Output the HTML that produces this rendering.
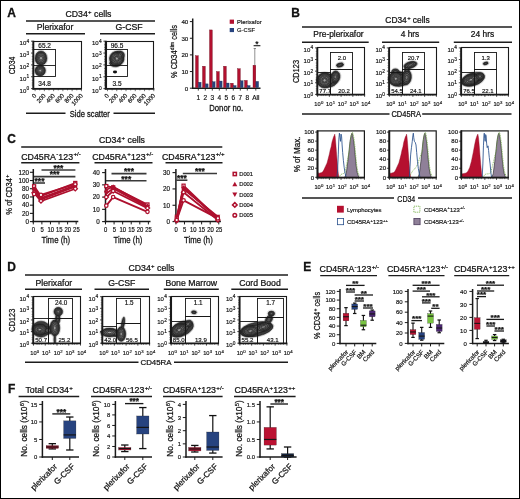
<!DOCTYPE html>
<html><head><meta charset="utf-8"><title>Figure</title>
<style>
html,body{margin:0;padding:0;background:#fff;}
body{width:520px;height:499px;overflow:hidden;font-family:"Liberation Sans",sans-serif;}
svg{display:block;will-change:transform;}
text{font-family:"Liberation Sans",sans-serif;}
</style></head><body>
<svg width="520" height="499" viewBox="0 0 520 499" font-family="Liberation Sans, sans-serif">
<rect x="0.00" y="0.00" width="520.00" height="499.00" fill="#ffffff" />
<text transform="translate(7.30,17.30)" font-size="12.0" text-anchor="start" font-weight="bold" fill="#111" stroke="#111" stroke-width="0.300" >A</text>
<text transform="translate(88.50,17.30)" font-size="8.7" text-anchor="middle" font-weight="normal" fill="#111" stroke="#111" stroke-width="0.244" >CD34<tspan font-size="6.09" dx="0.35" dy="-3.13">+</tspan><tspan dy="3.13"> cells</tspan></text>
<line x1="26.00" y1="20.90" x2="155.00" y2="20.90" stroke="#1c1c1c" stroke-width="1.45" />
<text transform="translate(55.00,30.30)" font-size="8.7" text-anchor="middle" font-weight="normal" fill="#111" stroke="#111" stroke-width="0.244" >Plerixafor</text>
<line x1="26.00" y1="33.80" x2="85.00" y2="33.80" stroke="#1c1c1c" stroke-width="1.45" />
<text transform="translate(129.00,30.30)" font-size="8.7" text-anchor="middle" font-weight="normal" fill="#111" stroke="#111" stroke-width="0.244" >G-CSF</text>
<line x1="100.00" y1="33.80" x2="155.00" y2="33.80" stroke="#1c1c1c" stroke-width="1.45" />
<ellipse cx="41.00" cy="58.20" rx="6.90" ry="8.10" fill="none" stroke="#999" stroke-width="0.35" transform="rotate(0 41.00 58.20)"/>
<ellipse cx="40.20" cy="70.60" rx="6.20" ry="6.30" fill="none" stroke="#999" stroke-width="0.35" transform="rotate(0 40.20 70.60)"/>
<ellipse cx="41.00" cy="58.20" rx="6.00" ry="7.20" fill="#3a3a3a" stroke="#151515" stroke-width="0.55" transform="rotate(0 41.00 58.20)"/>
<ellipse cx="40.20" cy="70.60" rx="5.30" ry="5.40" fill="#3a3a3a" stroke="#151515" stroke-width="0.55" transform="rotate(0 40.20 70.60)"/>
<ellipse cx="41.00" cy="58.20" rx="4.88" ry="5.85" fill="#525252" stroke="#151515" stroke-width="0.55" transform="rotate(0 41.00 58.20)"/>
<ellipse cx="40.20" cy="70.60" rx="4.31" ry="4.39" fill="#525252" stroke="#151515" stroke-width="0.55" transform="rotate(0 40.20 70.60)"/>
<ellipse cx="41.00" cy="58.20" rx="3.76" ry="4.51" fill="#666666" stroke="#151515" stroke-width="0.55" transform="rotate(0 41.00 58.20)"/>
<ellipse cx="40.20" cy="70.60" rx="3.32" ry="3.38" fill="#666666" stroke="#151515" stroke-width="0.55" transform="rotate(0 40.20 70.60)"/>
<ellipse cx="41.00" cy="58.20" rx="2.64" ry="3.16" fill="#747474" stroke="#151515" stroke-width="0.55" transform="rotate(0 41.00 58.20)"/>
<ellipse cx="40.20" cy="70.60" rx="2.33" ry="2.37" fill="#747474" stroke="#151515" stroke-width="0.55" transform="rotate(0 40.20 70.60)"/>
<ellipse cx="41.00" cy="58.20" rx="1.51" ry="1.82" fill="#a0a0a0" stroke="#151515" stroke-width="0.55" transform="rotate(0 41.00 58.20)"/>
<ellipse cx="40.20" cy="70.60" rx="1.34" ry="1.36" fill="#a0a0a0" stroke="#151515" stroke-width="0.55" transform="rotate(0 40.20 70.60)"/>
<rect x="33.50" y="49.50" width="22.00" height="27.00" fill="none" stroke="#151515" stroke-width="0.9" />
<line x1="33.60" y1="65.50" x2="55.50" y2="65.50" stroke="#151515" stroke-width="0.9" />
<rect x="33.50" y="41.50" width="48.00" height="47.00" fill="none" stroke="#1a1a1a" stroke-width="1.1" />
<line x1="33.30" y1="40.70" x2="33.30" y2="89.50" stroke="#1a1a1a" stroke-width="1.9" />
<line x1="32.40" y1="88.80" x2="81.90" y2="88.80" stroke="#1a1a1a" stroke-width="1.7" />
<line x1="31.00" y1="88.60" x2="32.80" y2="88.60" stroke="#1a1a1a" stroke-width="0.8" />
<line x1="31.72" y1="85.03" x2="32.80" y2="85.03" stroke="#1a1a1a" stroke-width="0.5" />
<line x1="31.72" y1="82.95" x2="32.80" y2="82.95" stroke="#1a1a1a" stroke-width="0.5" />
<line x1="31.72" y1="80.32" x2="32.80" y2="80.32" stroke="#1a1a1a" stroke-width="0.5" />
<line x1="31.00" y1="76.75" x2="32.80" y2="76.75" stroke="#1a1a1a" stroke-width="0.8" />
<line x1="31.72" y1="73.18" x2="32.80" y2="73.18" stroke="#1a1a1a" stroke-width="0.5" />
<line x1="31.72" y1="71.10" x2="32.80" y2="71.10" stroke="#1a1a1a" stroke-width="0.5" />
<line x1="31.72" y1="68.47" x2="32.80" y2="68.47" stroke="#1a1a1a" stroke-width="0.5" />
<line x1="31.00" y1="64.90" x2="32.80" y2="64.90" stroke="#1a1a1a" stroke-width="0.8" />
<line x1="31.72" y1="61.33" x2="32.80" y2="61.33" stroke="#1a1a1a" stroke-width="0.5" />
<line x1="31.72" y1="59.25" x2="32.80" y2="59.25" stroke="#1a1a1a" stroke-width="0.5" />
<line x1="31.72" y1="56.62" x2="32.80" y2="56.62" stroke="#1a1a1a" stroke-width="0.5" />
<line x1="31.00" y1="53.05" x2="32.80" y2="53.05" stroke="#1a1a1a" stroke-width="0.8" />
<line x1="31.72" y1="49.48" x2="32.80" y2="49.48" stroke="#1a1a1a" stroke-width="0.5" />
<line x1="31.72" y1="47.40" x2="32.80" y2="47.40" stroke="#1a1a1a" stroke-width="0.5" />
<line x1="31.72" y1="44.77" x2="32.80" y2="44.77" stroke="#1a1a1a" stroke-width="0.5" />
<line x1="31.00" y1="41.20" x2="32.80" y2="41.20" stroke="#1a1a1a" stroke-width="0.8" />
<text transform="translate(29.20,92.50)" font-size="6.0" text-anchor="end" font-weight="normal" fill="#111" stroke="#111" stroke-width="0.168" >10<tspan font-size="4.80" dx="0.24" dy="-2.16">0</tspan></text>
<text transform="translate(29.20,80.65)" font-size="6.0" text-anchor="end" font-weight="normal" fill="#111" stroke="#111" stroke-width="0.168" >10<tspan font-size="4.80" dx="0.24" dy="-2.16">1</tspan></text>
<text transform="translate(29.20,68.80)" font-size="6.0" text-anchor="end" font-weight="normal" fill="#111" stroke="#111" stroke-width="0.168" >10<tspan font-size="4.80" dx="0.24" dy="-2.16">2</tspan></text>
<text transform="translate(29.20,56.95)" font-size="6.0" text-anchor="end" font-weight="normal" fill="#111" stroke="#111" stroke-width="0.168" >10<tspan font-size="4.80" dx="0.24" dy="-2.16">3</tspan></text>
<text transform="translate(29.20,45.10)" font-size="6.0" text-anchor="end" font-weight="normal" fill="#111" stroke="#111" stroke-width="0.168" >10<tspan font-size="4.80" dx="0.24" dy="-2.16">4</tspan></text>
<line x1="35.10" y1="89.20" x2="35.10" y2="91.20" stroke="#1a1a1a" stroke-width="0.6" />
<line x1="39.73" y1="89.20" x2="39.73" y2="90.40" stroke="#1a1a1a" stroke-width="0.6" />
<line x1="44.36" y1="89.20" x2="44.36" y2="91.20" stroke="#1a1a1a" stroke-width="0.6" />
<line x1="48.99" y1="89.20" x2="48.99" y2="90.40" stroke="#1a1a1a" stroke-width="0.6" />
<line x1="53.62" y1="89.20" x2="53.62" y2="91.20" stroke="#1a1a1a" stroke-width="0.6" />
<line x1="58.25" y1="89.20" x2="58.25" y2="90.40" stroke="#1a1a1a" stroke-width="0.6" />
<line x1="62.88" y1="89.20" x2="62.88" y2="91.20" stroke="#1a1a1a" stroke-width="0.6" />
<line x1="67.51" y1="89.20" x2="67.51" y2="90.40" stroke="#1a1a1a" stroke-width="0.6" />
<line x1="72.14" y1="89.20" x2="72.14" y2="91.20" stroke="#1a1a1a" stroke-width="0.6" />
<line x1="76.77" y1="89.20" x2="76.77" y2="90.40" stroke="#1a1a1a" stroke-width="0.6" />
<line x1="81.40" y1="89.20" x2="81.40" y2="91.20" stroke="#1a1a1a" stroke-width="0.6" />
<text transform="translate(36.90,96.00) rotate(-47)" font-size="6.1" text-anchor="end" font-weight="normal" fill="#111" stroke="#111" stroke-width="0.171" >0</text>
<text transform="translate(46.16,96.00) rotate(-47)" font-size="6.1" text-anchor="end" font-weight="normal" fill="#111" stroke="#111" stroke-width="0.171" >200</text>
<text transform="translate(55.42,96.00) rotate(-47)" font-size="6.1" text-anchor="end" font-weight="normal" fill="#111" stroke="#111" stroke-width="0.171" >400</text>
<text transform="translate(64.68,96.00) rotate(-47)" font-size="6.1" text-anchor="end" font-weight="normal" fill="#111" stroke="#111" stroke-width="0.171" >600</text>
<text transform="translate(73.94,96.00) rotate(-47)" font-size="6.1" text-anchor="end" font-weight="normal" fill="#111" stroke="#111" stroke-width="0.171" >800</text>
<text transform="translate(83.20,96.00) rotate(-47)" font-size="6.1" text-anchor="end" font-weight="normal" fill="#111" stroke="#111" stroke-width="0.171" >1000</text>
<text transform="translate(44.60,48.40)" font-size="6.5" text-anchor="middle" font-weight="normal" fill="#111" stroke="#111" stroke-width="0.182" >65.2</text>
<text transform="translate(44.60,86.10)" font-size="6.5" text-anchor="middle" font-weight="normal" fill="#111" stroke="#111" stroke-width="0.182" >34.8</text>
<ellipse cx="115.00" cy="72" rx="2.1" ry="1.4" fill="#111"/>
<ellipse cx="115.20" cy="63.20" rx="6.50" ry="4.50" fill="none" stroke="#999" stroke-width="0.35" transform="rotate(0 115.20 63.20)"/>
<ellipse cx="116.80" cy="58.60" rx="8.20" ry="8.20" fill="none" stroke="#999" stroke-width="0.35" transform="rotate(30 116.80 58.60)"/>
<ellipse cx="119.20" cy="55.80" rx="6.30" ry="5.50" fill="none" stroke="#999" stroke-width="0.35" transform="rotate(-30 119.20 55.80)"/>
<ellipse cx="115.20" cy="63.20" rx="5.60" ry="3.60" fill="#3a3a3a" stroke="#151515" stroke-width="0.55" transform="rotate(0 115.20 63.20)"/>
<ellipse cx="116.80" cy="58.60" rx="7.30" ry="7.30" fill="#3a3a3a" stroke="#151515" stroke-width="0.55" transform="rotate(30 116.80 58.60)"/>
<ellipse cx="119.20" cy="55.80" rx="5.40" ry="4.60" fill="#3a3a3a" stroke="#151515" stroke-width="0.55" transform="rotate(-30 119.20 55.80)"/>
<ellipse cx="115.20" cy="63.20" rx="3.22" ry="2.07" fill="#525252" stroke="#151515" stroke-width="0.55" transform="rotate(0 115.20 63.20)"/>
<ellipse cx="116.80" cy="58.60" rx="6.15" ry="6.15" fill="#525252" stroke="#151515" stroke-width="0.55" transform="rotate(30 116.80 58.60)"/>
<ellipse cx="119.20" cy="55.80" rx="3.79" ry="3.23" fill="#525252" stroke="#151515" stroke-width="0.55" transform="rotate(-30 119.20 55.80)"/>
<ellipse cx="116.80" cy="58.60" rx="5.00" ry="5.00" fill="#666666" stroke="#151515" stroke-width="0.55" transform="rotate(30 116.80 58.60)"/>
<ellipse cx="119.20" cy="55.80" rx="2.18" ry="1.85" fill="#666666" stroke="#151515" stroke-width="0.55" transform="rotate(-30 119.20 55.80)"/>
<ellipse cx="116.80" cy="58.60" rx="3.85" ry="3.85" fill="#747474" stroke="#151515" stroke-width="0.55" transform="rotate(30 116.80 58.60)"/>
<ellipse cx="116.80" cy="58.60" rx="2.70" ry="2.70" fill="#606060" stroke="#151515" stroke-width="0.55" transform="rotate(30 116.80 58.60)"/>
<ellipse cx="116.80" cy="58.60" rx="1.55" ry="1.55" fill="#a0a0a0" stroke="#151515" stroke-width="0.55" transform="rotate(30 116.80 58.60)"/>
<rect x="106.50" y="49.50" width="21.00" height="27.00" fill="none" stroke="#151515" stroke-width="0.9" />
<line x1="106.00" y1="65.50" x2="127.50" y2="65.50" stroke="#151515" stroke-width="0.9" />
<rect x="106.50" y="41.50" width="47.00" height="47.00" fill="none" stroke="#1a1a1a" stroke-width="1.1" />
<line x1="105.70" y1="40.70" x2="105.70" y2="89.50" stroke="#1a1a1a" stroke-width="1.9" />
<line x1="104.80" y1="88.80" x2="154.30" y2="88.80" stroke="#1a1a1a" stroke-width="1.7" />
<line x1="103.40" y1="88.60" x2="105.20" y2="88.60" stroke="#1a1a1a" stroke-width="0.8" />
<line x1="104.12" y1="85.03" x2="105.20" y2="85.03" stroke="#1a1a1a" stroke-width="0.5" />
<line x1="104.12" y1="82.95" x2="105.20" y2="82.95" stroke="#1a1a1a" stroke-width="0.5" />
<line x1="104.12" y1="80.32" x2="105.20" y2="80.32" stroke="#1a1a1a" stroke-width="0.5" />
<line x1="103.40" y1="76.75" x2="105.20" y2="76.75" stroke="#1a1a1a" stroke-width="0.8" />
<line x1="104.12" y1="73.18" x2="105.20" y2="73.18" stroke="#1a1a1a" stroke-width="0.5" />
<line x1="104.12" y1="71.10" x2="105.20" y2="71.10" stroke="#1a1a1a" stroke-width="0.5" />
<line x1="104.12" y1="68.47" x2="105.20" y2="68.47" stroke="#1a1a1a" stroke-width="0.5" />
<line x1="103.40" y1="64.90" x2="105.20" y2="64.90" stroke="#1a1a1a" stroke-width="0.8" />
<line x1="104.12" y1="61.33" x2="105.20" y2="61.33" stroke="#1a1a1a" stroke-width="0.5" />
<line x1="104.12" y1="59.25" x2="105.20" y2="59.25" stroke="#1a1a1a" stroke-width="0.5" />
<line x1="104.12" y1="56.62" x2="105.20" y2="56.62" stroke="#1a1a1a" stroke-width="0.5" />
<line x1="103.40" y1="53.05" x2="105.20" y2="53.05" stroke="#1a1a1a" stroke-width="0.8" />
<line x1="104.12" y1="49.48" x2="105.20" y2="49.48" stroke="#1a1a1a" stroke-width="0.5" />
<line x1="104.12" y1="47.40" x2="105.20" y2="47.40" stroke="#1a1a1a" stroke-width="0.5" />
<line x1="104.12" y1="44.77" x2="105.20" y2="44.77" stroke="#1a1a1a" stroke-width="0.5" />
<line x1="103.40" y1="41.20" x2="105.20" y2="41.20" stroke="#1a1a1a" stroke-width="0.8" />
<text transform="translate(101.60,92.50)" font-size="6.0" text-anchor="end" font-weight="normal" fill="#111" stroke="#111" stroke-width="0.168" >10<tspan font-size="4.80" dx="0.24" dy="-2.16">0</tspan></text>
<text transform="translate(101.60,80.65)" font-size="6.0" text-anchor="end" font-weight="normal" fill="#111" stroke="#111" stroke-width="0.168" >10<tspan font-size="4.80" dx="0.24" dy="-2.16">1</tspan></text>
<text transform="translate(101.60,68.80)" font-size="6.0" text-anchor="end" font-weight="normal" fill="#111" stroke="#111" stroke-width="0.168" >10<tspan font-size="4.80" dx="0.24" dy="-2.16">2</tspan></text>
<text transform="translate(101.60,56.95)" font-size="6.0" text-anchor="end" font-weight="normal" fill="#111" stroke="#111" stroke-width="0.168" >10<tspan font-size="4.80" dx="0.24" dy="-2.16">3</tspan></text>
<text transform="translate(101.60,45.10)" font-size="6.0" text-anchor="end" font-weight="normal" fill="#111" stroke="#111" stroke-width="0.168" >10<tspan font-size="4.80" dx="0.24" dy="-2.16">4</tspan></text>
<line x1="107.50" y1="89.20" x2="107.50" y2="91.20" stroke="#1a1a1a" stroke-width="0.6" />
<line x1="112.13" y1="89.20" x2="112.13" y2="90.40" stroke="#1a1a1a" stroke-width="0.6" />
<line x1="116.76" y1="89.20" x2="116.76" y2="91.20" stroke="#1a1a1a" stroke-width="0.6" />
<line x1="121.39" y1="89.20" x2="121.39" y2="90.40" stroke="#1a1a1a" stroke-width="0.6" />
<line x1="126.02" y1="89.20" x2="126.02" y2="91.20" stroke="#1a1a1a" stroke-width="0.6" />
<line x1="130.65" y1="89.20" x2="130.65" y2="90.40" stroke="#1a1a1a" stroke-width="0.6" />
<line x1="135.28" y1="89.20" x2="135.28" y2="91.20" stroke="#1a1a1a" stroke-width="0.6" />
<line x1="139.91" y1="89.20" x2="139.91" y2="90.40" stroke="#1a1a1a" stroke-width="0.6" />
<line x1="144.54" y1="89.20" x2="144.54" y2="91.20" stroke="#1a1a1a" stroke-width="0.6" />
<line x1="149.17" y1="89.20" x2="149.17" y2="90.40" stroke="#1a1a1a" stroke-width="0.6" />
<line x1="153.80" y1="89.20" x2="153.80" y2="91.20" stroke="#1a1a1a" stroke-width="0.6" />
<text transform="translate(109.30,96.00) rotate(-47)" font-size="6.1" text-anchor="end" font-weight="normal" fill="#111" stroke="#111" stroke-width="0.171" >0</text>
<text transform="translate(118.56,96.00) rotate(-47)" font-size="6.1" text-anchor="end" font-weight="normal" fill="#111" stroke="#111" stroke-width="0.171" >200</text>
<text transform="translate(127.82,96.00) rotate(-47)" font-size="6.1" text-anchor="end" font-weight="normal" fill="#111" stroke="#111" stroke-width="0.171" >400</text>
<text transform="translate(137.08,96.00) rotate(-47)" font-size="6.1" text-anchor="end" font-weight="normal" fill="#111" stroke="#111" stroke-width="0.171" >600</text>
<text transform="translate(146.34,96.00) rotate(-47)" font-size="6.1" text-anchor="end" font-weight="normal" fill="#111" stroke="#111" stroke-width="0.171" >800</text>
<text transform="translate(155.60,96.00) rotate(-47)" font-size="6.1" text-anchor="end" font-weight="normal" fill="#111" stroke="#111" stroke-width="0.171" >1000</text>
<text transform="translate(117.00,48.40)" font-size="6.5" text-anchor="middle" font-weight="normal" fill="#111" stroke="#111" stroke-width="0.182" >96.5</text>
<text transform="translate(117.00,86.10)" font-size="6.5" text-anchor="middle" font-weight="normal" fill="#111" stroke="#111" stroke-width="0.182" >3.5</text>
<text transform="translate(14.80,65.50) rotate(-90) scale(0.8,1)" font-size="8.6" text-anchor="middle" font-weight="normal" fill="#111" stroke="#111" stroke-width="0.241" >CD34</text>
<text transform="translate(89.80,116.60) scale(0.79,1)" font-size="9.6" text-anchor="middle" font-weight="normal" fill="#111" stroke="#111" stroke-width="0.269" >Side scatter</text>
<line x1="26.00" y1="113.30" x2="65.50" y2="113.30" stroke="#1c1c1c" stroke-width="1.45" />
<line x1="113.50" y1="113.30" x2="155.00" y2="113.30" stroke="#1c1c1c" stroke-width="1.45" />
<line x1="192.70" y1="18.50" x2="192.70" y2="88.90" stroke="#1a1a1a" stroke-width="1.5" />
<line x1="192.00" y1="88.20" x2="260.50" y2="88.20" stroke="#1a1a1a" stroke-width="1.5" />
<line x1="189.90" y1="88.20" x2="192.70" y2="88.20" stroke="#1a1a1a" stroke-width="1.0" />
<text transform="translate(188.30,90.50)" font-size="6.2" text-anchor="end" font-weight="normal" fill="#111" stroke="#111" stroke-width="0.174" >0</text>
<line x1="189.90" y1="71.55" x2="192.70" y2="71.55" stroke="#1a1a1a" stroke-width="1.0" />
<text transform="translate(188.30,73.85)" font-size="6.2" text-anchor="end" font-weight="normal" fill="#111" stroke="#111" stroke-width="0.174" >10</text>
<line x1="189.90" y1="54.90" x2="192.70" y2="54.90" stroke="#1a1a1a" stroke-width="1.0" />
<text transform="translate(188.30,57.20)" font-size="6.2" text-anchor="end" font-weight="normal" fill="#111" stroke="#111" stroke-width="0.174" >20</text>
<line x1="189.90" y1="38.25" x2="192.70" y2="38.25" stroke="#1a1a1a" stroke-width="1.0" />
<text transform="translate(188.30,40.55)" font-size="6.2" text-anchor="end" font-weight="normal" fill="#111" stroke="#111" stroke-width="0.174" >30</text>
<line x1="189.90" y1="21.60" x2="192.70" y2="21.60" stroke="#1a1a1a" stroke-width="1.0" />
<text transform="translate(188.30,23.90)" font-size="6.2" text-anchor="end" font-weight="normal" fill="#111" stroke="#111" stroke-width="0.174" >40</text>
<rect x="195.50" y="55.73" width="2.80" height="31.87" fill="#b2102f" stroke="#6a0a1c" stroke-width="0.35" />
<rect x="198.40" y="82.21" width="2.70" height="5.39" fill="#27437f" stroke="#16233f" stroke-width="0.3" />
<rect x="202.50" y="66.22" width="2.80" height="21.38" fill="#b2102f" stroke="#6a0a1c" stroke-width="0.35" />
<rect x="205.40" y="83.87" width="2.70" height="3.73" fill="#27437f" stroke="#16233f" stroke-width="0.3" />
<rect x="209.50" y="29.93" width="2.80" height="57.67" fill="#b2102f" stroke="#6a0a1c" stroke-width="0.35" />
<rect x="212.40" y="81.71" width="2.70" height="5.89" fill="#27437f" stroke="#16233f" stroke-width="0.3" />
<rect x="216.50" y="71.55" width="2.80" height="16.05" fill="#b2102f" stroke="#6a0a1c" stroke-width="0.35" />
<rect x="219.40" y="81.04" width="2.70" height="6.56" fill="#27437f" stroke="#16233f" stroke-width="0.3" />
<rect x="223.50" y="66.22" width="2.80" height="21.38" fill="#b2102f" stroke="#6a0a1c" stroke-width="0.35" />
<rect x="226.40" y="83.04" width="2.70" height="4.56" fill="#27437f" stroke="#16233f" stroke-width="0.3" />
<rect x="230.50" y="83.20" width="2.80" height="4.40" fill="#b2102f" stroke="#6a0a1c" stroke-width="0.35" />
<rect x="233.40" y="85.54" width="2.70" height="2.06" fill="#27437f" stroke="#16233f" stroke-width="0.3" />
<rect x="237.50" y="68.72" width="2.80" height="18.88" fill="#b2102f" stroke="#6a0a1c" stroke-width="0.35" />
<rect x="240.40" y="80.71" width="2.70" height="6.89" fill="#27437f" stroke="#16233f" stroke-width="0.3" />
<rect x="244.50" y="80.37" width="2.80" height="7.23" fill="#b2102f" stroke="#6a0a1c" stroke-width="0.35" />
<rect x="247.40" y="85.54" width="2.70" height="2.06" fill="#27437f" stroke="#16233f" stroke-width="0.3" />
<rect x="253.00" y="65.22" width="2.80" height="22.38" fill="#b2102f" stroke="#6a0a1c" stroke-width="0.35" />
<rect x="255.90" y="81.37" width="2.70" height="6.23" fill="#27437f" stroke="#16233f" stroke-width="0.3" />
<text transform="translate(198.30,99.50)" font-size="6.5" text-anchor="middle" font-weight="normal" fill="#111" stroke="#111" stroke-width="0.182" >1</text>
<line x1="198.30" y1="88.20" x2="198.30" y2="90.60" stroke="#1a1a1a" stroke-width="0.8" />
<text transform="translate(205.30,99.50)" font-size="6.5" text-anchor="middle" font-weight="normal" fill="#111" stroke="#111" stroke-width="0.182" >2</text>
<line x1="205.30" y1="88.20" x2="205.30" y2="90.60" stroke="#1a1a1a" stroke-width="0.8" />
<text transform="translate(212.30,99.50)" font-size="6.5" text-anchor="middle" font-weight="normal" fill="#111" stroke="#111" stroke-width="0.182" >3</text>
<line x1="212.30" y1="88.20" x2="212.30" y2="90.60" stroke="#1a1a1a" stroke-width="0.8" />
<text transform="translate(219.30,99.50)" font-size="6.5" text-anchor="middle" font-weight="normal" fill="#111" stroke="#111" stroke-width="0.182" >4</text>
<line x1="219.30" y1="88.20" x2="219.30" y2="90.60" stroke="#1a1a1a" stroke-width="0.8" />
<text transform="translate(226.30,99.50)" font-size="6.5" text-anchor="middle" font-weight="normal" fill="#111" stroke="#111" stroke-width="0.182" >5</text>
<line x1="226.30" y1="88.20" x2="226.30" y2="90.60" stroke="#1a1a1a" stroke-width="0.8" />
<text transform="translate(233.30,99.50)" font-size="6.5" text-anchor="middle" font-weight="normal" fill="#111" stroke="#111" stroke-width="0.182" >6</text>
<line x1="233.30" y1="88.20" x2="233.30" y2="90.60" stroke="#1a1a1a" stroke-width="0.8" />
<text transform="translate(240.30,99.50)" font-size="6.5" text-anchor="middle" font-weight="normal" fill="#111" stroke="#111" stroke-width="0.182" >7</text>
<line x1="240.30" y1="88.20" x2="240.30" y2="90.60" stroke="#1a1a1a" stroke-width="0.8" />
<text transform="translate(247.30,99.50)" font-size="6.5" text-anchor="middle" font-weight="normal" fill="#111" stroke="#111" stroke-width="0.182" >8</text>
<line x1="247.30" y1="88.20" x2="247.30" y2="90.60" stroke="#1a1a1a" stroke-width="0.8" />
<text transform="translate(255.80,99.50)" font-size="6.5" text-anchor="middle" font-weight="normal" fill="#111" stroke="#111" stroke-width="0.182" >All</text>
<line x1="255.80" y1="88.20" x2="255.80" y2="90.60" stroke="#1a1a1a" stroke-width="0.8" />
<line x1="254.80" y1="48.50" x2="254.80" y2="65.50" stroke="#444" stroke-width="0.6" />
<line x1="253.60" y1="48.50" x2="256.00" y2="48.50" stroke="#444" stroke-width="0.6" />
<text transform="translate(257.00,47.30)" font-size="8.5" text-anchor="middle" font-weight="bold" fill="#111" stroke="#111" stroke-width="0.000" >*</text>
<line x1="253.60" y1="45.70" x2="260.40" y2="45.70" stroke="#1a1a1a" stroke-width="1.1" />
<text transform="translate(226.20,110.80) scale(0.84,1)" font-size="9.2" text-anchor="middle" font-weight="normal" fill="#111" stroke="#111" stroke-width="0.258" >Donor no.</text>
<text transform="translate(176.70,51.50) rotate(-90) scale(0.9,1)" font-size="8.2" text-anchor="middle" font-weight="normal" fill="#111" stroke="#111" stroke-width="0.230" >% CD34<tspan font-size="5.74" dx="0.33" dy="-2.95">dim</tspan><tspan dy="2.95"> cells</tspan></text>
<rect x="229.70" y="19.60" width="4.30" height="4.20" fill="#b2102f" />
<rect x="229.70" y="28.00" width="4.30" height="4.10" fill="#27437f" />
<text transform="translate(237.10,23.60)" font-size="5.8" text-anchor="start" font-weight="normal" fill="#111" stroke="#111" stroke-width="0.162" >Plerixafor</text>
<text transform="translate(237.10,32.10)" font-size="5.8" text-anchor="start" font-weight="normal" fill="#111" stroke="#111" stroke-width="0.162" >G-CSF</text>
<text transform="translate(291.30,17.30)" font-size="12.0" text-anchor="start" font-weight="bold" fill="#111" stroke="#111" stroke-width="0.300" >B</text>
<text transform="translate(407.50,22.60)" font-size="8.4" text-anchor="middle" font-weight="normal" fill="#111" stroke="#111" stroke-width="0.235" >CD34<tspan font-size="5.88" dx="0.34" dy="-3.02">+</tspan><tspan dy="3.02"> cells</tspan></text>
<line x1="302.00" y1="27.00" x2="512.00" y2="27.00" stroke="#1c1c1c" stroke-width="1.45" />
<text transform="translate(338.50,37.20)" font-size="8.4" text-anchor="middle" font-weight="normal" fill="#111" stroke="#111" stroke-width="0.235" >Pre-plerixafor</text>
<line x1="302.00" y1="42.20" x2="368.70" y2="42.20" stroke="#1c1c1c" stroke-width="1.45" />
<text transform="translate(410.00,37.20)" font-size="8.4" text-anchor="middle" font-weight="normal" fill="#111" stroke="#111" stroke-width="0.235" >4 hrs</text>
<line x1="382.00" y1="42.20" x2="439.20" y2="42.20" stroke="#1c1c1c" stroke-width="1.45" />
<text transform="translate(482.50,37.20)" font-size="8.4" text-anchor="middle" font-weight="normal" fill="#111" stroke="#111" stroke-width="0.235" >24 hrs</text>
<line x1="453.80" y1="42.20" x2="512.00" y2="42.20" stroke="#1c1c1c" stroke-width="1.45" />
<ellipse cx="327.10" cy="80.50" rx="11.40" ry="7.90" fill="none" stroke="#999" stroke-width="0.35" transform="rotate(0 327.10 80.50)"/>
<ellipse cx="324.60" cy="80.30" rx="8.50" ry="8.70" fill="none" stroke="#999" stroke-width="0.35" transform="rotate(0 324.60 80.30)"/>
<ellipse cx="335.40" cy="77.00" rx="5.50" ry="7.10" fill="none" stroke="#999" stroke-width="0.35" transform="rotate(10 335.40 77.00)"/>
<ellipse cx="340.00" cy="65.00" rx="4.60" ry="3.00" fill="none" stroke="#999" stroke-width="0.35" transform="rotate(-15 340.00 65.00)"/>
<ellipse cx="327.10" cy="80.50" rx="10.50" ry="7.00" fill="#3a3a3a" stroke="#151515" stroke-width="0.55" transform="rotate(0 327.10 80.50)"/>
<ellipse cx="324.60" cy="80.30" rx="7.60" ry="7.80" fill="#3a3a3a" stroke="#151515" stroke-width="0.55" transform="rotate(0 324.60 80.30)"/>
<ellipse cx="335.40" cy="77.00" rx="4.60" ry="6.20" fill="#3a3a3a" stroke="#151515" stroke-width="0.55" transform="rotate(10 335.40 77.00)"/>
<ellipse cx="340.00" cy="65.00" rx="3.70" ry="2.10" fill="#3a3a3a" stroke="#151515" stroke-width="0.55" transform="rotate(-15 340.00 65.00)"/>
<ellipse cx="327.10" cy="80.50" rx="6.03" ry="4.02" fill="#525252" stroke="#151515" stroke-width="0.55" transform="rotate(0 327.10 80.50)"/>
<ellipse cx="324.60" cy="80.30" rx="6.40" ry="6.57" fill="#525252" stroke="#151515" stroke-width="0.55" transform="rotate(0 324.60 80.30)"/>
<ellipse cx="335.40" cy="77.00" rx="3.54" ry="4.77" fill="#525252" stroke="#151515" stroke-width="0.55" transform="rotate(10 335.40 77.00)"/>
<ellipse cx="340.00" cy="65.00" rx="2.60" ry="1.47" fill="#525252" stroke="#151515" stroke-width="0.55" transform="rotate(-15 340.00 65.00)"/>
<ellipse cx="324.60" cy="80.30" rx="5.21" ry="5.34" fill="#666666" stroke="#151515" stroke-width="0.55" transform="rotate(0 324.60 80.30)"/>
<ellipse cx="335.40" cy="77.00" rx="2.49" ry="3.35" fill="#666666" stroke="#151515" stroke-width="0.55" transform="rotate(10 335.40 77.00)"/>
<ellipse cx="340.00" cy="65.00" rx="1.49" ry="0.85" fill="#666666" stroke="#151515" stroke-width="0.55" transform="rotate(-15 340.00 65.00)"/>
<ellipse cx="324.60" cy="80.30" rx="4.01" ry="4.11" fill="#747474" stroke="#151515" stroke-width="0.55" transform="rotate(0 324.60 80.30)"/>
<ellipse cx="335.40" cy="77.00" rx="1.43" ry="1.92" fill="#747474" stroke="#151515" stroke-width="0.55" transform="rotate(10 335.40 77.00)"/>
<ellipse cx="324.60" cy="80.30" rx="2.81" ry="2.89" fill="#606060" stroke="#151515" stroke-width="0.55" transform="rotate(0 324.60 80.30)"/>
<ellipse cx="324.60" cy="80.30" rx="1.62" ry="1.66" fill="#a0a0a0" stroke="#151515" stroke-width="0.55" transform="rotate(0 324.60 80.30)"/>
<rect x="330.50" y="52.50" width="22.00" height="17.00" fill="none" stroke="#151515" stroke-width="0.9" />
<rect x="330.50" y="69.50" width="22.00" height="25.00" fill="none" stroke="#151515" stroke-width="0.9" />
<rect x="317.50" y="72.50" width="13.00" height="22.00" fill="none" stroke="#151515" stroke-width="0.9" />
<rect x="317.50" y="47.50" width="47.00" height="47.00" fill="none" stroke="#1a1a1a" stroke-width="1.1" />
<line x1="317.30" y1="47.40" x2="317.30" y2="95.30" stroke="#1a1a1a" stroke-width="1.9" />
<line x1="316.40" y1="94.60" x2="365.10" y2="94.60" stroke="#1a1a1a" stroke-width="1.7" />
<line x1="315.00" y1="94.40" x2="316.80" y2="94.40" stroke="#1a1a1a" stroke-width="0.8" />
<line x1="315.72" y1="90.90" x2="316.80" y2="90.90" stroke="#1a1a1a" stroke-width="0.5" />
<line x1="315.72" y1="88.85" x2="316.80" y2="88.85" stroke="#1a1a1a" stroke-width="0.5" />
<line x1="315.72" y1="86.27" x2="316.80" y2="86.27" stroke="#1a1a1a" stroke-width="0.5" />
<line x1="315.00" y1="82.78" x2="316.80" y2="82.78" stroke="#1a1a1a" stroke-width="0.8" />
<line x1="315.72" y1="79.28" x2="316.80" y2="79.28" stroke="#1a1a1a" stroke-width="0.5" />
<line x1="315.72" y1="77.23" x2="316.80" y2="77.23" stroke="#1a1a1a" stroke-width="0.5" />
<line x1="315.72" y1="74.65" x2="316.80" y2="74.65" stroke="#1a1a1a" stroke-width="0.5" />
<line x1="315.00" y1="71.15" x2="316.80" y2="71.15" stroke="#1a1a1a" stroke-width="0.8" />
<line x1="315.72" y1="67.65" x2="316.80" y2="67.65" stroke="#1a1a1a" stroke-width="0.5" />
<line x1="315.72" y1="65.60" x2="316.80" y2="65.60" stroke="#1a1a1a" stroke-width="0.5" />
<line x1="315.72" y1="63.02" x2="316.80" y2="63.02" stroke="#1a1a1a" stroke-width="0.5" />
<line x1="315.00" y1="59.52" x2="316.80" y2="59.52" stroke="#1a1a1a" stroke-width="0.8" />
<line x1="315.72" y1="56.03" x2="316.80" y2="56.03" stroke="#1a1a1a" stroke-width="0.5" />
<line x1="315.72" y1="53.98" x2="316.80" y2="53.98" stroke="#1a1a1a" stroke-width="0.5" />
<line x1="315.72" y1="51.40" x2="316.80" y2="51.40" stroke="#1a1a1a" stroke-width="0.5" />
<line x1="315.00" y1="47.90" x2="316.80" y2="47.90" stroke="#1a1a1a" stroke-width="0.8" />
<text transform="translate(313.20,98.00)" font-size="6.0" text-anchor="end" font-weight="normal" fill="#111" stroke="#111" stroke-width="0.168" >10<tspan font-size="4.80" dx="0.24" dy="-2.16">0</tspan></text>
<text transform="translate(313.20,86.38)" font-size="6.0" text-anchor="end" font-weight="normal" fill="#111" stroke="#111" stroke-width="0.168" >10<tspan font-size="4.80" dx="0.24" dy="-2.16">1</tspan></text>
<text transform="translate(313.20,74.75)" font-size="6.0" text-anchor="end" font-weight="normal" fill="#111" stroke="#111" stroke-width="0.168" >10<tspan font-size="4.80" dx="0.24" dy="-2.16">2</tspan></text>
<text transform="translate(313.20,63.12)" font-size="6.0" text-anchor="end" font-weight="normal" fill="#111" stroke="#111" stroke-width="0.168" >10<tspan font-size="4.80" dx="0.24" dy="-2.16">3</tspan></text>
<text transform="translate(313.20,51.50)" font-size="6.0" text-anchor="end" font-weight="normal" fill="#111" stroke="#111" stroke-width="0.168" >10<tspan font-size="4.80" dx="0.24" dy="-2.16">4</tspan></text>
<line x1="317.60" y1="95.00" x2="317.60" y2="96.80" stroke="#1a1a1a" stroke-width="0.8" />
<line x1="321.14" y1="95.00" x2="321.14" y2="96.08" stroke="#1a1a1a" stroke-width="0.5" />
<line x1="323.21" y1="95.00" x2="323.21" y2="96.08" stroke="#1a1a1a" stroke-width="0.5" />
<line x1="325.81" y1="95.00" x2="325.81" y2="96.08" stroke="#1a1a1a" stroke-width="0.5" />
<line x1="329.35" y1="95.00" x2="329.35" y2="96.80" stroke="#1a1a1a" stroke-width="0.8" />
<line x1="332.89" y1="95.00" x2="332.89" y2="96.08" stroke="#1a1a1a" stroke-width="0.5" />
<line x1="334.96" y1="95.00" x2="334.96" y2="96.08" stroke="#1a1a1a" stroke-width="0.5" />
<line x1="337.56" y1="95.00" x2="337.56" y2="96.08" stroke="#1a1a1a" stroke-width="0.5" />
<line x1="341.10" y1="95.00" x2="341.10" y2="96.80" stroke="#1a1a1a" stroke-width="0.8" />
<line x1="344.64" y1="95.00" x2="344.64" y2="96.08" stroke="#1a1a1a" stroke-width="0.5" />
<line x1="346.71" y1="95.00" x2="346.71" y2="96.08" stroke="#1a1a1a" stroke-width="0.5" />
<line x1="349.31" y1="95.00" x2="349.31" y2="96.08" stroke="#1a1a1a" stroke-width="0.5" />
<line x1="352.85" y1="95.00" x2="352.85" y2="96.80" stroke="#1a1a1a" stroke-width="0.8" />
<line x1="356.39" y1="95.00" x2="356.39" y2="96.08" stroke="#1a1a1a" stroke-width="0.5" />
<line x1="358.46" y1="95.00" x2="358.46" y2="96.08" stroke="#1a1a1a" stroke-width="0.5" />
<line x1="361.06" y1="95.00" x2="361.06" y2="96.08" stroke="#1a1a1a" stroke-width="0.5" />
<line x1="364.60" y1="95.00" x2="364.60" y2="96.80" stroke="#1a1a1a" stroke-width="0.8" />
<text transform="translate(318.80,106.10)" font-size="5.7" text-anchor="middle" font-weight="normal" fill="#111" stroke="#111" stroke-width="0.160" >10<tspan font-size="4.28" dx="0.23" dy="-2.05">0</tspan></text>
<text transform="translate(330.55,106.10)" font-size="5.7" text-anchor="middle" font-weight="normal" fill="#111" stroke="#111" stroke-width="0.160" >10<tspan font-size="4.28" dx="0.23" dy="-2.05">1</tspan></text>
<text transform="translate(342.30,106.10)" font-size="5.7" text-anchor="middle" font-weight="normal" fill="#111" stroke="#111" stroke-width="0.160" >10<tspan font-size="4.28" dx="0.23" dy="-2.05">2</tspan></text>
<text transform="translate(354.05,106.10)" font-size="5.7" text-anchor="middle" font-weight="normal" fill="#111" stroke="#111" stroke-width="0.160" >10<tspan font-size="4.28" dx="0.23" dy="-2.05">3</tspan></text>
<text transform="translate(365.80,106.10)" font-size="5.7" text-anchor="middle" font-weight="normal" fill="#111" stroke="#111" stroke-width="0.160" >10<tspan font-size="4.28" dx="0.23" dy="-2.05">4</tspan></text>
<text transform="translate(341.80,59.90)" font-size="6.0" text-anchor="middle" font-weight="normal" fill="#111" stroke="#111" stroke-width="0.168" >2.0</text>
<text transform="translate(325.20,92.60)" font-size="6.0" text-anchor="middle" font-weight="normal" fill="#111" stroke="#111" stroke-width="0.168" >77.7</text>
<text transform="translate(344.00,92.60)" font-size="6.0" text-anchor="middle" font-weight="normal" fill="#111" stroke="#111" stroke-width="0.168" >20.2</text>
<ellipse cx="398.90" cy="79.00" rx="11.40" ry="8.40" fill="none" stroke="#999" stroke-width="0.35" transform="rotate(0 398.90 79.00)"/>
<ellipse cx="395.40" cy="73.00" rx="4.90" ry="5.10" fill="none" stroke="#999" stroke-width="0.35" transform="rotate(0 395.40 73.00)"/>
<ellipse cx="395.80" cy="78.80" rx="7.90" ry="7.90" fill="none" stroke="#999" stroke-width="0.35" transform="rotate(0 395.80 78.80)"/>
<ellipse cx="406.60" cy="77.50" rx="5.70" ry="8.40" fill="none" stroke="#999" stroke-width="0.35" transform="rotate(8 406.60 77.50)"/>
<ellipse cx="410.40" cy="65.00" rx="7.70" ry="4.20" fill="none" stroke="#999" stroke-width="0.35" transform="rotate(-15 410.40 65.00)"/>
<ellipse cx="406.90" cy="69.50" rx="3.40" ry="4.40" fill="none" stroke="#999" stroke-width="0.35" transform="rotate(0 406.90 69.50)"/>
<ellipse cx="398.90" cy="79.00" rx="10.50" ry="7.50" fill="#3a3a3a" stroke="#151515" stroke-width="0.55" transform="rotate(0 398.90 79.00)"/>
<ellipse cx="395.40" cy="73.00" rx="4.00" ry="4.20" fill="#3a3a3a" stroke="#151515" stroke-width="0.55" transform="rotate(0 395.40 73.00)"/>
<ellipse cx="395.80" cy="78.80" rx="7.00" ry="7.00" fill="#3a3a3a" stroke="#151515" stroke-width="0.55" transform="rotate(0 395.80 78.80)"/>
<ellipse cx="406.60" cy="77.50" rx="4.80" ry="7.50" fill="#3a3a3a" stroke="#151515" stroke-width="0.55" transform="rotate(8 406.60 77.50)"/>
<ellipse cx="410.40" cy="65.00" rx="6.80" ry="3.30" fill="#3a3a3a" stroke="#151515" stroke-width="0.55" transform="rotate(-15 410.40 65.00)"/>
<ellipse cx="406.90" cy="69.50" rx="2.50" ry="3.50" fill="#3a3a3a" stroke="#151515" stroke-width="0.55" transform="rotate(0 406.90 69.50)"/>
<ellipse cx="398.90" cy="79.00" rx="6.03" ry="4.31" fill="#525252" stroke="#151515" stroke-width="0.55" transform="rotate(0 398.90 79.00)"/>
<ellipse cx="395.40" cy="73.00" rx="2.30" ry="2.41" fill="#525252" stroke="#151515" stroke-width="0.55" transform="rotate(0 395.40 73.00)"/>
<ellipse cx="395.80" cy="78.80" rx="5.90" ry="5.90" fill="#525252" stroke="#151515" stroke-width="0.55" transform="rotate(0 395.80 78.80)"/>
<ellipse cx="406.60" cy="77.50" rx="3.70" ry="5.78" fill="#525252" stroke="#151515" stroke-width="0.55" transform="rotate(8 406.60 77.50)"/>
<ellipse cx="410.40" cy="65.00" rx="5.24" ry="2.54" fill="#525252" stroke="#151515" stroke-width="0.55" transform="rotate(-15 410.40 65.00)"/>
<ellipse cx="406.90" cy="69.50" rx="1.44" ry="2.01" fill="#525252" stroke="#151515" stroke-width="0.55" transform="rotate(0 406.90 69.50)"/>
<ellipse cx="395.80" cy="78.80" rx="4.80" ry="4.80" fill="#666666" stroke="#151515" stroke-width="0.55" transform="rotate(0 395.80 78.80)"/>
<ellipse cx="406.60" cy="77.50" rx="2.59" ry="4.05" fill="#666666" stroke="#151515" stroke-width="0.55" transform="rotate(8 406.60 77.50)"/>
<ellipse cx="410.40" cy="65.00" rx="3.67" ry="1.78" fill="#666666" stroke="#151515" stroke-width="0.55" transform="rotate(-15 410.40 65.00)"/>
<ellipse cx="395.80" cy="78.80" rx="3.69" ry="3.69" fill="#747474" stroke="#151515" stroke-width="0.55" transform="rotate(0 395.80 78.80)"/>
<ellipse cx="406.60" cy="77.50" rx="1.49" ry="2.33" fill="#747474" stroke="#151515" stroke-width="0.55" transform="rotate(8 406.60 77.50)"/>
<ellipse cx="410.40" cy="65.00" rx="2.11" ry="1.02" fill="#747474" stroke="#151515" stroke-width="0.55" transform="rotate(-15 410.40 65.00)"/>
<ellipse cx="395.80" cy="78.80" rx="2.59" ry="2.59" fill="#606060" stroke="#151515" stroke-width="0.55" transform="rotate(0 395.80 78.80)"/>
<ellipse cx="395.80" cy="78.80" rx="1.49" ry="1.49" fill="#a0a0a0" stroke="#151515" stroke-width="0.55" transform="rotate(0 395.80 78.80)"/>
<rect x="402.50" y="52.50" width="22.00" height="17.00" fill="none" stroke="#151515" stroke-width="0.9" />
<rect x="402.50" y="69.50" width="22.00" height="25.00" fill="none" stroke="#151515" stroke-width="0.9" />
<rect x="389.50" y="72.50" width="13.00" height="22.00" fill="none" stroke="#151515" stroke-width="0.9" />
<rect x="389.50" y="47.50" width="47.00" height="47.00" fill="none" stroke="#1a1a1a" stroke-width="1.1" />
<line x1="389.10" y1="47.40" x2="389.10" y2="95.30" stroke="#1a1a1a" stroke-width="1.9" />
<line x1="388.20" y1="94.60" x2="436.90" y2="94.60" stroke="#1a1a1a" stroke-width="1.7" />
<line x1="386.80" y1="94.40" x2="388.60" y2="94.40" stroke="#1a1a1a" stroke-width="0.8" />
<line x1="387.52" y1="90.90" x2="388.60" y2="90.90" stroke="#1a1a1a" stroke-width="0.5" />
<line x1="387.52" y1="88.85" x2="388.60" y2="88.85" stroke="#1a1a1a" stroke-width="0.5" />
<line x1="387.52" y1="86.27" x2="388.60" y2="86.27" stroke="#1a1a1a" stroke-width="0.5" />
<line x1="386.80" y1="82.78" x2="388.60" y2="82.78" stroke="#1a1a1a" stroke-width="0.8" />
<line x1="387.52" y1="79.28" x2="388.60" y2="79.28" stroke="#1a1a1a" stroke-width="0.5" />
<line x1="387.52" y1="77.23" x2="388.60" y2="77.23" stroke="#1a1a1a" stroke-width="0.5" />
<line x1="387.52" y1="74.65" x2="388.60" y2="74.65" stroke="#1a1a1a" stroke-width="0.5" />
<line x1="386.80" y1="71.15" x2="388.60" y2="71.15" stroke="#1a1a1a" stroke-width="0.8" />
<line x1="387.52" y1="67.65" x2="388.60" y2="67.65" stroke="#1a1a1a" stroke-width="0.5" />
<line x1="387.52" y1="65.60" x2="388.60" y2="65.60" stroke="#1a1a1a" stroke-width="0.5" />
<line x1="387.52" y1="63.02" x2="388.60" y2="63.02" stroke="#1a1a1a" stroke-width="0.5" />
<line x1="386.80" y1="59.52" x2="388.60" y2="59.52" stroke="#1a1a1a" stroke-width="0.8" />
<line x1="387.52" y1="56.03" x2="388.60" y2="56.03" stroke="#1a1a1a" stroke-width="0.5" />
<line x1="387.52" y1="53.98" x2="388.60" y2="53.98" stroke="#1a1a1a" stroke-width="0.5" />
<line x1="387.52" y1="51.40" x2="388.60" y2="51.40" stroke="#1a1a1a" stroke-width="0.5" />
<line x1="386.80" y1="47.90" x2="388.60" y2="47.90" stroke="#1a1a1a" stroke-width="0.8" />
<text transform="translate(385.00,98.00)" font-size="6.0" text-anchor="end" font-weight="normal" fill="#111" stroke="#111" stroke-width="0.168" >10<tspan font-size="4.80" dx="0.24" dy="-2.16">0</tspan></text>
<text transform="translate(385.00,86.38)" font-size="6.0" text-anchor="end" font-weight="normal" fill="#111" stroke="#111" stroke-width="0.168" >10<tspan font-size="4.80" dx="0.24" dy="-2.16">1</tspan></text>
<text transform="translate(385.00,74.75)" font-size="6.0" text-anchor="end" font-weight="normal" fill="#111" stroke="#111" stroke-width="0.168" >10<tspan font-size="4.80" dx="0.24" dy="-2.16">2</tspan></text>
<text transform="translate(385.00,63.12)" font-size="6.0" text-anchor="end" font-weight="normal" fill="#111" stroke="#111" stroke-width="0.168" >10<tspan font-size="4.80" dx="0.24" dy="-2.16">3</tspan></text>
<text transform="translate(385.00,51.50)" font-size="6.0" text-anchor="end" font-weight="normal" fill="#111" stroke="#111" stroke-width="0.168" >10<tspan font-size="4.80" dx="0.24" dy="-2.16">4</tspan></text>
<line x1="389.40" y1="95.00" x2="389.40" y2="96.80" stroke="#1a1a1a" stroke-width="0.8" />
<line x1="392.94" y1="95.00" x2="392.94" y2="96.08" stroke="#1a1a1a" stroke-width="0.5" />
<line x1="395.01" y1="95.00" x2="395.01" y2="96.08" stroke="#1a1a1a" stroke-width="0.5" />
<line x1="397.61" y1="95.00" x2="397.61" y2="96.08" stroke="#1a1a1a" stroke-width="0.5" />
<line x1="401.15" y1="95.00" x2="401.15" y2="96.80" stroke="#1a1a1a" stroke-width="0.8" />
<line x1="404.69" y1="95.00" x2="404.69" y2="96.08" stroke="#1a1a1a" stroke-width="0.5" />
<line x1="406.76" y1="95.00" x2="406.76" y2="96.08" stroke="#1a1a1a" stroke-width="0.5" />
<line x1="409.36" y1="95.00" x2="409.36" y2="96.08" stroke="#1a1a1a" stroke-width="0.5" />
<line x1="412.90" y1="95.00" x2="412.90" y2="96.80" stroke="#1a1a1a" stroke-width="0.8" />
<line x1="416.44" y1="95.00" x2="416.44" y2="96.08" stroke="#1a1a1a" stroke-width="0.5" />
<line x1="418.51" y1="95.00" x2="418.51" y2="96.08" stroke="#1a1a1a" stroke-width="0.5" />
<line x1="421.11" y1="95.00" x2="421.11" y2="96.08" stroke="#1a1a1a" stroke-width="0.5" />
<line x1="424.65" y1="95.00" x2="424.65" y2="96.80" stroke="#1a1a1a" stroke-width="0.8" />
<line x1="428.19" y1="95.00" x2="428.19" y2="96.08" stroke="#1a1a1a" stroke-width="0.5" />
<line x1="430.26" y1="95.00" x2="430.26" y2="96.08" stroke="#1a1a1a" stroke-width="0.5" />
<line x1="432.86" y1="95.00" x2="432.86" y2="96.08" stroke="#1a1a1a" stroke-width="0.5" />
<line x1="436.40" y1="95.00" x2="436.40" y2="96.80" stroke="#1a1a1a" stroke-width="0.8" />
<text transform="translate(390.60,106.10)" font-size="5.7" text-anchor="middle" font-weight="normal" fill="#111" stroke="#111" stroke-width="0.160" >10<tspan font-size="4.28" dx="0.23" dy="-2.05">0</tspan></text>
<text transform="translate(402.35,106.10)" font-size="5.7" text-anchor="middle" font-weight="normal" fill="#111" stroke="#111" stroke-width="0.160" >10<tspan font-size="4.28" dx="0.23" dy="-2.05">1</tspan></text>
<text transform="translate(414.10,106.10)" font-size="5.7" text-anchor="middle" font-weight="normal" fill="#111" stroke="#111" stroke-width="0.160" >10<tspan font-size="4.28" dx="0.23" dy="-2.05">2</tspan></text>
<text transform="translate(425.85,106.10)" font-size="5.7" text-anchor="middle" font-weight="normal" fill="#111" stroke="#111" stroke-width="0.160" >10<tspan font-size="4.28" dx="0.23" dy="-2.05">3</tspan></text>
<text transform="translate(437.60,106.10)" font-size="5.7" text-anchor="middle" font-weight="normal" fill="#111" stroke="#111" stroke-width="0.160" >10<tspan font-size="4.28" dx="0.23" dy="-2.05">4</tspan></text>
<text transform="translate(413.60,59.90)" font-size="6.0" text-anchor="middle" font-weight="normal" fill="#111" stroke="#111" stroke-width="0.168" >20.7</text>
<text transform="translate(397.00,92.60)" font-size="6.0" text-anchor="middle" font-weight="normal" fill="#111" stroke="#111" stroke-width="0.168" >54.5</text>
<text transform="translate(415.80,92.60)" font-size="6.0" text-anchor="middle" font-weight="normal" fill="#111" stroke="#111" stroke-width="0.168" >24.1</text>
<ellipse cx="472.90" cy="79.30" rx="12.90" ry="7.30" fill="none" stroke="#999" stroke-width="0.35" transform="rotate(-17 472.90 79.30)"/>
<ellipse cx="470.80" cy="79.80" rx="9.90" ry="6.50" fill="none" stroke="#999" stroke-width="0.35" transform="rotate(-17 470.80 79.80)"/>
<ellipse cx="479.90" cy="76.50" rx="5.30" ry="4.50" fill="none" stroke="#999" stroke-width="0.35" transform="rotate(-20 479.90 76.50)"/>
<ellipse cx="485.70" cy="63.40" rx="3.50" ry="2.30" fill="none" stroke="#999" stroke-width="0.35" transform="rotate(-15 485.70 63.40)"/>
<ellipse cx="472.90" cy="79.30" rx="12.00" ry="6.40" fill="#3a3a3a" stroke="#151515" stroke-width="0.55" transform="rotate(-17 472.90 79.30)"/>
<ellipse cx="470.80" cy="79.80" rx="9.00" ry="5.60" fill="#3a3a3a" stroke="#151515" stroke-width="0.55" transform="rotate(-17 470.80 79.80)"/>
<ellipse cx="479.90" cy="76.50" rx="4.40" ry="3.60" fill="#3a3a3a" stroke="#151515" stroke-width="0.55" transform="rotate(-20 479.90 76.50)"/>
<ellipse cx="485.70" cy="63.40" rx="2.60" ry="1.40" fill="#3a3a3a" stroke="#151515" stroke-width="0.55" transform="rotate(-15 485.70 63.40)"/>
<ellipse cx="472.90" cy="79.30" rx="6.89" ry="3.68" fill="#525252" stroke="#151515" stroke-width="0.55" transform="rotate(-17 472.90 79.30)"/>
<ellipse cx="470.80" cy="79.80" rx="7.58" ry="4.72" fill="#525252" stroke="#151515" stroke-width="0.55" transform="rotate(-17 470.80 79.80)"/>
<ellipse cx="479.90" cy="76.50" rx="3.09" ry="2.53" fill="#525252" stroke="#151515" stroke-width="0.55" transform="rotate(-20 479.90 76.50)"/>
<ellipse cx="485.70" cy="63.40" rx="1.49" ry="0.80" fill="#525252" stroke="#151515" stroke-width="0.55" transform="rotate(-15 485.70 63.40)"/>
<ellipse cx="470.80" cy="79.80" rx="6.17" ry="3.84" fill="#666666" stroke="#151515" stroke-width="0.55" transform="rotate(-17 470.80 79.80)"/>
<ellipse cx="479.90" cy="76.50" rx="1.77" ry="1.45" fill="#666666" stroke="#151515" stroke-width="0.55" transform="rotate(-20 479.90 76.50)"/>
<ellipse cx="470.80" cy="79.80" rx="4.75" ry="2.95" fill="#747474" stroke="#151515" stroke-width="0.55" transform="rotate(-17 470.80 79.80)"/>
<ellipse cx="470.80" cy="79.80" rx="3.33" ry="2.07" fill="#606060" stroke="#151515" stroke-width="0.55" transform="rotate(-17 470.80 79.80)"/>
<ellipse cx="470.80" cy="79.80" rx="1.91" ry="1.19" fill="#a0a0a0" stroke="#151515" stroke-width="0.55" transform="rotate(-17 470.80 79.80)"/>
<rect x="474.50" y="52.50" width="22.00" height="17.00" fill="none" stroke="#151515" stroke-width="0.9" />
<rect x="474.50" y="69.50" width="22.00" height="25.00" fill="none" stroke="#151515" stroke-width="0.9" />
<rect x="461.50" y="72.50" width="13.00" height="22.00" fill="none" stroke="#151515" stroke-width="0.9" />
<rect x="461.50" y="47.50" width="47.00" height="47.00" fill="none" stroke="#1a1a1a" stroke-width="1.1" />
<line x1="461.10" y1="47.40" x2="461.10" y2="95.30" stroke="#1a1a1a" stroke-width="1.9" />
<line x1="460.20" y1="94.60" x2="508.90" y2="94.60" stroke="#1a1a1a" stroke-width="1.7" />
<line x1="458.80" y1="94.40" x2="460.60" y2="94.40" stroke="#1a1a1a" stroke-width="0.8" />
<line x1="459.52" y1="90.90" x2="460.60" y2="90.90" stroke="#1a1a1a" stroke-width="0.5" />
<line x1="459.52" y1="88.85" x2="460.60" y2="88.85" stroke="#1a1a1a" stroke-width="0.5" />
<line x1="459.52" y1="86.27" x2="460.60" y2="86.27" stroke="#1a1a1a" stroke-width="0.5" />
<line x1="458.80" y1="82.78" x2="460.60" y2="82.78" stroke="#1a1a1a" stroke-width="0.8" />
<line x1="459.52" y1="79.28" x2="460.60" y2="79.28" stroke="#1a1a1a" stroke-width="0.5" />
<line x1="459.52" y1="77.23" x2="460.60" y2="77.23" stroke="#1a1a1a" stroke-width="0.5" />
<line x1="459.52" y1="74.65" x2="460.60" y2="74.65" stroke="#1a1a1a" stroke-width="0.5" />
<line x1="458.80" y1="71.15" x2="460.60" y2="71.15" stroke="#1a1a1a" stroke-width="0.8" />
<line x1="459.52" y1="67.65" x2="460.60" y2="67.65" stroke="#1a1a1a" stroke-width="0.5" />
<line x1="459.52" y1="65.60" x2="460.60" y2="65.60" stroke="#1a1a1a" stroke-width="0.5" />
<line x1="459.52" y1="63.02" x2="460.60" y2="63.02" stroke="#1a1a1a" stroke-width="0.5" />
<line x1="458.80" y1="59.52" x2="460.60" y2="59.52" stroke="#1a1a1a" stroke-width="0.8" />
<line x1="459.52" y1="56.03" x2="460.60" y2="56.03" stroke="#1a1a1a" stroke-width="0.5" />
<line x1="459.52" y1="53.98" x2="460.60" y2="53.98" stroke="#1a1a1a" stroke-width="0.5" />
<line x1="459.52" y1="51.40" x2="460.60" y2="51.40" stroke="#1a1a1a" stroke-width="0.5" />
<line x1="458.80" y1="47.90" x2="460.60" y2="47.90" stroke="#1a1a1a" stroke-width="0.8" />
<text transform="translate(457.00,98.00)" font-size="6.0" text-anchor="end" font-weight="normal" fill="#111" stroke="#111" stroke-width="0.168" >10<tspan font-size="4.80" dx="0.24" dy="-2.16">0</tspan></text>
<text transform="translate(457.00,86.38)" font-size="6.0" text-anchor="end" font-weight="normal" fill="#111" stroke="#111" stroke-width="0.168" >10<tspan font-size="4.80" dx="0.24" dy="-2.16">1</tspan></text>
<text transform="translate(457.00,74.75)" font-size="6.0" text-anchor="end" font-weight="normal" fill="#111" stroke="#111" stroke-width="0.168" >10<tspan font-size="4.80" dx="0.24" dy="-2.16">2</tspan></text>
<text transform="translate(457.00,63.12)" font-size="6.0" text-anchor="end" font-weight="normal" fill="#111" stroke="#111" stroke-width="0.168" >10<tspan font-size="4.80" dx="0.24" dy="-2.16">3</tspan></text>
<text transform="translate(457.00,51.50)" font-size="6.0" text-anchor="end" font-weight="normal" fill="#111" stroke="#111" stroke-width="0.168" >10<tspan font-size="4.80" dx="0.24" dy="-2.16">4</tspan></text>
<line x1="461.40" y1="95.00" x2="461.40" y2="96.80" stroke="#1a1a1a" stroke-width="0.8" />
<line x1="464.94" y1="95.00" x2="464.94" y2="96.08" stroke="#1a1a1a" stroke-width="0.5" />
<line x1="467.01" y1="95.00" x2="467.01" y2="96.08" stroke="#1a1a1a" stroke-width="0.5" />
<line x1="469.61" y1="95.00" x2="469.61" y2="96.08" stroke="#1a1a1a" stroke-width="0.5" />
<line x1="473.15" y1="95.00" x2="473.15" y2="96.80" stroke="#1a1a1a" stroke-width="0.8" />
<line x1="476.69" y1="95.00" x2="476.69" y2="96.08" stroke="#1a1a1a" stroke-width="0.5" />
<line x1="478.76" y1="95.00" x2="478.76" y2="96.08" stroke="#1a1a1a" stroke-width="0.5" />
<line x1="481.36" y1="95.00" x2="481.36" y2="96.08" stroke="#1a1a1a" stroke-width="0.5" />
<line x1="484.90" y1="95.00" x2="484.90" y2="96.80" stroke="#1a1a1a" stroke-width="0.8" />
<line x1="488.44" y1="95.00" x2="488.44" y2="96.08" stroke="#1a1a1a" stroke-width="0.5" />
<line x1="490.51" y1="95.00" x2="490.51" y2="96.08" stroke="#1a1a1a" stroke-width="0.5" />
<line x1="493.11" y1="95.00" x2="493.11" y2="96.08" stroke="#1a1a1a" stroke-width="0.5" />
<line x1="496.65" y1="95.00" x2="496.65" y2="96.80" stroke="#1a1a1a" stroke-width="0.8" />
<line x1="500.19" y1="95.00" x2="500.19" y2="96.08" stroke="#1a1a1a" stroke-width="0.5" />
<line x1="502.26" y1="95.00" x2="502.26" y2="96.08" stroke="#1a1a1a" stroke-width="0.5" />
<line x1="504.86" y1="95.00" x2="504.86" y2="96.08" stroke="#1a1a1a" stroke-width="0.5" />
<line x1="508.40" y1="95.00" x2="508.40" y2="96.80" stroke="#1a1a1a" stroke-width="0.8" />
<text transform="translate(462.60,106.10)" font-size="5.7" text-anchor="middle" font-weight="normal" fill="#111" stroke="#111" stroke-width="0.160" >10<tspan font-size="4.28" dx="0.23" dy="-2.05">0</tspan></text>
<text transform="translate(474.35,106.10)" font-size="5.7" text-anchor="middle" font-weight="normal" fill="#111" stroke="#111" stroke-width="0.160" >10<tspan font-size="4.28" dx="0.23" dy="-2.05">1</tspan></text>
<text transform="translate(486.10,106.10)" font-size="5.7" text-anchor="middle" font-weight="normal" fill="#111" stroke="#111" stroke-width="0.160" >10<tspan font-size="4.28" dx="0.23" dy="-2.05">2</tspan></text>
<text transform="translate(497.85,106.10)" font-size="5.7" text-anchor="middle" font-weight="normal" fill="#111" stroke="#111" stroke-width="0.160" >10<tspan font-size="4.28" dx="0.23" dy="-2.05">3</tspan></text>
<text transform="translate(509.60,106.10)" font-size="5.7" text-anchor="middle" font-weight="normal" fill="#111" stroke="#111" stroke-width="0.160" >10<tspan font-size="4.28" dx="0.23" dy="-2.05">4</tspan></text>
<text transform="translate(485.60,59.90)" font-size="6.0" text-anchor="middle" font-weight="normal" fill="#111" stroke="#111" stroke-width="0.168" >1.3</text>
<text transform="translate(469.00,92.60)" font-size="6.0" text-anchor="middle" font-weight="normal" fill="#111" stroke="#111" stroke-width="0.168" >76.5</text>
<text transform="translate(487.80,92.60)" font-size="6.0" text-anchor="middle" font-weight="normal" fill="#111" stroke="#111" stroke-width="0.168" >22.1</text>
<text transform="translate(298.80,71.50) rotate(-90) scale(0.88,1)" font-size="8.4" text-anchor="middle" font-weight="normal" fill="#111" stroke="#111" stroke-width="0.235" >CD123</text>
<text transform="translate(406.20,117.20) scale(0.87,1)" font-size="8.6" text-anchor="middle" font-weight="normal" fill="#111" stroke="#111" stroke-width="0.241" >CD45RA</text>
<line x1="302.00" y1="114.00" x2="389.50" y2="114.00" stroke="#1c1c1c" stroke-width="1.45" />
<line x1="422.20" y1="114.00" x2="511.50" y2="114.00" stroke="#1c1c1c" stroke-width="1.45" />
<polygon points="317.70,177.50 317.70,172.08 318.63,173.43 320.03,172.98 321.79,172.53 322.95,171.62 324.12,169.36 325.29,166.65 327.04,163.04 328.21,158.52 329.38,154.00 330.08,150.38 331.13,146.76 331.94,142.24 332.88,139.08 333.58,136.82 334.28,135.46 334.75,134.11 335.21,136.82 335.80,143.60 336.38,151.28 337.08,160.32 337.78,168.46 338.36,173.88 338.95,177.50" fill="#b5102f" stroke="#8a0c24" stroke-width="0.4"/>
<polygon points="344.67,177.50 346.19,173.88 347.82,161.68 348.99,151.28 350.04,141.34 351.09,135.46 352.02,133.20 352.72,135.46 353.43,139.53 354.24,145.86 355.18,155.80 356.23,166.20 357.28,172.98 358.91,177.50" fill="#8f8098" stroke="#333" stroke-width="0.7"/>
<polyline points="339.30,177.50 340.47,174.79 342.22,173.88 343.97,173.43 345.14,172.08 349.46,149.93 350.51,139.98 351.56,134.11 352.49,132.30 353.19,134.11 353.89,138.18 354.71,144.50 355.64,154.45 356.69,164.84 357.75,171.62 359.50,176.14" fill="none" stroke="#6aa83a" stroke-width="0.7" stroke-dasharray="1.1,0.7"/>
<polyline points="336.85,177.50 337.55,170.72 338.25,154.90 338.83,139.08 339.42,133.20 340.00,137.72 340.47,141.34 341.05,134.11 341.63,136.82 342.10,144.96 342.68,152.64 343.38,160.32 344.20,167.56 345.02,172.98 345.95,176.60 346.54,177.50" fill="none" stroke="#28508c" stroke-width="0.85"/>
<rect x="317.70" y="130.90" width="46.70" height="46.60" fill="none" stroke="#1a1a1a" stroke-width="1.2" />
<line x1="317.40" y1="130.30" x2="317.40" y2="178.40" stroke="#1a1a1a" stroke-width="1.9" />
<line x1="316.50" y1="177.70" x2="365.00" y2="177.70" stroke="#1a1a1a" stroke-width="1.7" />
<line x1="315.10" y1="177.30" x2="317.70" y2="177.30" stroke="#1a1a1a" stroke-width="0.8" />
<text transform="translate(314.20,179.50)" font-size="6.0" text-anchor="end" font-weight="normal" fill="#111" stroke="#111" stroke-width="0.168" >0</text>
<line x1="315.10" y1="168.26" x2="317.70" y2="168.26" stroke="#1a1a1a" stroke-width="0.8" />
<text transform="translate(314.20,170.46)" font-size="6.0" text-anchor="end" font-weight="normal" fill="#111" stroke="#111" stroke-width="0.168" >20</text>
<line x1="315.10" y1="159.22" x2="317.70" y2="159.22" stroke="#1a1a1a" stroke-width="0.8" />
<text transform="translate(314.20,161.42)" font-size="6.0" text-anchor="end" font-weight="normal" fill="#111" stroke="#111" stroke-width="0.168" >40</text>
<line x1="315.10" y1="150.18" x2="317.70" y2="150.18" stroke="#1a1a1a" stroke-width="0.8" />
<text transform="translate(314.20,152.38)" font-size="6.0" text-anchor="end" font-weight="normal" fill="#111" stroke="#111" stroke-width="0.168" >60</text>
<line x1="315.10" y1="141.14" x2="317.70" y2="141.14" stroke="#1a1a1a" stroke-width="0.8" />
<text transform="translate(314.20,143.34)" font-size="6.0" text-anchor="end" font-weight="normal" fill="#111" stroke="#111" stroke-width="0.168" >80</text>
<line x1="315.10" y1="132.10" x2="317.70" y2="132.10" stroke="#1a1a1a" stroke-width="0.8" />
<text transform="translate(314.20,134.30)" font-size="6.0" text-anchor="end" font-weight="normal" fill="#111" stroke="#111" stroke-width="0.168" >100</text>
<line x1="317.70" y1="178.10" x2="317.70" y2="179.90" stroke="#1a1a1a" stroke-width="0.8" />
<line x1="321.21" y1="178.10" x2="321.21" y2="179.18" stroke="#1a1a1a" stroke-width="0.5" />
<line x1="323.27" y1="178.10" x2="323.27" y2="179.18" stroke="#1a1a1a" stroke-width="0.5" />
<line x1="325.86" y1="178.10" x2="325.86" y2="179.18" stroke="#1a1a1a" stroke-width="0.5" />
<line x1="329.38" y1="178.10" x2="329.38" y2="179.90" stroke="#1a1a1a" stroke-width="0.8" />
<line x1="332.89" y1="178.10" x2="332.89" y2="179.18" stroke="#1a1a1a" stroke-width="0.5" />
<line x1="334.95" y1="178.10" x2="334.95" y2="179.18" stroke="#1a1a1a" stroke-width="0.5" />
<line x1="337.54" y1="178.10" x2="337.54" y2="179.18" stroke="#1a1a1a" stroke-width="0.5" />
<line x1="341.05" y1="178.10" x2="341.05" y2="179.90" stroke="#1a1a1a" stroke-width="0.8" />
<line x1="344.56" y1="178.10" x2="344.56" y2="179.18" stroke="#1a1a1a" stroke-width="0.5" />
<line x1="346.62" y1="178.10" x2="346.62" y2="179.18" stroke="#1a1a1a" stroke-width="0.5" />
<line x1="349.21" y1="178.10" x2="349.21" y2="179.18" stroke="#1a1a1a" stroke-width="0.5" />
<line x1="352.72" y1="178.10" x2="352.72" y2="179.90" stroke="#1a1a1a" stroke-width="0.8" />
<line x1="356.24" y1="178.10" x2="356.24" y2="179.18" stroke="#1a1a1a" stroke-width="0.5" />
<line x1="358.30" y1="178.10" x2="358.30" y2="179.18" stroke="#1a1a1a" stroke-width="0.5" />
<line x1="360.89" y1="178.10" x2="360.89" y2="179.18" stroke="#1a1a1a" stroke-width="0.5" />
<line x1="364.40" y1="178.10" x2="364.40" y2="179.90" stroke="#1a1a1a" stroke-width="0.8" />
<text transform="translate(318.90,189.40)" font-size="5.7" text-anchor="middle" font-weight="normal" fill="#111" stroke="#111" stroke-width="0.160" >10<tspan font-size="4.28" dx="0.23" dy="-2.05">0</tspan></text>
<text transform="translate(330.57,189.40)" font-size="5.7" text-anchor="middle" font-weight="normal" fill="#111" stroke="#111" stroke-width="0.160" >10<tspan font-size="4.28" dx="0.23" dy="-2.05">1</tspan></text>
<text transform="translate(342.25,189.40)" font-size="5.7" text-anchor="middle" font-weight="normal" fill="#111" stroke="#111" stroke-width="0.160" >10<tspan font-size="4.28" dx="0.23" dy="-2.05">2</tspan></text>
<text transform="translate(353.92,189.40)" font-size="5.7" text-anchor="middle" font-weight="normal" fill="#111" stroke="#111" stroke-width="0.160" >10<tspan font-size="4.28" dx="0.23" dy="-2.05">3</tspan></text>
<text transform="translate(365.60,189.40)" font-size="5.7" text-anchor="middle" font-weight="normal" fill="#111" stroke="#111" stroke-width="0.160" >10<tspan font-size="4.28" dx="0.23" dy="-2.05">4</tspan></text>
<polygon points="389.50,177.50 389.50,172.08 390.43,173.43 391.83,172.98 393.59,172.53 394.75,171.62 395.92,169.36 397.09,166.65 398.84,163.04 400.01,158.52 401.18,154.00 401.88,150.38 402.93,146.76 403.74,142.24 404.68,139.08 405.38,136.82 406.08,135.46 406.55,134.11 407.01,136.82 407.60,143.60 408.18,151.28 408.88,160.32 409.58,168.46 410.16,173.88 410.75,177.50" fill="#b5102f" stroke="#8a0c24" stroke-width="0.4"/>
<polygon points="417.89,177.50 419.33,173.88 420.88,161.68 421.99,151.28 422.99,141.34 423.99,135.46 424.88,133.20 425.54,135.46 426.21,139.53 426.98,145.86 427.87,155.80 428.87,166.20 429.87,172.98 431.42,177.50" fill="#8f8098" stroke="#333" stroke-width="0.7"/>
<polyline points="410.51,174.79 411.68,172.53 412.85,170.72 414.60,168.91 416.70,166.20 418.10,163.04 419.27,159.42 422.46,149.93 423.46,139.98 424.45,134.11 425.34,132.30 426.01,134.11 426.67,138.18 427.45,144.50 428.34,154.45 429.34,164.84 430.33,171.62 432.00,176.14" fill="none" stroke="#6aa83a" stroke-width="0.7" stroke-dasharray="1.1,0.7"/>
<polyline points="409.35,177.50 410.05,166.20 410.63,154.90 411.45,147.67 412.27,141.34 412.85,135.92 413.32,133.20 413.78,137.72 414.37,141.34 415.19,142.24 416.00,144.96 416.70,152.64 417.52,161.68 418.34,168.46 419.27,173.88 420.09,177.50" fill="none" stroke="#28508c" stroke-width="0.85"/>
<rect x="389.50" y="130.90" width="46.70" height="46.60" fill="none" stroke="#1a1a1a" stroke-width="1.2" />
<line x1="389.20" y1="130.30" x2="389.20" y2="178.40" stroke="#1a1a1a" stroke-width="1.9" />
<line x1="388.30" y1="177.70" x2="436.80" y2="177.70" stroke="#1a1a1a" stroke-width="1.7" />
<line x1="386.90" y1="177.30" x2="389.50" y2="177.30" stroke="#1a1a1a" stroke-width="0.8" />
<text transform="translate(386.00,179.50)" font-size="6.0" text-anchor="end" font-weight="normal" fill="#111" stroke="#111" stroke-width="0.168" >0</text>
<line x1="386.90" y1="168.26" x2="389.50" y2="168.26" stroke="#1a1a1a" stroke-width="0.8" />
<text transform="translate(386.00,170.46)" font-size="6.0" text-anchor="end" font-weight="normal" fill="#111" stroke="#111" stroke-width="0.168" >20</text>
<line x1="386.90" y1="159.22" x2="389.50" y2="159.22" stroke="#1a1a1a" stroke-width="0.8" />
<text transform="translate(386.00,161.42)" font-size="6.0" text-anchor="end" font-weight="normal" fill="#111" stroke="#111" stroke-width="0.168" >40</text>
<line x1="386.90" y1="150.18" x2="389.50" y2="150.18" stroke="#1a1a1a" stroke-width="0.8" />
<text transform="translate(386.00,152.38)" font-size="6.0" text-anchor="end" font-weight="normal" fill="#111" stroke="#111" stroke-width="0.168" >60</text>
<line x1="386.90" y1="141.14" x2="389.50" y2="141.14" stroke="#1a1a1a" stroke-width="0.8" />
<text transform="translate(386.00,143.34)" font-size="6.0" text-anchor="end" font-weight="normal" fill="#111" stroke="#111" stroke-width="0.168" >80</text>
<line x1="386.90" y1="132.10" x2="389.50" y2="132.10" stroke="#1a1a1a" stroke-width="0.8" />
<text transform="translate(386.00,134.30)" font-size="6.0" text-anchor="end" font-weight="normal" fill="#111" stroke="#111" stroke-width="0.168" >100</text>
<line x1="389.50" y1="178.10" x2="389.50" y2="179.90" stroke="#1a1a1a" stroke-width="0.8" />
<line x1="393.01" y1="178.10" x2="393.01" y2="179.18" stroke="#1a1a1a" stroke-width="0.5" />
<line x1="395.07" y1="178.10" x2="395.07" y2="179.18" stroke="#1a1a1a" stroke-width="0.5" />
<line x1="397.66" y1="178.10" x2="397.66" y2="179.18" stroke="#1a1a1a" stroke-width="0.5" />
<line x1="401.18" y1="178.10" x2="401.18" y2="179.90" stroke="#1a1a1a" stroke-width="0.8" />
<line x1="404.69" y1="178.10" x2="404.69" y2="179.18" stroke="#1a1a1a" stroke-width="0.5" />
<line x1="406.75" y1="178.10" x2="406.75" y2="179.18" stroke="#1a1a1a" stroke-width="0.5" />
<line x1="409.34" y1="178.10" x2="409.34" y2="179.18" stroke="#1a1a1a" stroke-width="0.5" />
<line x1="412.85" y1="178.10" x2="412.85" y2="179.90" stroke="#1a1a1a" stroke-width="0.8" />
<line x1="416.36" y1="178.10" x2="416.36" y2="179.18" stroke="#1a1a1a" stroke-width="0.5" />
<line x1="418.42" y1="178.10" x2="418.42" y2="179.18" stroke="#1a1a1a" stroke-width="0.5" />
<line x1="421.01" y1="178.10" x2="421.01" y2="179.18" stroke="#1a1a1a" stroke-width="0.5" />
<line x1="424.52" y1="178.10" x2="424.52" y2="179.90" stroke="#1a1a1a" stroke-width="0.8" />
<line x1="428.04" y1="178.10" x2="428.04" y2="179.18" stroke="#1a1a1a" stroke-width="0.5" />
<line x1="430.10" y1="178.10" x2="430.10" y2="179.18" stroke="#1a1a1a" stroke-width="0.5" />
<line x1="432.69" y1="178.10" x2="432.69" y2="179.18" stroke="#1a1a1a" stroke-width="0.5" />
<line x1="436.20" y1="178.10" x2="436.20" y2="179.90" stroke="#1a1a1a" stroke-width="0.8" />
<text transform="translate(390.70,189.40)" font-size="5.7" text-anchor="middle" font-weight="normal" fill="#111" stroke="#111" stroke-width="0.160" >10<tspan font-size="4.28" dx="0.23" dy="-2.05">0</tspan></text>
<text transform="translate(402.38,189.40)" font-size="5.7" text-anchor="middle" font-weight="normal" fill="#111" stroke="#111" stroke-width="0.160" >10<tspan font-size="4.28" dx="0.23" dy="-2.05">1</tspan></text>
<text transform="translate(414.05,189.40)" font-size="5.7" text-anchor="middle" font-weight="normal" fill="#111" stroke="#111" stroke-width="0.160" >10<tspan font-size="4.28" dx="0.23" dy="-2.05">2</tspan></text>
<text transform="translate(425.72,189.40)" font-size="5.7" text-anchor="middle" font-weight="normal" fill="#111" stroke="#111" stroke-width="0.160" >10<tspan font-size="4.28" dx="0.23" dy="-2.05">3</tspan></text>
<text transform="translate(437.40,189.40)" font-size="5.7" text-anchor="middle" font-weight="normal" fill="#111" stroke="#111" stroke-width="0.160" >10<tspan font-size="4.28" dx="0.23" dy="-2.05">4</tspan></text>
<polygon points="461.50,177.50 461.50,173.88 463.83,173.43 466.17,172.98 467.92,171.17 469.67,167.56 471.42,161.23 473.18,152.64 474.58,144.96 475.74,139.53 476.91,135.92 477.84,134.11 478.55,137.72 479.25,145.86 479.95,154.90 480.76,164.84 481.58,172.98 482.51,177.50" fill="#b5102f" stroke="#8a0c24" stroke-width="0.4"/>
<polygon points="491.73,177.50 493.20,173.88 494.78,161.68 495.92,151.28 496.93,141.34 497.95,135.46 498.86,133.20 499.54,135.46 500.22,139.53 501.01,145.86 501.92,155.80 502.94,166.20 503.96,172.98 505.54,177.50" fill="#8f8098" stroke="#333" stroke-width="0.7"/>
<polyline points="483.10,177.50 484.27,175.24 486.02,173.88 488.35,173.88 490.69,172.98 496.38,149.93 497.40,139.98 498.42,134.11 499.33,132.30 500.01,134.11 500.69,138.18 501.48,144.50 502.38,154.45 503.40,164.84 504.42,171.62 506.13,176.14" fill="none" stroke="#6aa83a" stroke-width="0.7" stroke-dasharray="1.1,0.7"/>
<polyline points="482.16,177.50 482.87,163.94 483.45,145.86 483.92,135.92 484.27,133.20 484.73,138.63 485.20,141.34 485.67,134.56 486.13,135.92 486.60,143.15 487.19,147.67 488.00,145.86 488.59,150.38 489.29,157.61 490.10,163.94 490.92,172.98 491.62,177.50" fill="none" stroke="#28508c" stroke-width="0.85"/>
<rect x="461.50" y="130.90" width="46.70" height="46.60" fill="none" stroke="#1a1a1a" stroke-width="1.2" />
<line x1="461.20" y1="130.30" x2="461.20" y2="178.40" stroke="#1a1a1a" stroke-width="1.9" />
<line x1="460.30" y1="177.70" x2="508.80" y2="177.70" stroke="#1a1a1a" stroke-width="1.7" />
<line x1="458.90" y1="177.30" x2="461.50" y2="177.30" stroke="#1a1a1a" stroke-width="0.8" />
<text transform="translate(458.00,179.50)" font-size="6.0" text-anchor="end" font-weight="normal" fill="#111" stroke="#111" stroke-width="0.168" >0</text>
<line x1="458.90" y1="168.26" x2="461.50" y2="168.26" stroke="#1a1a1a" stroke-width="0.8" />
<text transform="translate(458.00,170.46)" font-size="6.0" text-anchor="end" font-weight="normal" fill="#111" stroke="#111" stroke-width="0.168" >20</text>
<line x1="458.90" y1="159.22" x2="461.50" y2="159.22" stroke="#1a1a1a" stroke-width="0.8" />
<text transform="translate(458.00,161.42)" font-size="6.0" text-anchor="end" font-weight="normal" fill="#111" stroke="#111" stroke-width="0.168" >40</text>
<line x1="458.90" y1="150.18" x2="461.50" y2="150.18" stroke="#1a1a1a" stroke-width="0.8" />
<text transform="translate(458.00,152.38)" font-size="6.0" text-anchor="end" font-weight="normal" fill="#111" stroke="#111" stroke-width="0.168" >60</text>
<line x1="458.90" y1="141.14" x2="461.50" y2="141.14" stroke="#1a1a1a" stroke-width="0.8" />
<text transform="translate(458.00,143.34)" font-size="6.0" text-anchor="end" font-weight="normal" fill="#111" stroke="#111" stroke-width="0.168" >80</text>
<line x1="458.90" y1="132.10" x2="461.50" y2="132.10" stroke="#1a1a1a" stroke-width="0.8" />
<text transform="translate(458.00,134.30)" font-size="6.0" text-anchor="end" font-weight="normal" fill="#111" stroke="#111" stroke-width="0.168" >100</text>
<line x1="461.50" y1="178.10" x2="461.50" y2="179.90" stroke="#1a1a1a" stroke-width="0.8" />
<line x1="465.01" y1="178.10" x2="465.01" y2="179.18" stroke="#1a1a1a" stroke-width="0.5" />
<line x1="467.07" y1="178.10" x2="467.07" y2="179.18" stroke="#1a1a1a" stroke-width="0.5" />
<line x1="469.66" y1="178.10" x2="469.66" y2="179.18" stroke="#1a1a1a" stroke-width="0.5" />
<line x1="473.18" y1="178.10" x2="473.18" y2="179.90" stroke="#1a1a1a" stroke-width="0.8" />
<line x1="476.69" y1="178.10" x2="476.69" y2="179.18" stroke="#1a1a1a" stroke-width="0.5" />
<line x1="478.75" y1="178.10" x2="478.75" y2="179.18" stroke="#1a1a1a" stroke-width="0.5" />
<line x1="481.34" y1="178.10" x2="481.34" y2="179.18" stroke="#1a1a1a" stroke-width="0.5" />
<line x1="484.85" y1="178.10" x2="484.85" y2="179.90" stroke="#1a1a1a" stroke-width="0.8" />
<line x1="488.36" y1="178.10" x2="488.36" y2="179.18" stroke="#1a1a1a" stroke-width="0.5" />
<line x1="490.42" y1="178.10" x2="490.42" y2="179.18" stroke="#1a1a1a" stroke-width="0.5" />
<line x1="493.01" y1="178.10" x2="493.01" y2="179.18" stroke="#1a1a1a" stroke-width="0.5" />
<line x1="496.52" y1="178.10" x2="496.52" y2="179.90" stroke="#1a1a1a" stroke-width="0.8" />
<line x1="500.04" y1="178.10" x2="500.04" y2="179.18" stroke="#1a1a1a" stroke-width="0.5" />
<line x1="502.10" y1="178.10" x2="502.10" y2="179.18" stroke="#1a1a1a" stroke-width="0.5" />
<line x1="504.69" y1="178.10" x2="504.69" y2="179.18" stroke="#1a1a1a" stroke-width="0.5" />
<line x1="508.20" y1="178.10" x2="508.20" y2="179.90" stroke="#1a1a1a" stroke-width="0.8" />
<text transform="translate(462.70,189.40)" font-size="5.7" text-anchor="middle" font-weight="normal" fill="#111" stroke="#111" stroke-width="0.160" >10<tspan font-size="4.28" dx="0.23" dy="-2.05">0</tspan></text>
<text transform="translate(474.38,189.40)" font-size="5.7" text-anchor="middle" font-weight="normal" fill="#111" stroke="#111" stroke-width="0.160" >10<tspan font-size="4.28" dx="0.23" dy="-2.05">1</tspan></text>
<text transform="translate(486.05,189.40)" font-size="5.7" text-anchor="middle" font-weight="normal" fill="#111" stroke="#111" stroke-width="0.160" >10<tspan font-size="4.28" dx="0.23" dy="-2.05">2</tspan></text>
<text transform="translate(497.72,189.40)" font-size="5.7" text-anchor="middle" font-weight="normal" fill="#111" stroke="#111" stroke-width="0.160" >10<tspan font-size="4.28" dx="0.23" dy="-2.05">3</tspan></text>
<text transform="translate(509.40,189.40)" font-size="5.7" text-anchor="middle" font-weight="normal" fill="#111" stroke="#111" stroke-width="0.160" >10<tspan font-size="4.28" dx="0.23" dy="-2.05">4</tspan></text>
<text transform="translate(300.00,154.40) rotate(-90) scale(0.96,1)" font-size="8.4" text-anchor="middle" font-weight="normal" fill="#111" stroke="#111" stroke-width="0.235" >% of Max.</text>
<text transform="translate(406.30,201.60) scale(0.8,1)" font-size="8.8" text-anchor="middle" font-weight="normal" fill="#111" stroke="#111" stroke-width="0.246" >CD34</text>
<line x1="302.00" y1="198.00" x2="394.00" y2="198.00" stroke="#1c1c1c" stroke-width="1.45" />
<line x1="418.00" y1="198.00" x2="512.00" y2="198.00" stroke="#1c1c1c" stroke-width="1.45" />
<rect x="337.00" y="205.80" width="6.80" height="6.80" fill="#b5102f" />
<text transform="translate(347.00,211.60)" font-size="5.9" text-anchor="start" font-weight="normal" fill="#111" stroke="#111" stroke-width="0.165" >Lymphocytes</text>
<rect x="337.40" y="218.50" width="6.20" height="6.20" fill="#fff" stroke="#28508c" stroke-width="0.8" />
<text transform="translate(347.00,224.00)" font-size="5.9" text-anchor="start" font-weight="normal" fill="#111" stroke="#111" stroke-width="0.165" >CD45RA<tspan font-size="4.13" dx="0.24" dy="-2.12">+</tspan><tspan dy="2.12">123</tspan><tspan font-size="4.13" dx="0.24" dy="-2.12">++</tspan></text>
<rect x="413.90" y="206.20" width="6.00" height="6.00" fill="#fff" stroke="#6aa83a" stroke-width="0.8" stroke-dasharray="1.2,0.8"/>
<text transform="translate(424.00,211.60)" font-size="5.9" text-anchor="start" font-weight="normal" fill="#111" stroke="#111" stroke-width="0.165" >CD45RA<tspan font-size="4.13" dx="0.24" dy="-2.12">+</tspan><tspan dy="2.12">123</tspan><tspan font-size="4.13" dx="0.24" dy="-2.12">+/-</tspan></text>
<rect x="413.90" y="218.50" width="6.20" height="6.20" fill="#8f8098" stroke="#4a3a5a" stroke-width="0.8" />
<text transform="translate(424.00,224.00)" font-size="5.9" text-anchor="start" font-weight="normal" fill="#111" stroke="#111" stroke-width="0.165" >CD45RA<tspan font-size="4.13" dx="0.24" dy="-2.12">-</tspan><tspan dy="2.12">123</tspan><tspan font-size="4.13" dx="0.24" dy="-2.12">+/-</tspan></text>
<text transform="translate(7.30,143.00)" font-size="12.0" text-anchor="start" font-weight="bold" fill="#111" stroke="#111" stroke-width="0.300" >C</text>
<text transform="translate(122.00,143.20)" font-size="8.7" text-anchor="middle" font-weight="normal" fill="#111" stroke="#111" stroke-width="0.244" >CD34<tspan font-size="6.09" dx="0.35" dy="-3.13">+</tspan><tspan dy="3.13"> cells</tspan></text>
<line x1="21.20" y1="147.00" x2="222.30" y2="147.00" stroke="#1c1c1c" stroke-width="1.45" />
<text transform="translate(51.00,159.50)" font-size="8.8" text-anchor="middle" font-weight="normal" fill="#111" stroke="#111" stroke-width="0.246" >CD45RA<tspan font-size="6.16" dx="0.35" dy="-3.17">-</tspan><tspan dy="3.17">123</tspan><tspan font-size="6.16" dx="0.35" dy="-3.17">+/-</tspan></text>
<line x1="21.20" y1="162.80" x2="79.40" y2="162.80" stroke="#1c1c1c" stroke-width="1.45" />
<text transform="translate(122.75,159.50)" font-size="8.8" text-anchor="middle" font-weight="normal" fill="#111" stroke="#111" stroke-width="0.246" >CD45RA<tspan font-size="6.16" dx="0.35" dy="-3.17">+</tspan><tspan dy="3.17">123</tspan><tspan font-size="6.16" dx="0.35" dy="-3.17">+/-</tspan></text>
<line x1="94.50" y1="162.80" x2="152.50" y2="162.80" stroke="#1c1c1c" stroke-width="1.45" />
<text transform="translate(193.25,159.50)" font-size="8.8" text-anchor="middle" font-weight="normal" fill="#111" stroke="#111" stroke-width="0.246" >CD45RA<tspan font-size="6.16" dx="0.35" dy="-3.17">+</tspan><tspan dy="3.17">123</tspan><tspan font-size="6.16" dx="0.35" dy="-3.17">+/+</tspan></text>
<line x1="165.50" y1="162.80" x2="222.50" y2="162.80" stroke="#1c1c1c" stroke-width="1.45" />
<line x1="33.30" y1="169.00" x2="33.30" y2="222.40" stroke="#1a1a1a" stroke-width="1.5" />
<line x1="32.60" y1="221.60" x2="78.30" y2="221.60" stroke="#1a1a1a" stroke-width="1.5" />
<line x1="29.90" y1="221.60" x2="33.30" y2="221.60" stroke="#1a1a1a" stroke-width="1.1" />
<text transform="translate(28.90,223.90)" font-size="6.3" text-anchor="end" font-weight="normal" fill="#111" stroke="#111" stroke-width="0.176" >0</text>
<line x1="29.90" y1="213.38" x2="33.30" y2="213.38" stroke="#1a1a1a" stroke-width="1.1" />
<text transform="translate(28.90,215.68)" font-size="6.3" text-anchor="end" font-weight="normal" fill="#111" stroke="#111" stroke-width="0.176" >20</text>
<line x1="29.90" y1="205.17" x2="33.30" y2="205.17" stroke="#1a1a1a" stroke-width="1.1" />
<text transform="translate(28.90,207.47)" font-size="6.3" text-anchor="end" font-weight="normal" fill="#111" stroke="#111" stroke-width="0.176" >40</text>
<line x1="29.90" y1="196.95" x2="33.30" y2="196.95" stroke="#1a1a1a" stroke-width="1.1" />
<text transform="translate(28.90,199.25)" font-size="6.3" text-anchor="end" font-weight="normal" fill="#111" stroke="#111" stroke-width="0.176" >60</text>
<line x1="29.90" y1="188.73" x2="33.30" y2="188.73" stroke="#1a1a1a" stroke-width="1.1" />
<text transform="translate(28.90,191.03)" font-size="6.3" text-anchor="end" font-weight="normal" fill="#111" stroke="#111" stroke-width="0.176" >80</text>
<line x1="29.90" y1="180.52" x2="33.30" y2="180.52" stroke="#1a1a1a" stroke-width="1.1" />
<text transform="translate(28.90,182.82)" font-size="6.3" text-anchor="end" font-weight="normal" fill="#111" stroke="#111" stroke-width="0.176" >100</text>
<line x1="29.90" y1="172.30" x2="33.30" y2="172.30" stroke="#1a1a1a" stroke-width="1.1" />
<text transform="translate(28.90,174.60)" font-size="6.3" text-anchor="end" font-weight="normal" fill="#111" stroke="#111" stroke-width="0.176" >120</text>
<line x1="33.30" y1="221.60" x2="33.30" y2="224.40" stroke="#1a1a1a" stroke-width="1.0" />
<text transform="translate(33.50,232.40) scale(0.88,1)" font-size="6.7" text-anchor="middle" font-weight="normal" fill="#111" stroke="#111" stroke-width="0.188" >0</text>
<line x1="41.88" y1="221.60" x2="41.88" y2="224.40" stroke="#1a1a1a" stroke-width="1.0" />
<text transform="translate(42.08,232.40) scale(0.88,1)" font-size="6.7" text-anchor="middle" font-weight="normal" fill="#111" stroke="#111" stroke-width="0.188" >5</text>
<line x1="50.45" y1="221.60" x2="50.45" y2="224.40" stroke="#1a1a1a" stroke-width="1.0" />
<text transform="translate(50.65,232.40) scale(0.88,1)" font-size="6.7" text-anchor="middle" font-weight="normal" fill="#111" stroke="#111" stroke-width="0.188" >10</text>
<line x1="59.02" y1="221.60" x2="59.02" y2="224.40" stroke="#1a1a1a" stroke-width="1.0" />
<text transform="translate(59.23,232.40) scale(0.88,1)" font-size="6.7" text-anchor="middle" font-weight="normal" fill="#111" stroke="#111" stroke-width="0.188" >15</text>
<line x1="67.60" y1="221.60" x2="67.60" y2="224.40" stroke="#1a1a1a" stroke-width="1.0" />
<text transform="translate(67.80,232.40) scale(0.88,1)" font-size="6.7" text-anchor="middle" font-weight="normal" fill="#111" stroke="#111" stroke-width="0.188" >20</text>
<line x1="76.17" y1="221.60" x2="76.17" y2="224.40" stroke="#1a1a1a" stroke-width="1.0" />
<text transform="translate(76.38,232.40) scale(0.88,1)" font-size="6.7" text-anchor="middle" font-weight="normal" fill="#111" stroke="#111" stroke-width="0.188" >25</text>
<polyline points="34.10,186.27 40.96,196.13 75.26,182.98" fill="none" stroke="#ae102e" stroke-width="1.8" stroke-linejoin="round"/>
<polyline points="34.10,188.32 40.96,198.18 75.26,185.45" fill="none" stroke="#ae102e" stroke-width="1.8" stroke-linejoin="round"/>
<polyline points="34.10,190.38 40.96,199.41 75.26,186.68" fill="none" stroke="#ae102e" stroke-width="1.8" stroke-linejoin="round"/>
<polyline points="34.10,192.84 40.96,201.06 75.26,188.73" fill="none" stroke="#ae102e" stroke-width="1.8" stroke-linejoin="round"/>
<polyline points="34.10,194.07 40.96,194.90 75.26,184.21" fill="none" stroke="#ae102e" stroke-width="1.8" stroke-linejoin="round"/>
<rect x="32.58" y="184.75" width="3.04" height="3.04" fill="#fff" stroke="#ae102e" stroke-width="1.25" />
<rect x="39.44" y="194.61" width="3.04" height="3.04" fill="#fff" stroke="#ae102e" stroke-width="1.25" />
<rect x="73.74" y="181.46" width="3.04" height="3.04" fill="#fff" stroke="#ae102e" stroke-width="1.25" />
<polygon points="34.10,185.95 36.47,190.22 31.72,190.22" fill="#ae102e"/>
<polygon points="40.96,195.81 43.33,200.08 38.58,200.08" fill="#ae102e"/>
<polygon points="75.26,183.07 77.63,187.35 72.88,187.35" fill="#ae102e"/>
<polygon points="34.10,192.75 36.47,188.48 31.72,188.48" fill="#ae102e"/>
<polygon points="40.96,201.79 43.33,197.51 38.58,197.51" fill="#ae102e"/>
<polygon points="75.26,189.05 77.63,184.78 72.88,184.78" fill="#ae102e"/>
<polygon points="34.10,190.66 36.28,192.84 34.10,195.03 31.91,192.84" fill="#fff" stroke="#ae102e" stroke-width="1.25"/>
<polygon points="40.96,198.87 43.14,201.06 40.96,203.24 38.77,201.06" fill="#fff" stroke="#ae102e" stroke-width="1.25"/>
<polygon points="75.26,186.55 77.44,188.73 75.26,190.92 73.07,188.73" fill="#fff" stroke="#ae102e" stroke-width="1.25"/>
<circle cx="34.10" cy="194.07" r="1.71" fill="#fff" stroke="#ae102e" stroke-width="1.25"/>
<circle cx="40.96" cy="194.90" r="1.71" fill="#fff" stroke="#ae102e" stroke-width="1.25"/>
<circle cx="75.26" cy="184.21" r="1.71" fill="#fff" stroke="#ae102e" stroke-width="1.25"/>
<text transform="translate(55.80,243.30) scale(0.87,1)" font-size="9.0" text-anchor="middle" font-weight="normal" fill="#111" stroke="#111" stroke-width="0.252" >Time (h)</text>
<line x1="105.50" y1="169.00" x2="105.50" y2="222.40" stroke="#1a1a1a" stroke-width="1.5" />
<line x1="104.80" y1="221.60" x2="150.50" y2="221.60" stroke="#1a1a1a" stroke-width="1.5" />
<line x1="102.10" y1="221.60" x2="105.50" y2="221.60" stroke="#1a1a1a" stroke-width="1.1" />
<text transform="translate(99.70,223.90)" font-size="6.3" text-anchor="end" font-weight="normal" fill="#111" stroke="#111" stroke-width="0.176" >0</text>
<line x1="102.10" y1="209.35" x2="105.50" y2="209.35" stroke="#1a1a1a" stroke-width="1.1" />
<text transform="translate(99.70,211.65)" font-size="6.3" text-anchor="end" font-weight="normal" fill="#111" stroke="#111" stroke-width="0.176" >10</text>
<line x1="102.10" y1="197.10" x2="105.50" y2="197.10" stroke="#1a1a1a" stroke-width="1.1" />
<text transform="translate(99.70,199.40)" font-size="6.3" text-anchor="end" font-weight="normal" fill="#111" stroke="#111" stroke-width="0.176" >20</text>
<line x1="102.10" y1="184.85" x2="105.50" y2="184.85" stroke="#1a1a1a" stroke-width="1.1" />
<text transform="translate(99.70,187.15)" font-size="6.3" text-anchor="end" font-weight="normal" fill="#111" stroke="#111" stroke-width="0.176" >30</text>
<line x1="102.10" y1="172.60" x2="105.50" y2="172.60" stroke="#1a1a1a" stroke-width="1.1" />
<text transform="translate(99.70,174.90)" font-size="6.3" text-anchor="end" font-weight="normal" fill="#111" stroke="#111" stroke-width="0.176" >40</text>
<line x1="105.50" y1="221.60" x2="105.50" y2="224.40" stroke="#1a1a1a" stroke-width="1.0" />
<text transform="translate(105.70,232.40) scale(0.88,1)" font-size="6.7" text-anchor="middle" font-weight="normal" fill="#111" stroke="#111" stroke-width="0.188" >0</text>
<line x1="114.08" y1="221.60" x2="114.08" y2="224.40" stroke="#1a1a1a" stroke-width="1.0" />
<text transform="translate(114.28,232.40) scale(0.88,1)" font-size="6.7" text-anchor="middle" font-weight="normal" fill="#111" stroke="#111" stroke-width="0.188" >5</text>
<line x1="122.65" y1="221.60" x2="122.65" y2="224.40" stroke="#1a1a1a" stroke-width="1.0" />
<text transform="translate(122.85,232.40) scale(0.88,1)" font-size="6.7" text-anchor="middle" font-weight="normal" fill="#111" stroke="#111" stroke-width="0.188" >10</text>
<line x1="131.22" y1="221.60" x2="131.22" y2="224.40" stroke="#1a1a1a" stroke-width="1.0" />
<text transform="translate(131.42,232.40) scale(0.88,1)" font-size="6.7" text-anchor="middle" font-weight="normal" fill="#111" stroke="#111" stroke-width="0.188" >15</text>
<line x1="139.80" y1="221.60" x2="139.80" y2="224.40" stroke="#1a1a1a" stroke-width="1.0" />
<text transform="translate(140.00,232.40) scale(0.88,1)" font-size="6.7" text-anchor="middle" font-weight="normal" fill="#111" stroke="#111" stroke-width="0.188" >20</text>
<line x1="148.38" y1="221.60" x2="148.38" y2="224.40" stroke="#1a1a1a" stroke-width="1.0" />
<text transform="translate(148.57,232.40) scale(0.88,1)" font-size="6.7" text-anchor="middle" font-weight="normal" fill="#111" stroke="#111" stroke-width="0.188" >25</text>
<polyline points="106.30,186.07 113.16,187.30 147.46,204.45" fill="none" stroke="#ae102e" stroke-width="1.8" stroke-linejoin="round"/>
<polyline points="106.30,189.75 113.16,186.69 147.46,205.67" fill="none" stroke="#ae102e" stroke-width="1.8" stroke-linejoin="round"/>
<polyline points="106.30,193.42 113.16,188.52 147.46,206.90" fill="none" stroke="#ae102e" stroke-width="1.8" stroke-linejoin="round"/>
<polyline points="106.30,197.10 113.16,190.97 147.46,208.12" fill="none" stroke="#ae102e" stroke-width="1.8" stroke-linejoin="round"/>
<polyline points="106.30,205.67 113.16,197.10 147.46,211.80" fill="none" stroke="#ae102e" stroke-width="1.8" stroke-linejoin="round"/>
<rect x="104.78" y="184.55" width="3.04" height="3.04" fill="#fff" stroke="#ae102e" stroke-width="1.25" />
<rect x="111.64" y="185.78" width="3.04" height="3.04" fill="#fff" stroke="#ae102e" stroke-width="1.25" />
<rect x="145.94" y="202.93" width="3.04" height="3.04" fill="#fff" stroke="#ae102e" stroke-width="1.25" />
<polygon points="106.30,187.38 108.67,191.65 103.92,191.65" fill="#ae102e"/>
<polygon points="113.16,184.31 115.53,188.59 110.78,188.59" fill="#ae102e"/>
<polygon points="147.46,203.30 149.84,207.57 145.09,207.57" fill="#ae102e"/>
<polygon points="106.30,195.80 108.67,191.52 103.92,191.52" fill="#ae102e"/>
<polygon points="113.16,190.90 115.53,186.62 110.78,186.62" fill="#ae102e"/>
<polygon points="147.46,209.28 149.84,205.00 145.09,205.00" fill="#ae102e"/>
<polygon points="106.30,194.91 108.48,197.10 106.30,199.28 104.11,197.10" fill="#fff" stroke="#ae102e" stroke-width="1.25"/>
<polygon points="113.16,188.79 115.34,190.97 113.16,193.16 110.97,190.97" fill="#fff" stroke="#ae102e" stroke-width="1.25"/>
<polygon points="147.46,205.94 149.65,208.12 147.46,210.31 145.28,208.12" fill="#fff" stroke="#ae102e" stroke-width="1.25"/>
<circle cx="106.30" cy="205.67" r="1.71" fill="#fff" stroke="#ae102e" stroke-width="1.25"/>
<circle cx="113.16" cy="197.10" r="1.71" fill="#fff" stroke="#ae102e" stroke-width="1.25"/>
<circle cx="147.46" cy="211.80" r="1.71" fill="#fff" stroke="#ae102e" stroke-width="1.25"/>
<text transform="translate(128.00,243.30) scale(0.87,1)" font-size="9.0" text-anchor="middle" font-weight="normal" fill="#111" stroke="#111" stroke-width="0.252" >Time (h)</text>
<line x1="175.90" y1="169.00" x2="175.90" y2="222.40" stroke="#1a1a1a" stroke-width="1.5" />
<line x1="175.20" y1="221.60" x2="220.90" y2="221.60" stroke="#1a1a1a" stroke-width="1.5" />
<line x1="172.50" y1="221.60" x2="175.90" y2="221.60" stroke="#1a1a1a" stroke-width="1.1" />
<text transform="translate(169.90,223.90)" font-size="6.3" text-anchor="end" font-weight="normal" fill="#111" stroke="#111" stroke-width="0.176" >0</text>
<line x1="172.50" y1="205.27" x2="175.90" y2="205.27" stroke="#1a1a1a" stroke-width="1.1" />
<text transform="translate(169.90,207.57)" font-size="6.3" text-anchor="end" font-weight="normal" fill="#111" stroke="#111" stroke-width="0.176" >10</text>
<line x1="172.50" y1="188.93" x2="175.90" y2="188.93" stroke="#1a1a1a" stroke-width="1.1" />
<text transform="translate(169.90,191.23)" font-size="6.3" text-anchor="end" font-weight="normal" fill="#111" stroke="#111" stroke-width="0.176" >20</text>
<line x1="172.50" y1="172.60" x2="175.90" y2="172.60" stroke="#1a1a1a" stroke-width="1.1" />
<text transform="translate(169.90,174.90)" font-size="6.3" text-anchor="end" font-weight="normal" fill="#111" stroke="#111" stroke-width="0.176" >30</text>
<line x1="175.90" y1="221.60" x2="175.90" y2="224.40" stroke="#1a1a1a" stroke-width="1.0" />
<text transform="translate(176.10,232.40) scale(0.88,1)" font-size="6.7" text-anchor="middle" font-weight="normal" fill="#111" stroke="#111" stroke-width="0.188" >0</text>
<line x1="184.47" y1="221.60" x2="184.47" y2="224.40" stroke="#1a1a1a" stroke-width="1.0" />
<text transform="translate(184.67,232.40) scale(0.88,1)" font-size="6.7" text-anchor="middle" font-weight="normal" fill="#111" stroke="#111" stroke-width="0.188" >5</text>
<line x1="193.05" y1="221.60" x2="193.05" y2="224.40" stroke="#1a1a1a" stroke-width="1.0" />
<text transform="translate(193.25,232.40) scale(0.88,1)" font-size="6.7" text-anchor="middle" font-weight="normal" fill="#111" stroke="#111" stroke-width="0.188" >10</text>
<line x1="201.62" y1="221.60" x2="201.62" y2="224.40" stroke="#1a1a1a" stroke-width="1.0" />
<text transform="translate(201.82,232.40) scale(0.88,1)" font-size="6.7" text-anchor="middle" font-weight="normal" fill="#111" stroke="#111" stroke-width="0.188" >15</text>
<line x1="210.20" y1="221.60" x2="210.20" y2="224.40" stroke="#1a1a1a" stroke-width="1.0" />
<text transform="translate(210.40,232.40) scale(0.88,1)" font-size="6.7" text-anchor="middle" font-weight="normal" fill="#111" stroke="#111" stroke-width="0.188" >20</text>
<line x1="218.78" y1="221.60" x2="218.78" y2="224.40" stroke="#1a1a1a" stroke-width="1.0" />
<text transform="translate(218.97,232.40) scale(0.88,1)" font-size="6.7" text-anchor="middle" font-weight="normal" fill="#111" stroke="#111" stroke-width="0.188" >25</text>
<polyline points="176.70,218.33 183.56,185.67 217.86,218.33" fill="none" stroke="#ae102e" stroke-width="1.8" stroke-linejoin="round"/>
<polyline points="176.70,219.97 183.56,187.30 217.86,219.15" fill="none" stroke="#ae102e" stroke-width="1.8" stroke-linejoin="round"/>
<polyline points="176.70,216.70 183.56,188.93 217.86,216.70" fill="none" stroke="#ae102e" stroke-width="1.8" stroke-linejoin="round"/>
<polyline points="176.70,220.78 183.56,192.20 217.86,219.97" fill="none" stroke="#ae102e" stroke-width="1.8" stroke-linejoin="round"/>
<polyline points="176.70,219.97 183.56,200.37 217.86,218.33" fill="none" stroke="#ae102e" stroke-width="1.8" stroke-linejoin="round"/>
<rect x="175.18" y="216.81" width="3.04" height="3.04" fill="#fff" stroke="#ae102e" stroke-width="1.25" />
<rect x="182.04" y="184.15" width="3.04" height="3.04" fill="#fff" stroke="#ae102e" stroke-width="1.25" />
<rect x="216.34" y="216.81" width="3.04" height="3.04" fill="#fff" stroke="#ae102e" stroke-width="1.25" />
<polygon points="176.70,217.59 179.08,221.87 174.33,221.87" fill="#ae102e"/>
<polygon points="183.56,184.93 185.94,189.20 181.19,189.20" fill="#ae102e"/>
<polygon points="217.86,216.78 220.24,221.05 215.49,221.05" fill="#ae102e"/>
<polygon points="176.70,219.07 179.08,214.80 174.33,214.80" fill="#ae102e"/>
<polygon points="183.56,191.31 185.94,187.03 181.19,187.03" fill="#ae102e"/>
<polygon points="217.86,219.07 220.24,214.80 215.49,214.80" fill="#ae102e"/>
<polygon points="176.70,218.60 178.89,220.78 176.70,222.97 174.52,220.78" fill="#fff" stroke="#ae102e" stroke-width="1.25"/>
<polygon points="183.56,190.01 185.75,192.20 183.56,194.38 181.38,192.20" fill="#fff" stroke="#ae102e" stroke-width="1.25"/>
<polygon points="217.86,217.78 220.05,219.97 217.86,222.15 215.68,219.97" fill="#fff" stroke="#ae102e" stroke-width="1.25"/>
<circle cx="176.70" cy="219.97" r="1.71" fill="#fff" stroke="#ae102e" stroke-width="1.25"/>
<circle cx="183.56" cy="200.37" r="1.71" fill="#fff" stroke="#ae102e" stroke-width="1.25"/>
<circle cx="217.86" cy="218.33" r="1.71" fill="#fff" stroke="#ae102e" stroke-width="1.25"/>
<text transform="translate(198.40,243.30) scale(0.87,1)" font-size="9.0" text-anchor="middle" font-weight="normal" fill="#111" stroke="#111" stroke-width="0.252" >Time (h)</text>
<line x1="41.50" y1="170.00" x2="75.40" y2="170.00" stroke="#3a3a3a" stroke-width="1.6" />
<text transform="translate(58.45,170.80)" font-size="8.4" text-anchor="middle" font-weight="bold" fill="#111" stroke="#111" stroke-width="0.250" >***</text>
<line x1="34.00" y1="176.60" x2="75.40" y2="176.60" stroke="#3a3a3a" stroke-width="1.6" />
<text transform="translate(54.70,177.40)" font-size="8.4" text-anchor="middle" font-weight="bold" fill="#111" stroke="#111" stroke-width="0.250" >***</text>
<line x1="34.00" y1="183.00" x2="45.00" y2="183.00" stroke="#3a3a3a" stroke-width="1.6" />
<text transform="translate(39.50,183.80)" font-size="8.4" text-anchor="middle" font-weight="bold" fill="#111" stroke="#111" stroke-width="0.250" >***</text>
<line x1="111.50" y1="173.60" x2="146.50" y2="173.60" stroke="#3a3a3a" stroke-width="1.6" />
<text transform="translate(129.00,174.40)" font-size="8.4" text-anchor="middle" font-weight="bold" fill="#111" stroke="#111" stroke-width="0.250" >***</text>
<line x1="106.00" y1="180.70" x2="146.50" y2="180.70" stroke="#3a3a3a" stroke-width="1.6" />
<text transform="translate(126.25,181.50)" font-size="8.4" text-anchor="middle" font-weight="bold" fill="#111" stroke="#111" stroke-width="0.250" >***</text>
<line x1="182.80" y1="173.50" x2="217.00" y2="173.50" stroke="#3a3a3a" stroke-width="1.6" />
<text transform="translate(199.90,174.30)" font-size="8.4" text-anchor="middle" font-weight="bold" fill="#111" stroke="#111" stroke-width="0.250" >***</text>
<line x1="176.20" y1="180.20" x2="187.40" y2="180.20" stroke="#3a3a3a" stroke-width="1.6" />
<text transform="translate(181.80,181.00)" font-size="8.4" text-anchor="middle" font-weight="bold" fill="#111" stroke="#111" stroke-width="0.250" >***</text>
<text transform="translate(11.60,194.70) rotate(-90) scale(0.9,1)" font-size="8.4" text-anchor="middle" font-weight="normal" fill="#111" stroke="#111" stroke-width="0.235" >% of CD34<tspan font-size="5.88" dx="0.34" dy="-3.02">+</tspan></text>
<rect x="233.20" y="172.40" width="3.20" height="3.20" fill="#fff" stroke="#ae102e" stroke-width="1.5" />
<text transform="translate(239.20,176.00)" font-size="5.8" text-anchor="start" font-weight="normal" fill="#111" stroke="#111" stroke-width="0.162" >D001</text>
<polygon points="234.80,181.80 237.30,186.30 232.30,186.30" fill="#ae102e"/>
<text transform="translate(239.20,186.30)" font-size="5.8" text-anchor="start" font-weight="normal" fill="#111" stroke="#111" stroke-width="0.162" >D002</text>
<polygon points="234.80,197.10 237.30,192.60 232.30,192.60" fill="#ae102e"/>
<text transform="translate(239.20,196.60)" font-size="5.8" text-anchor="start" font-weight="normal" fill="#111" stroke="#111" stroke-width="0.162" >D003</text>
<polygon points="234.80,202.60 237.10,204.90 234.80,207.20 232.50,204.90" fill="#fff" stroke="#ae102e" stroke-width="1.5"/>
<text transform="translate(239.20,206.90)" font-size="5.8" text-anchor="start" font-weight="normal" fill="#111" stroke="#111" stroke-width="0.162" >D004</text>
<circle cx="234.80" cy="215.20" r="1.80" fill="#fff" stroke="#ae102e" stroke-width="1.5"/>
<text transform="translate(239.20,217.20)" font-size="5.8" text-anchor="start" font-weight="normal" fill="#111" stroke="#111" stroke-width="0.162" >D005</text>
<text transform="translate(7.30,271.00)" font-size="12.0" text-anchor="start" font-weight="bold" fill="#111" stroke="#111" stroke-width="0.300" >D</text>
<text transform="translate(151.50,271.20)" font-size="8.7" text-anchor="middle" font-weight="normal" fill="#111" stroke="#111" stroke-width="0.244" >CD34<tspan font-size="6.09" dx="0.35" dy="-3.13">+</tspan><tspan dy="3.13"> cells</tspan></text>
<line x1="25.00" y1="275.00" x2="288.00" y2="275.00" stroke="#1c1c1c" stroke-width="1.45" />
<text transform="translate(53.80,286.00)" font-size="8.7" text-anchor="middle" font-weight="normal" fill="#111" stroke="#111" stroke-width="0.244" >Plerixafor</text>
<line x1="25.00" y1="289.30" x2="82.00" y2="289.30" stroke="#1c1c1c" stroke-width="1.45" />
<text transform="translate(121.80,286.00)" font-size="8.7" text-anchor="middle" font-weight="normal" fill="#111" stroke="#111" stroke-width="0.244" >G-CSF</text>
<line x1="94.50" y1="289.30" x2="149.00" y2="289.30" stroke="#1c1c1c" stroke-width="1.45" />
<text transform="translate(191.30,286.00)" font-size="8.7" text-anchor="middle" font-weight="normal" fill="#111" stroke="#111" stroke-width="0.244" >Bone Marrow</text>
<line x1="163.80" y1="289.30" x2="218.80" y2="289.30" stroke="#1c1c1c" stroke-width="1.45" />
<text transform="translate(260.00,286.00)" font-size="8.7" text-anchor="middle" font-weight="normal" fill="#111" stroke="#111" stroke-width="0.244" >Cord Bood</text>
<line x1="231.30" y1="289.30" x2="288.00" y2="289.30" stroke="#1c1c1c" stroke-width="1.45" />
<ellipse cx="41.00" cy="329.20" rx="9.90" ry="8.90" fill="none" stroke="#999" stroke-width="0.35" transform="rotate(0 41.00 329.20)"/>
<ellipse cx="39.80" cy="329.60" rx="8.50" ry="6.50" fill="none" stroke="#999" stroke-width="0.35" transform="rotate(0 39.80 329.60)"/>
<ellipse cx="48.00" cy="330.50" rx="5.40" ry="4.50" fill="none" stroke="#999" stroke-width="0.35" transform="rotate(0 48.00 330.50)"/>
<ellipse cx="54.80" cy="328.00" rx="5.90" ry="9.10" fill="none" stroke="#999" stroke-width="0.35" transform="rotate(0 54.80 328.00)"/>
<ellipse cx="57.80" cy="318.50" rx="3.20" ry="5.90" fill="none" stroke="#999" stroke-width="0.35" transform="rotate(0 57.80 318.50)"/>
<ellipse cx="58.30" cy="311.70" rx="5.30" ry="5.30" fill="none" stroke="#999" stroke-width="0.35" transform="rotate(0 58.30 311.70)"/>
<ellipse cx="54.80" cy="339.50" rx="1.90" ry="4.90" fill="none" stroke="#999" stroke-width="0.35" transform="rotate(0 54.80 339.50)"/>
<ellipse cx="41.00" cy="329.20" rx="9.00" ry="8.00" fill="#3a3a3a" stroke="#151515" stroke-width="0.55" transform="rotate(0 41.00 329.20)"/>
<ellipse cx="39.80" cy="329.60" rx="7.60" ry="5.60" fill="#3a3a3a" stroke="#151515" stroke-width="0.55" transform="rotate(0 39.80 329.60)"/>
<ellipse cx="48.00" cy="330.50" rx="4.50" ry="3.60" fill="#3a3a3a" stroke="#151515" stroke-width="0.55" transform="rotate(0 48.00 330.50)"/>
<ellipse cx="54.80" cy="328.00" rx="5.00" ry="8.20" fill="#3a3a3a" stroke="#151515" stroke-width="0.55" transform="rotate(0 54.80 328.00)"/>
<ellipse cx="57.80" cy="318.50" rx="2.30" ry="5.00" fill="#3a3a3a" stroke="#151515" stroke-width="0.55" transform="rotate(0 57.80 318.50)"/>
<ellipse cx="58.30" cy="311.70" rx="4.40" ry="4.40" fill="#3a3a3a" stroke="#151515" stroke-width="0.55" transform="rotate(0 58.30 311.70)"/>
<ellipse cx="54.80" cy="339.50" rx="1.00" ry="4.00" fill="#3a3a3a" stroke="#151515" stroke-width="0.55" transform="rotate(0 54.80 339.50)"/>
<ellipse cx="41.00" cy="329.20" rx="5.17" ry="4.60" fill="#525252" stroke="#151515" stroke-width="0.55" transform="rotate(0 41.00 329.20)"/>
<ellipse cx="39.80" cy="329.60" rx="6.40" ry="4.72" fill="#525252" stroke="#151515" stroke-width="0.55" transform="rotate(0 39.80 329.60)"/>
<ellipse cx="48.00" cy="330.50" rx="2.59" ry="2.07" fill="#525252" stroke="#151515" stroke-width="0.55" transform="rotate(0 48.00 330.50)"/>
<ellipse cx="54.80" cy="328.00" rx="4.07" ry="6.67" fill="#525252" stroke="#151515" stroke-width="0.55" transform="rotate(0 54.80 328.00)"/>
<ellipse cx="57.80" cy="318.50" rx="1.32" ry="2.87" fill="#525252" stroke="#151515" stroke-width="0.55" transform="rotate(0 57.80 318.50)"/>
<ellipse cx="58.30" cy="311.70" rx="3.39" ry="3.39" fill="#525252" stroke="#151515" stroke-width="0.55" transform="rotate(0 58.30 311.70)"/>
<ellipse cx="39.80" cy="329.60" rx="5.21" ry="3.84" fill="#666666" stroke="#151515" stroke-width="0.55" transform="rotate(0 39.80 329.60)"/>
<ellipse cx="54.80" cy="328.00" rx="3.13" ry="5.13" fill="#666666" stroke="#151515" stroke-width="0.55" transform="rotate(0 54.80 328.00)"/>
<ellipse cx="58.30" cy="311.70" rx="2.38" ry="2.38" fill="#666666" stroke="#151515" stroke-width="0.55" transform="rotate(0 58.30 311.70)"/>
<ellipse cx="39.80" cy="329.60" rx="4.01" ry="2.95" fill="#747474" stroke="#151515" stroke-width="0.55" transform="rotate(0 39.80 329.60)"/>
<ellipse cx="54.80" cy="328.00" rx="2.20" ry="3.60" fill="#747474" stroke="#151515" stroke-width="0.55" transform="rotate(0 54.80 328.00)"/>
<ellipse cx="58.30" cy="311.70" rx="1.37" ry="1.37" fill="#747474" stroke="#151515" stroke-width="0.55" transform="rotate(0 58.30 311.70)"/>
<ellipse cx="39.80" cy="329.60" rx="2.81" ry="2.07" fill="#606060" stroke="#151515" stroke-width="0.55" transform="rotate(0 39.80 329.60)"/>
<ellipse cx="54.80" cy="328.00" rx="1.26" ry="2.07" fill="#a0a0a0" stroke="#151515" stroke-width="0.55" transform="rotate(0 54.80 328.00)"/>
<ellipse cx="39.80" cy="329.60" rx="1.62" ry="1.19" fill="#a0a0a0" stroke="#151515" stroke-width="0.55" transform="rotate(0 39.80 329.60)"/>
<rect x="48.50" y="298.50" width="24.00" height="20.00" fill="none" stroke="#151515" stroke-width="0.9" />
<rect x="48.50" y="318.50" width="24.00" height="25.00" fill="none" stroke="#151515" stroke-width="0.9" />
<rect x="33.50" y="318.50" width="15.00" height="25.00" fill="none" stroke="#151515" stroke-width="0.9" />
<rect x="33.50" y="296.50" width="47.00" height="47.00" fill="none" stroke="#1a1a1a" stroke-width="1.1" />
<line x1="33.20" y1="296.20" x2="33.20" y2="344.10" stroke="#1a1a1a" stroke-width="1.9" />
<line x1="32.30" y1="343.40" x2="81.00" y2="343.40" stroke="#1a1a1a" stroke-width="1.7" />
<line x1="30.90" y1="343.20" x2="32.70" y2="343.20" stroke="#1a1a1a" stroke-width="0.8" />
<line x1="31.62" y1="339.70" x2="32.70" y2="339.70" stroke="#1a1a1a" stroke-width="0.5" />
<line x1="31.62" y1="337.65" x2="32.70" y2="337.65" stroke="#1a1a1a" stroke-width="0.5" />
<line x1="31.62" y1="335.07" x2="32.70" y2="335.07" stroke="#1a1a1a" stroke-width="0.5" />
<line x1="30.90" y1="331.57" x2="32.70" y2="331.57" stroke="#1a1a1a" stroke-width="0.8" />
<line x1="31.62" y1="328.08" x2="32.70" y2="328.08" stroke="#1a1a1a" stroke-width="0.5" />
<line x1="31.62" y1="326.03" x2="32.70" y2="326.03" stroke="#1a1a1a" stroke-width="0.5" />
<line x1="31.62" y1="323.45" x2="32.70" y2="323.45" stroke="#1a1a1a" stroke-width="0.5" />
<line x1="30.90" y1="319.95" x2="32.70" y2="319.95" stroke="#1a1a1a" stroke-width="0.8" />
<line x1="31.62" y1="316.45" x2="32.70" y2="316.45" stroke="#1a1a1a" stroke-width="0.5" />
<line x1="31.62" y1="314.40" x2="32.70" y2="314.40" stroke="#1a1a1a" stroke-width="0.5" />
<line x1="31.62" y1="311.82" x2="32.70" y2="311.82" stroke="#1a1a1a" stroke-width="0.5" />
<line x1="30.90" y1="308.32" x2="32.70" y2="308.32" stroke="#1a1a1a" stroke-width="0.8" />
<line x1="31.62" y1="304.83" x2="32.70" y2="304.83" stroke="#1a1a1a" stroke-width="0.5" />
<line x1="31.62" y1="302.78" x2="32.70" y2="302.78" stroke="#1a1a1a" stroke-width="0.5" />
<line x1="31.62" y1="300.20" x2="32.70" y2="300.20" stroke="#1a1a1a" stroke-width="0.5" />
<line x1="30.90" y1="296.70" x2="32.70" y2="296.70" stroke="#1a1a1a" stroke-width="0.8" />
<text transform="translate(29.10,347.10)" font-size="6.0" text-anchor="end" font-weight="normal" fill="#111" stroke="#111" stroke-width="0.168" >10<tspan font-size="4.80" dx="0.24" dy="-2.16">0</tspan></text>
<text transform="translate(29.10,335.47)" font-size="6.0" text-anchor="end" font-weight="normal" fill="#111" stroke="#111" stroke-width="0.168" >10<tspan font-size="4.80" dx="0.24" dy="-2.16">1</tspan></text>
<text transform="translate(29.10,323.85)" font-size="6.0" text-anchor="end" font-weight="normal" fill="#111" stroke="#111" stroke-width="0.168" >10<tspan font-size="4.80" dx="0.24" dy="-2.16">2</tspan></text>
<text transform="translate(29.10,312.22)" font-size="6.0" text-anchor="end" font-weight="normal" fill="#111" stroke="#111" stroke-width="0.168" >10<tspan font-size="4.80" dx="0.24" dy="-2.16">3</tspan></text>
<text transform="translate(29.10,300.60)" font-size="6.0" text-anchor="end" font-weight="normal" fill="#111" stroke="#111" stroke-width="0.168" >10<tspan font-size="4.80" dx="0.24" dy="-2.16">4</tspan></text>
<line x1="33.50" y1="343.80" x2="33.50" y2="345.60" stroke="#1a1a1a" stroke-width="0.8" />
<line x1="37.04" y1="343.80" x2="37.04" y2="344.88" stroke="#1a1a1a" stroke-width="0.5" />
<line x1="39.11" y1="343.80" x2="39.11" y2="344.88" stroke="#1a1a1a" stroke-width="0.5" />
<line x1="41.71" y1="343.80" x2="41.71" y2="344.88" stroke="#1a1a1a" stroke-width="0.5" />
<line x1="45.25" y1="343.80" x2="45.25" y2="345.60" stroke="#1a1a1a" stroke-width="0.8" />
<line x1="48.79" y1="343.80" x2="48.79" y2="344.88" stroke="#1a1a1a" stroke-width="0.5" />
<line x1="50.86" y1="343.80" x2="50.86" y2="344.88" stroke="#1a1a1a" stroke-width="0.5" />
<line x1="53.46" y1="343.80" x2="53.46" y2="344.88" stroke="#1a1a1a" stroke-width="0.5" />
<line x1="57.00" y1="343.80" x2="57.00" y2="345.60" stroke="#1a1a1a" stroke-width="0.8" />
<line x1="60.54" y1="343.80" x2="60.54" y2="344.88" stroke="#1a1a1a" stroke-width="0.5" />
<line x1="62.61" y1="343.80" x2="62.61" y2="344.88" stroke="#1a1a1a" stroke-width="0.5" />
<line x1="65.21" y1="343.80" x2="65.21" y2="344.88" stroke="#1a1a1a" stroke-width="0.5" />
<line x1="68.75" y1="343.80" x2="68.75" y2="345.60" stroke="#1a1a1a" stroke-width="0.8" />
<line x1="72.29" y1="343.80" x2="72.29" y2="344.88" stroke="#1a1a1a" stroke-width="0.5" />
<line x1="74.36" y1="343.80" x2="74.36" y2="344.88" stroke="#1a1a1a" stroke-width="0.5" />
<line x1="76.96" y1="343.80" x2="76.96" y2="344.88" stroke="#1a1a1a" stroke-width="0.5" />
<line x1="80.50" y1="343.80" x2="80.50" y2="345.60" stroke="#1a1a1a" stroke-width="0.8" />
<text transform="translate(34.70,354.60)" font-size="5.7" text-anchor="middle" font-weight="normal" fill="#111" stroke="#111" stroke-width="0.160" >10<tspan font-size="4.28" dx="0.23" dy="-2.05">0</tspan></text>
<text transform="translate(46.45,354.60)" font-size="5.7" text-anchor="middle" font-weight="normal" fill="#111" stroke="#111" stroke-width="0.160" >10<tspan font-size="4.28" dx="0.23" dy="-2.05">1</tspan></text>
<text transform="translate(58.20,354.60)" font-size="5.7" text-anchor="middle" font-weight="normal" fill="#111" stroke="#111" stroke-width="0.160" >10<tspan font-size="4.28" dx="0.23" dy="-2.05">2</tspan></text>
<text transform="translate(69.95,354.60)" font-size="5.7" text-anchor="middle" font-weight="normal" fill="#111" stroke="#111" stroke-width="0.160" >10<tspan font-size="4.28" dx="0.23" dy="-2.05">3</tspan></text>
<text transform="translate(81.70,354.60)" font-size="5.7" text-anchor="middle" font-weight="normal" fill="#111" stroke="#111" stroke-width="0.160" >10<tspan font-size="4.28" dx="0.23" dy="-2.05">4</tspan></text>
<text transform="translate(61.00,304.90)" font-size="6.3" text-anchor="middle" font-weight="normal" fill="#111" stroke="#111" stroke-width="0.176" >24.0</text>
<text transform="translate(41.10,342.10)" font-size="6.1" text-anchor="middle" font-weight="normal" fill="#111" stroke="#111" stroke-width="0.171" >50.7</text>
<text transform="translate(64.40,342.10)" font-size="6.1" text-anchor="middle" font-weight="normal" fill="#111" stroke="#111" stroke-width="0.171" >25.2</text>
<ellipse cx="109.60" cy="332.50" rx="9.90" ry="5.30" fill="none" stroke="#999" stroke-width="0.35" transform="rotate(0 109.60 332.50)"/>
<ellipse cx="116.10" cy="333.50" rx="4.90" ry="4.10" fill="none" stroke="#999" stroke-width="0.35" transform="rotate(0 116.10 333.50)"/>
<ellipse cx="121.20" cy="334.00" rx="5.50" ry="8.30" fill="none" stroke="#999" stroke-width="0.35" transform="rotate(0 121.20 334.00)"/>
<ellipse cx="123.10" cy="323.00" rx="2.40" ry="6.90" fill="none" stroke="#999" stroke-width="0.35" transform="rotate(8 123.10 323.00)"/>
<ellipse cx="109.60" cy="332.50" rx="9.00" ry="4.40" fill="#3a3a3a" stroke="#151515" stroke-width="0.55" transform="rotate(0 109.60 332.50)"/>
<ellipse cx="116.10" cy="333.50" rx="4.00" ry="3.20" fill="#3a3a3a" stroke="#151515" stroke-width="0.55" transform="rotate(0 116.10 333.50)"/>
<ellipse cx="121.20" cy="334.00" rx="4.60" ry="7.40" fill="#3a3a3a" stroke="#151515" stroke-width="0.55" transform="rotate(0 121.20 334.00)"/>
<ellipse cx="123.10" cy="323.00" rx="1.50" ry="6.00" fill="#3a3a3a" stroke="#151515" stroke-width="0.55" transform="rotate(8 123.10 323.00)"/>
<ellipse cx="109.60" cy="332.50" rx="7.32" ry="3.58" fill="#525252" stroke="#151515" stroke-width="0.55" transform="rotate(0 109.60 332.50)"/>
<ellipse cx="116.10" cy="333.50" rx="2.30" ry="1.84" fill="#525252" stroke="#151515" stroke-width="0.55" transform="rotate(0 116.10 333.50)"/>
<ellipse cx="121.20" cy="334.00" rx="3.74" ry="6.02" fill="#525252" stroke="#151515" stroke-width="0.55" transform="rotate(0 121.20 334.00)"/>
<ellipse cx="123.10" cy="323.00" rx="0.86" ry="3.45" fill="#525252" stroke="#151515" stroke-width="0.55" transform="rotate(8 123.10 323.00)"/>
<ellipse cx="109.60" cy="332.50" rx="5.64" ry="2.76" fill="#666666" stroke="#151515" stroke-width="0.55" transform="rotate(0 109.60 332.50)"/>
<ellipse cx="121.20" cy="334.00" rx="2.88" ry="4.63" fill="#666666" stroke="#151515" stroke-width="0.55" transform="rotate(0 121.20 334.00)"/>
<ellipse cx="109.60" cy="332.50" rx="3.95" ry="1.93" fill="#747474" stroke="#151515" stroke-width="0.55" transform="rotate(0 109.60 332.50)"/>
<ellipse cx="121.20" cy="334.00" rx="2.02" ry="3.25" fill="#747474" stroke="#151515" stroke-width="0.55" transform="rotate(0 121.20 334.00)"/>
<ellipse cx="109.60" cy="332.50" rx="2.27" ry="1.11" fill="#a0a0a0" stroke="#151515" stroke-width="0.55" transform="rotate(0 109.60 332.50)"/>
<ellipse cx="121.20" cy="334.00" rx="1.16" ry="1.87" fill="#a0a0a0" stroke="#151515" stroke-width="0.55" transform="rotate(0 121.20 334.00)"/>
<rect x="116.50" y="298.50" width="24.00" height="25.00" fill="none" stroke="#151515" stroke-width="0.9" />
<rect x="116.50" y="323.50" width="24.00" height="20.00" fill="none" stroke="#151515" stroke-width="0.9" />
<rect x="102.50" y="326.50" width="14.00" height="17.00" fill="none" stroke="#151515" stroke-width="0.9" />
<rect x="102.50" y="296.50" width="47.00" height="47.00" fill="none" stroke="#1a1a1a" stroke-width="1.1" />
<line x1="102.30" y1="296.20" x2="102.30" y2="344.10" stroke="#1a1a1a" stroke-width="1.9" />
<line x1="101.40" y1="343.40" x2="150.10" y2="343.40" stroke="#1a1a1a" stroke-width="1.7" />
<line x1="100.00" y1="343.20" x2="101.80" y2="343.20" stroke="#1a1a1a" stroke-width="0.8" />
<line x1="100.72" y1="339.70" x2="101.80" y2="339.70" stroke="#1a1a1a" stroke-width="0.5" />
<line x1="100.72" y1="337.65" x2="101.80" y2="337.65" stroke="#1a1a1a" stroke-width="0.5" />
<line x1="100.72" y1="335.07" x2="101.80" y2="335.07" stroke="#1a1a1a" stroke-width="0.5" />
<line x1="100.00" y1="331.57" x2="101.80" y2="331.57" stroke="#1a1a1a" stroke-width="0.8" />
<line x1="100.72" y1="328.08" x2="101.80" y2="328.08" stroke="#1a1a1a" stroke-width="0.5" />
<line x1="100.72" y1="326.03" x2="101.80" y2="326.03" stroke="#1a1a1a" stroke-width="0.5" />
<line x1="100.72" y1="323.45" x2="101.80" y2="323.45" stroke="#1a1a1a" stroke-width="0.5" />
<line x1="100.00" y1="319.95" x2="101.80" y2="319.95" stroke="#1a1a1a" stroke-width="0.8" />
<line x1="100.72" y1="316.45" x2="101.80" y2="316.45" stroke="#1a1a1a" stroke-width="0.5" />
<line x1="100.72" y1="314.40" x2="101.80" y2="314.40" stroke="#1a1a1a" stroke-width="0.5" />
<line x1="100.72" y1="311.82" x2="101.80" y2="311.82" stroke="#1a1a1a" stroke-width="0.5" />
<line x1="100.00" y1="308.32" x2="101.80" y2="308.32" stroke="#1a1a1a" stroke-width="0.8" />
<line x1="100.72" y1="304.83" x2="101.80" y2="304.83" stroke="#1a1a1a" stroke-width="0.5" />
<line x1="100.72" y1="302.78" x2="101.80" y2="302.78" stroke="#1a1a1a" stroke-width="0.5" />
<line x1="100.72" y1="300.20" x2="101.80" y2="300.20" stroke="#1a1a1a" stroke-width="0.5" />
<line x1="100.00" y1="296.70" x2="101.80" y2="296.70" stroke="#1a1a1a" stroke-width="0.8" />
<text transform="translate(98.20,347.10)" font-size="6.0" text-anchor="end" font-weight="normal" fill="#111" stroke="#111" stroke-width="0.168" >10<tspan font-size="4.80" dx="0.24" dy="-2.16">0</tspan></text>
<text transform="translate(98.20,335.47)" font-size="6.0" text-anchor="end" font-weight="normal" fill="#111" stroke="#111" stroke-width="0.168" >10<tspan font-size="4.80" dx="0.24" dy="-2.16">1</tspan></text>
<text transform="translate(98.20,323.85)" font-size="6.0" text-anchor="end" font-weight="normal" fill="#111" stroke="#111" stroke-width="0.168" >10<tspan font-size="4.80" dx="0.24" dy="-2.16">2</tspan></text>
<text transform="translate(98.20,312.22)" font-size="6.0" text-anchor="end" font-weight="normal" fill="#111" stroke="#111" stroke-width="0.168" >10<tspan font-size="4.80" dx="0.24" dy="-2.16">3</tspan></text>
<text transform="translate(98.20,300.60)" font-size="6.0" text-anchor="end" font-weight="normal" fill="#111" stroke="#111" stroke-width="0.168" >10<tspan font-size="4.80" dx="0.24" dy="-2.16">4</tspan></text>
<line x1="102.60" y1="343.80" x2="102.60" y2="345.60" stroke="#1a1a1a" stroke-width="0.8" />
<line x1="106.14" y1="343.80" x2="106.14" y2="344.88" stroke="#1a1a1a" stroke-width="0.5" />
<line x1="108.21" y1="343.80" x2="108.21" y2="344.88" stroke="#1a1a1a" stroke-width="0.5" />
<line x1="110.81" y1="343.80" x2="110.81" y2="344.88" stroke="#1a1a1a" stroke-width="0.5" />
<line x1="114.35" y1="343.80" x2="114.35" y2="345.60" stroke="#1a1a1a" stroke-width="0.8" />
<line x1="117.89" y1="343.80" x2="117.89" y2="344.88" stroke="#1a1a1a" stroke-width="0.5" />
<line x1="119.96" y1="343.80" x2="119.96" y2="344.88" stroke="#1a1a1a" stroke-width="0.5" />
<line x1="122.56" y1="343.80" x2="122.56" y2="344.88" stroke="#1a1a1a" stroke-width="0.5" />
<line x1="126.10" y1="343.80" x2="126.10" y2="345.60" stroke="#1a1a1a" stroke-width="0.8" />
<line x1="129.64" y1="343.80" x2="129.64" y2="344.88" stroke="#1a1a1a" stroke-width="0.5" />
<line x1="131.71" y1="343.80" x2="131.71" y2="344.88" stroke="#1a1a1a" stroke-width="0.5" />
<line x1="134.31" y1="343.80" x2="134.31" y2="344.88" stroke="#1a1a1a" stroke-width="0.5" />
<line x1="137.85" y1="343.80" x2="137.85" y2="345.60" stroke="#1a1a1a" stroke-width="0.8" />
<line x1="141.39" y1="343.80" x2="141.39" y2="344.88" stroke="#1a1a1a" stroke-width="0.5" />
<line x1="143.46" y1="343.80" x2="143.46" y2="344.88" stroke="#1a1a1a" stroke-width="0.5" />
<line x1="146.06" y1="343.80" x2="146.06" y2="344.88" stroke="#1a1a1a" stroke-width="0.5" />
<line x1="149.60" y1="343.80" x2="149.60" y2="345.60" stroke="#1a1a1a" stroke-width="0.8" />
<text transform="translate(103.80,354.60)" font-size="5.7" text-anchor="middle" font-weight="normal" fill="#111" stroke="#111" stroke-width="0.160" >10<tspan font-size="4.28" dx="0.23" dy="-2.05">0</tspan></text>
<text transform="translate(115.55,354.60)" font-size="5.7" text-anchor="middle" font-weight="normal" fill="#111" stroke="#111" stroke-width="0.160" >10<tspan font-size="4.28" dx="0.23" dy="-2.05">1</tspan></text>
<text transform="translate(127.30,354.60)" font-size="5.7" text-anchor="middle" font-weight="normal" fill="#111" stroke="#111" stroke-width="0.160" >10<tspan font-size="4.28" dx="0.23" dy="-2.05">2</tspan></text>
<text transform="translate(139.05,354.60)" font-size="5.7" text-anchor="middle" font-weight="normal" fill="#111" stroke="#111" stroke-width="0.160" >10<tspan font-size="4.28" dx="0.23" dy="-2.05">3</tspan></text>
<text transform="translate(150.80,354.60)" font-size="5.7" text-anchor="middle" font-weight="normal" fill="#111" stroke="#111" stroke-width="0.160" >10<tspan font-size="4.28" dx="0.23" dy="-2.05">4</tspan></text>
<text transform="translate(129.00,304.90)" font-size="6.3" text-anchor="middle" font-weight="normal" fill="#111" stroke="#111" stroke-width="0.176" >1.5</text>
<text transform="translate(110.20,342.10)" font-size="6.1" text-anchor="middle" font-weight="normal" fill="#111" stroke="#111" stroke-width="0.171" >42.0</text>
<text transform="translate(131.90,342.10)" font-size="6.1" text-anchor="middle" font-weight="normal" fill="#111" stroke="#111" stroke-width="0.171" >56.5</text>
<ellipse cx="181.70" cy="329.00" rx="13.40" ry="7.90" fill="none" stroke="#999" stroke-width="0.35" transform="rotate(-25 181.70 329.00)"/>
<ellipse cx="179.30" cy="330.00" rx="9.30" ry="7.10" fill="none" stroke="#999" stroke-width="0.35" transform="rotate(-20 179.30 330.00)"/>
<ellipse cx="188.20" cy="324.00" rx="5.50" ry="4.10" fill="none" stroke="#999" stroke-width="0.35" transform="rotate(-30 188.20 324.00)"/>
<ellipse cx="194.00" cy="312.30" rx="3.50" ry="2.50" fill="none" stroke="#999" stroke-width="0.35" transform="rotate(5 194.00 312.30)"/>
<ellipse cx="181.70" cy="329.00" rx="12.50" ry="7.00" fill="#3a3a3a" stroke="#151515" stroke-width="0.55" transform="rotate(-25 181.70 329.00)"/>
<ellipse cx="179.30" cy="330.00" rx="8.40" ry="6.20" fill="#3a3a3a" stroke="#151515" stroke-width="0.55" transform="rotate(-20 179.30 330.00)"/>
<ellipse cx="188.20" cy="324.00" rx="4.60" ry="3.20" fill="#3a3a3a" stroke="#151515" stroke-width="0.55" transform="rotate(-30 188.20 324.00)"/>
<ellipse cx="194.00" cy="312.30" rx="2.60" ry="1.60" fill="#3a3a3a" stroke="#151515" stroke-width="0.55" transform="rotate(5 194.00 312.30)"/>
<ellipse cx="181.70" cy="329.00" rx="7.18" ry="4.02" fill="#525252" stroke="#151515" stroke-width="0.55" transform="rotate(-25 181.70 329.00)"/>
<ellipse cx="179.30" cy="330.00" rx="7.08" ry="5.22" fill="#525252" stroke="#151515" stroke-width="0.55" transform="rotate(-20 179.30 330.00)"/>
<ellipse cx="188.20" cy="324.00" rx="3.23" ry="2.24" fill="#525252" stroke="#151515" stroke-width="0.55" transform="rotate(-30 188.20 324.00)"/>
<ellipse cx="194.00" cy="312.30" rx="1.49" ry="0.92" fill="#525252" stroke="#151515" stroke-width="0.55" transform="rotate(5 194.00 312.30)"/>
<ellipse cx="179.30" cy="330.00" rx="5.75" ry="4.25" fill="#666666" stroke="#151515" stroke-width="0.55" transform="rotate(-20 179.30 330.00)"/>
<ellipse cx="188.20" cy="324.00" rx="1.85" ry="1.29" fill="#666666" stroke="#151515" stroke-width="0.55" transform="rotate(-30 188.20 324.00)"/>
<ellipse cx="179.30" cy="330.00" rx="4.43" ry="3.27" fill="#747474" stroke="#151515" stroke-width="0.55" transform="rotate(-20 179.30 330.00)"/>
<ellipse cx="179.30" cy="330.00" rx="3.11" ry="2.29" fill="#606060" stroke="#151515" stroke-width="0.55" transform="rotate(-20 179.30 330.00)"/>
<ellipse cx="179.30" cy="330.00" rx="1.79" ry="1.32" fill="#a0a0a0" stroke="#151515" stroke-width="0.55" transform="rotate(-20 179.30 330.00)"/>
<rect x="185.50" y="298.50" width="25.00" height="18.00" fill="none" stroke="#151515" stroke-width="0.9" />
<rect x="185.50" y="316.50" width="25.00" height="27.00" fill="none" stroke="#151515" stroke-width="0.9" />
<rect x="171.50" y="321.50" width="14.00" height="22.00" fill="none" stroke="#151515" stroke-width="0.9" />
<rect x="171.50" y="296.50" width="47.00" height="47.00" fill="none" stroke="#1a1a1a" stroke-width="1.1" />
<line x1="170.90" y1="296.20" x2="170.90" y2="344.10" stroke="#1a1a1a" stroke-width="1.9" />
<line x1="170.00" y1="343.40" x2="218.70" y2="343.40" stroke="#1a1a1a" stroke-width="1.7" />
<line x1="168.60" y1="343.20" x2="170.40" y2="343.20" stroke="#1a1a1a" stroke-width="0.8" />
<line x1="169.32" y1="339.70" x2="170.40" y2="339.70" stroke="#1a1a1a" stroke-width="0.5" />
<line x1="169.32" y1="337.65" x2="170.40" y2="337.65" stroke="#1a1a1a" stroke-width="0.5" />
<line x1="169.32" y1="335.07" x2="170.40" y2="335.07" stroke="#1a1a1a" stroke-width="0.5" />
<line x1="168.60" y1="331.57" x2="170.40" y2="331.57" stroke="#1a1a1a" stroke-width="0.8" />
<line x1="169.32" y1="328.08" x2="170.40" y2="328.08" stroke="#1a1a1a" stroke-width="0.5" />
<line x1="169.32" y1="326.03" x2="170.40" y2="326.03" stroke="#1a1a1a" stroke-width="0.5" />
<line x1="169.32" y1="323.45" x2="170.40" y2="323.45" stroke="#1a1a1a" stroke-width="0.5" />
<line x1="168.60" y1="319.95" x2="170.40" y2="319.95" stroke="#1a1a1a" stroke-width="0.8" />
<line x1="169.32" y1="316.45" x2="170.40" y2="316.45" stroke="#1a1a1a" stroke-width="0.5" />
<line x1="169.32" y1="314.40" x2="170.40" y2="314.40" stroke="#1a1a1a" stroke-width="0.5" />
<line x1="169.32" y1="311.82" x2="170.40" y2="311.82" stroke="#1a1a1a" stroke-width="0.5" />
<line x1="168.60" y1="308.32" x2="170.40" y2="308.32" stroke="#1a1a1a" stroke-width="0.8" />
<line x1="169.32" y1="304.83" x2="170.40" y2="304.83" stroke="#1a1a1a" stroke-width="0.5" />
<line x1="169.32" y1="302.78" x2="170.40" y2="302.78" stroke="#1a1a1a" stroke-width="0.5" />
<line x1="169.32" y1="300.20" x2="170.40" y2="300.20" stroke="#1a1a1a" stroke-width="0.5" />
<line x1="168.60" y1="296.70" x2="170.40" y2="296.70" stroke="#1a1a1a" stroke-width="0.8" />
<text transform="translate(166.80,347.10)" font-size="6.0" text-anchor="end" font-weight="normal" fill="#111" stroke="#111" stroke-width="0.168" >10<tspan font-size="4.80" dx="0.24" dy="-2.16">0</tspan></text>
<text transform="translate(166.80,335.47)" font-size="6.0" text-anchor="end" font-weight="normal" fill="#111" stroke="#111" stroke-width="0.168" >10<tspan font-size="4.80" dx="0.24" dy="-2.16">1</tspan></text>
<text transform="translate(166.80,323.85)" font-size="6.0" text-anchor="end" font-weight="normal" fill="#111" stroke="#111" stroke-width="0.168" >10<tspan font-size="4.80" dx="0.24" dy="-2.16">2</tspan></text>
<text transform="translate(166.80,312.22)" font-size="6.0" text-anchor="end" font-weight="normal" fill="#111" stroke="#111" stroke-width="0.168" >10<tspan font-size="4.80" dx="0.24" dy="-2.16">3</tspan></text>
<text transform="translate(166.80,300.60)" font-size="6.0" text-anchor="end" font-weight="normal" fill="#111" stroke="#111" stroke-width="0.168" >10<tspan font-size="4.80" dx="0.24" dy="-2.16">4</tspan></text>
<line x1="171.20" y1="343.80" x2="171.20" y2="345.60" stroke="#1a1a1a" stroke-width="0.8" />
<line x1="174.74" y1="343.80" x2="174.74" y2="344.88" stroke="#1a1a1a" stroke-width="0.5" />
<line x1="176.81" y1="343.80" x2="176.81" y2="344.88" stroke="#1a1a1a" stroke-width="0.5" />
<line x1="179.41" y1="343.80" x2="179.41" y2="344.88" stroke="#1a1a1a" stroke-width="0.5" />
<line x1="182.95" y1="343.80" x2="182.95" y2="345.60" stroke="#1a1a1a" stroke-width="0.8" />
<line x1="186.49" y1="343.80" x2="186.49" y2="344.88" stroke="#1a1a1a" stroke-width="0.5" />
<line x1="188.56" y1="343.80" x2="188.56" y2="344.88" stroke="#1a1a1a" stroke-width="0.5" />
<line x1="191.16" y1="343.80" x2="191.16" y2="344.88" stroke="#1a1a1a" stroke-width="0.5" />
<line x1="194.70" y1="343.80" x2="194.70" y2="345.60" stroke="#1a1a1a" stroke-width="0.8" />
<line x1="198.24" y1="343.80" x2="198.24" y2="344.88" stroke="#1a1a1a" stroke-width="0.5" />
<line x1="200.31" y1="343.80" x2="200.31" y2="344.88" stroke="#1a1a1a" stroke-width="0.5" />
<line x1="202.91" y1="343.80" x2="202.91" y2="344.88" stroke="#1a1a1a" stroke-width="0.5" />
<line x1="206.45" y1="343.80" x2="206.45" y2="345.60" stroke="#1a1a1a" stroke-width="0.8" />
<line x1="209.99" y1="343.80" x2="209.99" y2="344.88" stroke="#1a1a1a" stroke-width="0.5" />
<line x1="212.06" y1="343.80" x2="212.06" y2="344.88" stroke="#1a1a1a" stroke-width="0.5" />
<line x1="214.66" y1="343.80" x2="214.66" y2="344.88" stroke="#1a1a1a" stroke-width="0.5" />
<line x1="218.20" y1="343.80" x2="218.20" y2="345.60" stroke="#1a1a1a" stroke-width="0.8" />
<text transform="translate(172.40,354.60)" font-size="5.7" text-anchor="middle" font-weight="normal" fill="#111" stroke="#111" stroke-width="0.160" >10<tspan font-size="4.28" dx="0.23" dy="-2.05">0</tspan></text>
<text transform="translate(184.15,354.60)" font-size="5.7" text-anchor="middle" font-weight="normal" fill="#111" stroke="#111" stroke-width="0.160" >10<tspan font-size="4.28" dx="0.23" dy="-2.05">1</tspan></text>
<text transform="translate(195.90,354.60)" font-size="5.7" text-anchor="middle" font-weight="normal" fill="#111" stroke="#111" stroke-width="0.160" >10<tspan font-size="4.28" dx="0.23" dy="-2.05">2</tspan></text>
<text transform="translate(207.65,354.60)" font-size="5.7" text-anchor="middle" font-weight="normal" fill="#111" stroke="#111" stroke-width="0.160" >10<tspan font-size="4.28" dx="0.23" dy="-2.05">3</tspan></text>
<text transform="translate(219.40,354.60)" font-size="5.7" text-anchor="middle" font-weight="normal" fill="#111" stroke="#111" stroke-width="0.160" >10<tspan font-size="4.28" dx="0.23" dy="-2.05">4</tspan></text>
<text transform="translate(198.00,304.90)" font-size="6.3" text-anchor="middle" font-weight="normal" fill="#111" stroke="#111" stroke-width="0.176" >1.1</text>
<text transform="translate(178.80,342.10)" font-size="6.1" text-anchor="middle" font-weight="normal" fill="#111" stroke="#111" stroke-width="0.171" >85.0</text>
<text transform="translate(200.90,342.10)" font-size="6.1" text-anchor="middle" font-weight="normal" fill="#111" stroke="#111" stroke-width="0.171" >13.9</text>
<ellipse cx="256.40" cy="329.30" rx="17.90" ry="7.90" fill="none" stroke="#999" stroke-width="0.35" transform="rotate(-12 256.40 329.30)"/>
<ellipse cx="250.40" cy="331.00" rx="9.90" ry="6.30" fill="none" stroke="#999" stroke-width="0.35" transform="rotate(-10 250.40 331.00)"/>
<ellipse cx="263.40" cy="327.00" rx="8.90" ry="5.50" fill="none" stroke="#999" stroke-width="0.35" transform="rotate(-18 263.40 327.00)"/>
<ellipse cx="268.90" cy="319.50" rx="4.10" ry="5.40" fill="none" stroke="#999" stroke-width="0.35" transform="rotate(30 268.90 319.50)"/>
<ellipse cx="271.40" cy="313.60" rx="4.20" ry="3.50" fill="none" stroke="#999" stroke-width="0.35" transform="rotate(0 271.40 313.60)"/>
<ellipse cx="256.40" cy="329.30" rx="17.00" ry="7.00" fill="#3a3a3a" stroke="#151515" stroke-width="0.55" transform="rotate(-12 256.40 329.30)"/>
<ellipse cx="250.40" cy="331.00" rx="9.00" ry="5.40" fill="#3a3a3a" stroke="#151515" stroke-width="0.55" transform="rotate(-10 250.40 331.00)"/>
<ellipse cx="263.40" cy="327.00" rx="8.00" ry="4.60" fill="#3a3a3a" stroke="#151515" stroke-width="0.55" transform="rotate(-18 263.40 327.00)"/>
<ellipse cx="268.90" cy="319.50" rx="3.20" ry="4.50" fill="#3a3a3a" stroke="#151515" stroke-width="0.55" transform="rotate(30 268.90 319.50)"/>
<ellipse cx="271.40" cy="313.60" rx="3.30" ry="2.60" fill="#3a3a3a" stroke="#151515" stroke-width="0.55" transform="rotate(0 271.40 313.60)"/>
<ellipse cx="256.40" cy="329.30" rx="9.77" ry="4.02" fill="#525252" stroke="#151515" stroke-width="0.55" transform="rotate(-12 256.40 329.30)"/>
<ellipse cx="250.40" cy="331.00" rx="7.58" ry="4.55" fill="#525252" stroke="#151515" stroke-width="0.55" transform="rotate(-10 250.40 331.00)"/>
<ellipse cx="263.40" cy="327.00" rx="6.16" ry="3.54" fill="#525252" stroke="#151515" stroke-width="0.55" transform="rotate(-18 263.40 327.00)"/>
<ellipse cx="268.90" cy="319.50" rx="1.84" ry="2.59" fill="#525252" stroke="#151515" stroke-width="0.55" transform="rotate(30 268.90 319.50)"/>
<ellipse cx="271.40" cy="313.60" rx="2.31" ry="1.82" fill="#525252" stroke="#151515" stroke-width="0.55" transform="rotate(0 271.40 313.60)"/>
<ellipse cx="250.40" cy="331.00" rx="6.17" ry="3.70" fill="#666666" stroke="#151515" stroke-width="0.55" transform="rotate(-10 250.40 331.00)"/>
<ellipse cx="263.40" cy="327.00" rx="4.32" ry="2.49" fill="#666666" stroke="#151515" stroke-width="0.55" transform="rotate(-18 263.40 327.00)"/>
<ellipse cx="271.40" cy="313.60" rx="1.33" ry="1.05" fill="#666666" stroke="#151515" stroke-width="0.55" transform="rotate(0 271.40 313.60)"/>
<ellipse cx="250.40" cy="331.00" rx="4.75" ry="2.85" fill="#747474" stroke="#151515" stroke-width="0.55" transform="rotate(-10 250.40 331.00)"/>
<ellipse cx="263.40" cy="327.00" rx="2.48" ry="1.43" fill="#747474" stroke="#151515" stroke-width="0.55" transform="rotate(-18 263.40 327.00)"/>
<ellipse cx="250.40" cy="331.00" rx="3.33" ry="2.00" fill="#606060" stroke="#151515" stroke-width="0.55" transform="rotate(-10 250.40 331.00)"/>
<ellipse cx="250.40" cy="331.00" rx="1.91" ry="1.15" fill="#a0a0a0" stroke="#151515" stroke-width="0.55" transform="rotate(-10 250.40 331.00)"/>
<rect x="257.50" y="298.50" width="26.00" height="19.00" fill="none" stroke="#151515" stroke-width="0.9" />
<rect x="257.50" y="317.50" width="26.00" height="26.00" fill="none" stroke="#151515" stroke-width="0.9" />
<rect x="239.50" y="321.50" width="18.00" height="22.00" fill="none" stroke="#151515" stroke-width="0.9" />
<rect x="239.50" y="296.50" width="47.00" height="47.00" fill="none" stroke="#1a1a1a" stroke-width="1.1" />
<line x1="239.60" y1="296.20" x2="239.60" y2="344.10" stroke="#1a1a1a" stroke-width="1.9" />
<line x1="238.70" y1="343.40" x2="287.40" y2="343.40" stroke="#1a1a1a" stroke-width="1.7" />
<line x1="237.30" y1="343.20" x2="239.10" y2="343.20" stroke="#1a1a1a" stroke-width="0.8" />
<line x1="238.02" y1="339.70" x2="239.10" y2="339.70" stroke="#1a1a1a" stroke-width="0.5" />
<line x1="238.02" y1="337.65" x2="239.10" y2="337.65" stroke="#1a1a1a" stroke-width="0.5" />
<line x1="238.02" y1="335.07" x2="239.10" y2="335.07" stroke="#1a1a1a" stroke-width="0.5" />
<line x1="237.30" y1="331.57" x2="239.10" y2="331.57" stroke="#1a1a1a" stroke-width="0.8" />
<line x1="238.02" y1="328.08" x2="239.10" y2="328.08" stroke="#1a1a1a" stroke-width="0.5" />
<line x1="238.02" y1="326.03" x2="239.10" y2="326.03" stroke="#1a1a1a" stroke-width="0.5" />
<line x1="238.02" y1="323.45" x2="239.10" y2="323.45" stroke="#1a1a1a" stroke-width="0.5" />
<line x1="237.30" y1="319.95" x2="239.10" y2="319.95" stroke="#1a1a1a" stroke-width="0.8" />
<line x1="238.02" y1="316.45" x2="239.10" y2="316.45" stroke="#1a1a1a" stroke-width="0.5" />
<line x1="238.02" y1="314.40" x2="239.10" y2="314.40" stroke="#1a1a1a" stroke-width="0.5" />
<line x1="238.02" y1="311.82" x2="239.10" y2="311.82" stroke="#1a1a1a" stroke-width="0.5" />
<line x1="237.30" y1="308.32" x2="239.10" y2="308.32" stroke="#1a1a1a" stroke-width="0.8" />
<line x1="238.02" y1="304.83" x2="239.10" y2="304.83" stroke="#1a1a1a" stroke-width="0.5" />
<line x1="238.02" y1="302.78" x2="239.10" y2="302.78" stroke="#1a1a1a" stroke-width="0.5" />
<line x1="238.02" y1="300.20" x2="239.10" y2="300.20" stroke="#1a1a1a" stroke-width="0.5" />
<line x1="237.30" y1="296.70" x2="239.10" y2="296.70" stroke="#1a1a1a" stroke-width="0.8" />
<text transform="translate(235.50,347.10)" font-size="6.0" text-anchor="end" font-weight="normal" fill="#111" stroke="#111" stroke-width="0.168" >10<tspan font-size="4.80" dx="0.24" dy="-2.16">0</tspan></text>
<text transform="translate(235.50,335.47)" font-size="6.0" text-anchor="end" font-weight="normal" fill="#111" stroke="#111" stroke-width="0.168" >10<tspan font-size="4.80" dx="0.24" dy="-2.16">1</tspan></text>
<text transform="translate(235.50,323.85)" font-size="6.0" text-anchor="end" font-weight="normal" fill="#111" stroke="#111" stroke-width="0.168" >10<tspan font-size="4.80" dx="0.24" dy="-2.16">2</tspan></text>
<text transform="translate(235.50,312.22)" font-size="6.0" text-anchor="end" font-weight="normal" fill="#111" stroke="#111" stroke-width="0.168" >10<tspan font-size="4.80" dx="0.24" dy="-2.16">3</tspan></text>
<text transform="translate(235.50,300.60)" font-size="6.0" text-anchor="end" font-weight="normal" fill="#111" stroke="#111" stroke-width="0.168" >10<tspan font-size="4.80" dx="0.24" dy="-2.16">4</tspan></text>
<line x1="239.90" y1="343.80" x2="239.90" y2="345.60" stroke="#1a1a1a" stroke-width="0.8" />
<line x1="243.44" y1="343.80" x2="243.44" y2="344.88" stroke="#1a1a1a" stroke-width="0.5" />
<line x1="245.51" y1="343.80" x2="245.51" y2="344.88" stroke="#1a1a1a" stroke-width="0.5" />
<line x1="248.11" y1="343.80" x2="248.11" y2="344.88" stroke="#1a1a1a" stroke-width="0.5" />
<line x1="251.65" y1="343.80" x2="251.65" y2="345.60" stroke="#1a1a1a" stroke-width="0.8" />
<line x1="255.19" y1="343.80" x2="255.19" y2="344.88" stroke="#1a1a1a" stroke-width="0.5" />
<line x1="257.26" y1="343.80" x2="257.26" y2="344.88" stroke="#1a1a1a" stroke-width="0.5" />
<line x1="259.86" y1="343.80" x2="259.86" y2="344.88" stroke="#1a1a1a" stroke-width="0.5" />
<line x1="263.40" y1="343.80" x2="263.40" y2="345.60" stroke="#1a1a1a" stroke-width="0.8" />
<line x1="266.94" y1="343.80" x2="266.94" y2="344.88" stroke="#1a1a1a" stroke-width="0.5" />
<line x1="269.01" y1="343.80" x2="269.01" y2="344.88" stroke="#1a1a1a" stroke-width="0.5" />
<line x1="271.61" y1="343.80" x2="271.61" y2="344.88" stroke="#1a1a1a" stroke-width="0.5" />
<line x1="275.15" y1="343.80" x2="275.15" y2="345.60" stroke="#1a1a1a" stroke-width="0.8" />
<line x1="278.69" y1="343.80" x2="278.69" y2="344.88" stroke="#1a1a1a" stroke-width="0.5" />
<line x1="280.76" y1="343.80" x2="280.76" y2="344.88" stroke="#1a1a1a" stroke-width="0.5" />
<line x1="283.36" y1="343.80" x2="283.36" y2="344.88" stroke="#1a1a1a" stroke-width="0.5" />
<line x1="286.90" y1="343.80" x2="286.90" y2="345.60" stroke="#1a1a1a" stroke-width="0.8" />
<text transform="translate(241.10,354.60)" font-size="5.7" text-anchor="middle" font-weight="normal" fill="#111" stroke="#111" stroke-width="0.160" >10<tspan font-size="4.28" dx="0.23" dy="-2.05">0</tspan></text>
<text transform="translate(252.85,354.60)" font-size="5.7" text-anchor="middle" font-weight="normal" fill="#111" stroke="#111" stroke-width="0.160" >10<tspan font-size="4.28" dx="0.23" dy="-2.05">1</tspan></text>
<text transform="translate(264.60,354.60)" font-size="5.7" text-anchor="middle" font-weight="normal" fill="#111" stroke="#111" stroke-width="0.160" >10<tspan font-size="4.28" dx="0.23" dy="-2.05">2</tspan></text>
<text transform="translate(276.35,354.60)" font-size="5.7" text-anchor="middle" font-weight="normal" fill="#111" stroke="#111" stroke-width="0.160" >10<tspan font-size="4.28" dx="0.23" dy="-2.05">3</tspan></text>
<text transform="translate(288.10,354.60)" font-size="5.7" text-anchor="middle" font-weight="normal" fill="#111" stroke="#111" stroke-width="0.160" >10<tspan font-size="4.28" dx="0.23" dy="-2.05">4</tspan></text>
<text transform="translate(270.65,304.90)" font-size="6.3" text-anchor="middle" font-weight="normal" fill="#111" stroke="#111" stroke-width="0.176" >1.7</text>
<text transform="translate(247.50,342.10)" font-size="6.1" text-anchor="middle" font-weight="normal" fill="#111" stroke="#111" stroke-width="0.171" >55.2</text>
<text transform="translate(272.70,342.10)" font-size="6.1" text-anchor="middle" font-weight="normal" fill="#111" stroke="#111" stroke-width="0.171" >43.1</text>
<text transform="translate(15.40,320.20) rotate(-90) scale(0.88,1)" font-size="8.4" text-anchor="middle" font-weight="normal" fill="#111" stroke="#111" stroke-width="0.235" >CD123</text>
<text transform="translate(156.00,365.30)" font-size="7.9" text-anchor="middle" font-weight="normal" fill="#111" stroke="#111" stroke-width="0.221" >CD45RA</text>
<line x1="25.00" y1="362.30" x2="138.50" y2="362.30" stroke="#1c1c1c" stroke-width="1.45" />
<line x1="174.00" y1="362.30" x2="288.00" y2="362.30" stroke="#1c1c1c" stroke-width="1.45" />
<text transform="translate(303.30,271.00)" font-size="12.0" text-anchor="start" font-weight="bold" fill="#111" stroke="#111" stroke-width="0.300" >E</text>
<text transform="translate(349.30,271.90)" font-size="8.8" text-anchor="middle" font-weight="normal" fill="#111" stroke="#111" stroke-width="0.246" >CD45RA<tspan font-size="6.16" dx="0.35" dy="-3.17">-</tspan><tspan dy="3.17">123</tspan><tspan font-size="6.16" dx="0.35" dy="-3.17">+/-</tspan></text>
<line x1="320.20" y1="275.60" x2="377.00" y2="275.60" stroke="#1c1c1c" stroke-width="1.45" />
<text transform="translate(417.50,271.90)" font-size="8.8" text-anchor="middle" font-weight="normal" fill="#111" stroke="#111" stroke-width="0.246" >CD45RA<tspan font-size="6.16" dx="0.35" dy="-3.17">+</tspan><tspan dy="3.17">123</tspan><tspan font-size="6.16" dx="0.35" dy="-3.17">+/-</tspan></text>
<line x1="388.40" y1="275.60" x2="444.50" y2="275.60" stroke="#1c1c1c" stroke-width="1.45" />
<text transform="translate(484.40,271.90)" font-size="8.8" text-anchor="middle" font-weight="normal" fill="#111" stroke="#111" stroke-width="0.246" >CD45RA<tspan font-size="6.16" dx="0.35" dy="-3.17">+</tspan><tspan dy="3.17">123</tspan><tspan font-size="6.16" dx="0.35" dy="-3.17">++</tspan></text>
<line x1="454.20" y1="275.60" x2="509.20" y2="275.60" stroke="#1c1c1c" stroke-width="1.45" />
<line x1="340.00" y1="289.00" x2="340.00" y2="344.20" stroke="#1a1a1a" stroke-width="1.5" />
<line x1="339.30" y1="343.40" x2="376.30" y2="343.40" stroke="#1a1a1a" stroke-width="1.5" />
<line x1="336.80" y1="343.40" x2="340.00" y2="343.40" stroke="#1a1a1a" stroke-width="1.0" />
<text transform="translate(335.40,345.60)" font-size="6.0" text-anchor="end" font-weight="normal" fill="#111" stroke="#111" stroke-width="0.168" >0</text>
<line x1="336.80" y1="334.73" x2="340.00" y2="334.73" stroke="#1a1a1a" stroke-width="1.0" />
<text transform="translate(335.40,336.93)" font-size="6.0" text-anchor="end" font-weight="normal" fill="#111" stroke="#111" stroke-width="0.168" >20</text>
<line x1="336.80" y1="326.07" x2="340.00" y2="326.07" stroke="#1a1a1a" stroke-width="1.0" />
<text transform="translate(335.40,328.27)" font-size="6.0" text-anchor="end" font-weight="normal" fill="#111" stroke="#111" stroke-width="0.168" >40</text>
<line x1="336.80" y1="317.40" x2="340.00" y2="317.40" stroke="#1a1a1a" stroke-width="1.0" />
<text transform="translate(335.40,319.60)" font-size="6.0" text-anchor="end" font-weight="normal" fill="#111" stroke="#111" stroke-width="0.168" >60</text>
<line x1="336.80" y1="308.73" x2="340.00" y2="308.73" stroke="#1a1a1a" stroke-width="1.0" />
<text transform="translate(335.40,310.93)" font-size="6.0" text-anchor="end" font-weight="normal" fill="#111" stroke="#111" stroke-width="0.168" >80</text>
<line x1="336.80" y1="300.07" x2="340.00" y2="300.07" stroke="#1a1a1a" stroke-width="1.0" />
<text transform="translate(335.40,302.27)" font-size="6.0" text-anchor="end" font-weight="normal" fill="#111" stroke="#111" stroke-width="0.168" >100</text>
<line x1="336.80" y1="291.40" x2="340.00" y2="291.40" stroke="#1a1a1a" stroke-width="1.0" />
<text transform="translate(335.40,293.60)" font-size="6.0" text-anchor="end" font-weight="normal" fill="#111" stroke="#111" stroke-width="0.168" >120</text>
<line x1="346.00" y1="343.40" x2="346.00" y2="346.40" stroke="#1a1a1a" stroke-width="1.0" />
<line x1="346.00" y1="325.63" x2="346.00" y2="307.65" stroke="#111" stroke-width="1.1" />
<line x1="344.26" y1="325.63" x2="347.74" y2="325.63" stroke="#111" stroke-width="1.2000000000000002" />
<line x1="344.26" y1="307.65" x2="347.74" y2="307.65" stroke="#111" stroke-width="1.2000000000000002" />
<rect x="343.10" y="313.28" width="5.80" height="7.58" fill="#bb1232" stroke="#1a1a1a" stroke-width="0.25" />
<line x1="343.10" y1="316.75" x2="348.90" y2="316.75" stroke="#151515" stroke-width="1.1" />
<text transform="translate(348.60,352.40) rotate(-46)" font-size="6.3" text-anchor="end" font-weight="normal" fill="#111" stroke="#111" stroke-width="0.176" >plerixafor</text>
<line x1="354.70" y1="343.40" x2="354.70" y2="346.40" stroke="#1a1a1a" stroke-width="1.0" />
<line x1="354.70" y1="313.50" x2="354.70" y2="303.10" stroke="#111" stroke-width="1.1" />
<line x1="352.96" y1="313.50" x2="356.44" y2="313.50" stroke="#111" stroke-width="1.2000000000000002" />
<line x1="352.96" y1="303.10" x2="356.44" y2="303.10" stroke="#111" stroke-width="1.2000000000000002" />
<rect x="351.80" y="303.97" width="5.80" height="5.42" fill="#27437f" stroke="#1a1a1a" stroke-width="0.25" />
<line x1="351.80" y1="306.57" x2="357.60" y2="306.57" stroke="#151515" stroke-width="1.1" />
<text transform="translate(357.30,352.40) rotate(-46)" font-size="6.3" text-anchor="end" font-weight="normal" fill="#111" stroke="#111" stroke-width="0.176" >G-CSF</text>
<line x1="363.40" y1="343.40" x2="363.40" y2="346.40" stroke="#1a1a1a" stroke-width="1.0" />
<line x1="363.40" y1="329.75" x2="363.40" y2="315.45" stroke="#111" stroke-width="1.1" />
<line x1="361.66" y1="329.75" x2="365.14" y2="329.75" stroke="#111" stroke-width="1.2000000000000002" />
<line x1="361.66" y1="315.45" x2="365.14" y2="315.45" stroke="#111" stroke-width="1.2000000000000002" />
<rect x="360.50" y="320.43" width="5.80" height="6.28" fill="#78c440" stroke="#1a1a1a" stroke-width="0.25" />
<line x1="360.50" y1="325.20" x2="366.30" y2="325.20" stroke="#151515" stroke-width="1.1" />
<text transform="translate(366.00,352.40) rotate(-46)" font-size="6.3" text-anchor="end" font-weight="normal" fill="#111" stroke="#111" stroke-width="0.176" >BM</text>
<line x1="372.20" y1="343.40" x2="372.20" y2="346.40" stroke="#1a1a1a" stroke-width="1.0" />
<line x1="372.20" y1="320.22" x2="372.20" y2="310.03" stroke="#111" stroke-width="1.1" />
<line x1="370.46" y1="320.22" x2="373.94" y2="320.22" stroke="#111" stroke-width="1.2000000000000002" />
<line x1="370.46" y1="310.03" x2="373.94" y2="310.03" stroke="#111" stroke-width="1.2000000000000002" />
<rect x="369.30" y="310.90" width="5.80" height="5.85" fill="#4c2672" stroke="#1a1a1a" stroke-width="0.25" />
<line x1="369.30" y1="313.93" x2="375.10" y2="313.93" stroke="#151515" stroke-width="1.1" />
<text transform="translate(374.80,352.40) rotate(-46)" font-size="6.3" text-anchor="end" font-weight="normal" fill="#111" stroke="#111" stroke-width="0.176" >Cord</text>
<line x1="408.00" y1="289.00" x2="408.00" y2="344.20" stroke="#1a1a1a" stroke-width="1.5" />
<line x1="407.30" y1="343.40" x2="444.30" y2="343.40" stroke="#1a1a1a" stroke-width="1.5" />
<line x1="404.80" y1="343.40" x2="408.00" y2="343.40" stroke="#1a1a1a" stroke-width="1.0" />
<text transform="translate(402.70,345.60)" font-size="6.0" text-anchor="end" font-weight="normal" fill="#111" stroke="#111" stroke-width="0.168" >0</text>
<line x1="404.80" y1="333.00" x2="408.00" y2="333.00" stroke="#1a1a1a" stroke-width="1.0" />
<text transform="translate(402.70,335.20)" font-size="6.0" text-anchor="end" font-weight="normal" fill="#111" stroke="#111" stroke-width="0.168" >20</text>
<line x1="404.80" y1="322.60" x2="408.00" y2="322.60" stroke="#1a1a1a" stroke-width="1.0" />
<text transform="translate(402.70,324.80)" font-size="6.0" text-anchor="end" font-weight="normal" fill="#111" stroke="#111" stroke-width="0.168" >40</text>
<line x1="404.80" y1="312.20" x2="408.00" y2="312.20" stroke="#1a1a1a" stroke-width="1.0" />
<text transform="translate(402.70,314.40)" font-size="6.0" text-anchor="end" font-weight="normal" fill="#111" stroke="#111" stroke-width="0.168" >60</text>
<line x1="404.80" y1="301.80" x2="408.00" y2="301.80" stroke="#1a1a1a" stroke-width="1.0" />
<text transform="translate(402.70,304.00)" font-size="6.0" text-anchor="end" font-weight="normal" fill="#111" stroke="#111" stroke-width="0.168" >80</text>
<line x1="404.80" y1="291.40" x2="408.00" y2="291.40" stroke="#1a1a1a" stroke-width="1.0" />
<text transform="translate(402.70,293.60)" font-size="6.0" text-anchor="end" font-weight="normal" fill="#111" stroke="#111" stroke-width="0.168" >100</text>
<line x1="413.00" y1="343.40" x2="413.00" y2="346.40" stroke="#1a1a1a" stroke-width="1.0" />
<line x1="413.00" y1="337.42" x2="413.00" y2="323.12" stroke="#111" stroke-width="1.1" />
<line x1="411.26" y1="337.42" x2="414.74" y2="337.42" stroke="#111" stroke-width="1.2000000000000002" />
<line x1="411.26" y1="323.12" x2="414.74" y2="323.12" stroke="#111" stroke-width="1.2000000000000002" />
<rect x="410.10" y="329.62" width="5.80" height="4.94" fill="#bb1232" stroke="#1a1a1a" stroke-width="0.25" />
<line x1="410.10" y1="331.96" x2="415.90" y2="331.96" stroke="#151515" stroke-width="1.1" />
<text transform="translate(415.60,352.40) rotate(-46)" font-size="6.3" text-anchor="end" font-weight="normal" fill="#111" stroke="#111" stroke-width="0.176" >plerixafor</text>
<line x1="421.70" y1="343.40" x2="421.70" y2="346.40" stroke="#1a1a1a" stroke-width="1.0" />
<line x1="421.70" y1="340.18" x2="421.70" y2="327.38" stroke="#111" stroke-width="1.1" />
<line x1="419.96" y1="340.18" x2="423.44" y2="340.18" stroke="#111" stroke-width="1.2000000000000002" />
<line x1="419.96" y1="327.38" x2="423.44" y2="327.38" stroke="#111" stroke-width="1.2000000000000002" />
<rect x="418.80" y="332.48" width="5.80" height="6.92" fill="#27437f" stroke="#1a1a1a" stroke-width="0.25" />
<line x1="418.80" y1="336.12" x2="424.60" y2="336.12" stroke="#151515" stroke-width="1.1" />
<text transform="translate(424.30,352.40) rotate(-46)" font-size="6.3" text-anchor="end" font-weight="normal" fill="#111" stroke="#111" stroke-width="0.176" >G-CSF</text>
<line x1="430.50" y1="343.40" x2="430.50" y2="346.40" stroke="#1a1a1a" stroke-width="1.0" />
<line x1="430.50" y1="327.38" x2="430.50" y2="311.00" stroke="#111" stroke-width="1.1" />
<line x1="428.76" y1="327.38" x2="432.24" y2="327.38" stroke="#111" stroke-width="1.2000000000000002" />
<line x1="428.76" y1="311.00" x2="432.24" y2="311.00" stroke="#111" stroke-width="1.2000000000000002" />
<rect x="427.60" y="313.60" width="5.80" height="9.52" fill="#78c440" stroke="#1a1a1a" stroke-width="0.25" />
<line x1="427.60" y1="316.10" x2="433.40" y2="316.10" stroke="#151515" stroke-width="1.1" />
<text transform="translate(433.10,352.40) rotate(-46)" font-size="6.3" text-anchor="end" font-weight="normal" fill="#111" stroke="#111" stroke-width="0.176" >BM</text>
<line x1="439.20" y1="343.40" x2="439.20" y2="346.40" stroke="#1a1a1a" stroke-width="1.0" />
<line x1="439.20" y1="332.74" x2="439.20" y2="320.00" stroke="#111" stroke-width="1.1" />
<line x1="437.46" y1="332.74" x2="440.94" y2="332.74" stroke="#111" stroke-width="1.2000000000000002" />
<line x1="437.46" y1="320.00" x2="440.94" y2="320.00" stroke="#111" stroke-width="1.2000000000000002" />
<rect x="436.30" y="324.42" width="5.80" height="7.02" fill="#4c2672" stroke="#1a1a1a" stroke-width="0.25" />
<line x1="436.30" y1="328.01" x2="442.10" y2="328.01" stroke="#151515" stroke-width="1.1" />
<text transform="translate(441.80,352.40) rotate(-46)" font-size="6.3" text-anchor="end" font-weight="normal" fill="#111" stroke="#111" stroke-width="0.176" >Cord</text>
<line x1="472.60" y1="289.00" x2="472.60" y2="344.20" stroke="#1a1a1a" stroke-width="1.5" />
<line x1="471.90" y1="343.40" x2="508.90" y2="343.40" stroke="#1a1a1a" stroke-width="1.5" />
<line x1="469.40" y1="343.40" x2="472.60" y2="343.40" stroke="#1a1a1a" stroke-width="1.0" />
<text transform="translate(466.80,345.60)" font-size="6.0" text-anchor="end" font-weight="normal" fill="#111" stroke="#111" stroke-width="0.168" >0</text>
<line x1="469.40" y1="330.40" x2="472.60" y2="330.40" stroke="#1a1a1a" stroke-width="1.0" />
<text transform="translate(466.80,332.60)" font-size="6.0" text-anchor="end" font-weight="normal" fill="#111" stroke="#111" stroke-width="0.168" >10</text>
<line x1="469.40" y1="317.40" x2="472.60" y2="317.40" stroke="#1a1a1a" stroke-width="1.0" />
<text transform="translate(466.80,319.60)" font-size="6.0" text-anchor="end" font-weight="normal" fill="#111" stroke="#111" stroke-width="0.168" >20</text>
<line x1="469.40" y1="304.40" x2="472.60" y2="304.40" stroke="#1a1a1a" stroke-width="1.0" />
<text transform="translate(466.80,306.60)" font-size="6.0" text-anchor="end" font-weight="normal" fill="#111" stroke="#111" stroke-width="0.168" >30</text>
<line x1="469.40" y1="291.40" x2="472.60" y2="291.40" stroke="#1a1a1a" stroke-width="1.0" />
<text transform="translate(466.80,293.60)" font-size="6.0" text-anchor="end" font-weight="normal" fill="#111" stroke="#111" stroke-width="0.168" >40</text>
<line x1="477.20" y1="343.40" x2="477.20" y2="346.40" stroke="#1a1a1a" stroke-width="1.0" />
<line x1="477.20" y1="338.59" x2="477.20" y2="298.55" stroke="#111" stroke-width="1.1" />
<line x1="475.46" y1="338.59" x2="478.94" y2="338.59" stroke="#111" stroke-width="1.2000000000000002" />
<line x1="475.46" y1="298.55" x2="478.94" y2="298.55" stroke="#111" stroke-width="1.2000000000000002" />
<rect x="474.30" y="317.66" width="5.80" height="11.70" fill="#bb1232" stroke="#1a1a1a" stroke-width="0.25" />
<line x1="474.30" y1="323.38" x2="480.10" y2="323.38" stroke="#151515" stroke-width="1.1" />
<text transform="translate(479.80,352.40) rotate(-46)" font-size="6.3" text-anchor="end" font-weight="normal" fill="#111" stroke="#111" stroke-width="0.176" >plerixafor</text>
<line x1="486.00" y1="343.40" x2="486.00" y2="346.40" stroke="#1a1a1a" stroke-width="1.0" />
<line x1="486.00" y1="343.40" x2="486.00" y2="340.28" stroke="#111" stroke-width="1.1" />
<line x1="484.26" y1="343.40" x2="487.74" y2="343.40" stroke="#111" stroke-width="1.2000000000000002" />
<line x1="484.26" y1="340.28" x2="487.74" y2="340.28" stroke="#111" stroke-width="1.2000000000000002" />
<rect x="483.10" y="341.32" width="5.80" height="1.95" fill="#14141f" stroke="#1a1a1a" stroke-width="0.25" />
<line x1="483.10" y1="342.62" x2="488.90" y2="342.62" stroke="#151515" stroke-width="1.1" />
<text transform="translate(488.60,352.40) rotate(-46)" font-size="6.3" text-anchor="end" font-weight="normal" fill="#111" stroke="#111" stroke-width="0.176" >G-CSF</text>
<line x1="494.60" y1="343.40" x2="494.60" y2="346.40" stroke="#1a1a1a" stroke-width="1.0" />
<line x1="494.60" y1="340.54" x2="494.60" y2="334.56" stroke="#111" stroke-width="1.1" />
<line x1="492.86" y1="340.54" x2="496.34" y2="340.54" stroke="#111" stroke-width="1.2000000000000002" />
<line x1="492.86" y1="334.56" x2="496.34" y2="334.56" stroke="#111" stroke-width="1.2000000000000002" />
<rect x="491.70" y="335.99" width="5.80" height="3.38" fill="#78c440" stroke="#1a1a1a" stroke-width="0.25" />
<line x1="491.70" y1="337.55" x2="497.50" y2="337.55" stroke="#151515" stroke-width="1.1" />
<text transform="translate(497.20,352.40) rotate(-46)" font-size="6.3" text-anchor="end" font-weight="normal" fill="#111" stroke="#111" stroke-width="0.176" >BM</text>
<line x1="503.30" y1="343.40" x2="503.30" y2="346.40" stroke="#1a1a1a" stroke-width="1.0" />
<line x1="503.30" y1="342.88" x2="503.30" y2="339.24" stroke="#111" stroke-width="1.1" />
<line x1="501.56" y1="342.88" x2="505.04" y2="342.88" stroke="#111" stroke-width="1.2000000000000002" />
<line x1="501.56" y1="339.24" x2="505.04" y2="339.24" stroke="#111" stroke-width="1.2000000000000002" />
<rect x="500.40" y="339.76" width="5.80" height="2.73" fill="#14141f" stroke="#1a1a1a" stroke-width="0.25" />
<line x1="500.40" y1="341.32" x2="506.20" y2="341.32" stroke="#151515" stroke-width="1.1" />
<text transform="translate(505.90,352.40) rotate(-46)" font-size="6.3" text-anchor="end" font-weight="normal" fill="#111" stroke="#111" stroke-width="0.176" >Cord</text>
<text transform="translate(319.60,315.50) rotate(-90) scale(0.87,1)" font-size="8.4" text-anchor="middle" font-weight="normal" fill="#111" stroke="#111" stroke-width="0.235" >% CD34<tspan font-size="5.88" dx="0.34" dy="-3.02">+</tspan><tspan dy="3.02"> cells</tspan></text>
<line x1="346.00" y1="285.40" x2="364.60" y2="285.40" stroke="#1a1a1a" stroke-width="1.3" />
<text transform="translate(355.30,286.10)" font-size="8.0" text-anchor="middle" font-weight="bold" fill="#111" stroke="#111" stroke-width="0.250" >**</text>
<line x1="346.00" y1="292.00" x2="355.00" y2="292.00" stroke="#1a1a1a" stroke-width="1.3" />
<text transform="translate(350.50,292.70)" font-size="8.0" text-anchor="middle" font-weight="bold" fill="#111" stroke="#111" stroke-width="0.250" >***</text>
<line x1="354.60" y1="295.00" x2="373.00" y2="295.00" stroke="#1a1a1a" stroke-width="1.3" />
<text transform="translate(363.80,295.70)" font-size="8.0" text-anchor="middle" font-weight="bold" fill="#111" stroke="#111" stroke-width="0.250" >**</text>
<line x1="354.60" y1="301.00" x2="364.00" y2="301.00" stroke="#1a1a1a" stroke-width="1.3" />
<text transform="translate(359.30,301.70)" font-size="8.0" text-anchor="middle" font-weight="bold" fill="#111" stroke="#111" stroke-width="0.250" >***</text>
<line x1="363.00" y1="308.00" x2="373.00" y2="308.00" stroke="#1a1a1a" stroke-width="1.3" />
<text transform="translate(368.00,308.70)" font-size="8.0" text-anchor="middle" font-weight="bold" fill="#111" stroke="#111" stroke-width="0.250" >***</text>
<line x1="412.60" y1="285.30" x2="439.60" y2="285.30" stroke="#1a1a1a" stroke-width="1.3" />
<text transform="translate(426.10,286.00)" font-size="8.0" text-anchor="middle" font-weight="bold" fill="#111" stroke="#111" stroke-width="0.250" >***</text>
<line x1="412.60" y1="291.10" x2="430.00" y2="291.10" stroke="#1a1a1a" stroke-width="1.3" />
<text transform="translate(421.30,291.80)" font-size="8.0" text-anchor="middle" font-weight="bold" fill="#111" stroke="#111" stroke-width="0.250" >***</text>
<line x1="422.00" y1="296.80" x2="439.60" y2="296.80" stroke="#1a1a1a" stroke-width="1.3" />
<text transform="translate(430.80,297.50)" font-size="8.0" text-anchor="middle" font-weight="bold" fill="#111" stroke="#111" stroke-width="0.250" >***</text>
<line x1="422.00" y1="302.90" x2="430.60" y2="302.90" stroke="#1a1a1a" stroke-width="1.3" />
<text transform="translate(426.30,303.60)" font-size="8.0" text-anchor="middle" font-weight="bold" fill="#111" stroke="#111" stroke-width="0.250" >***</text>
<line x1="431.20" y1="308.30" x2="439.60" y2="308.30" stroke="#1a1a1a" stroke-width="1.3" />
<text transform="translate(435.40,309.00)" font-size="8.0" text-anchor="middle" font-weight="bold" fill="#111" stroke="#111" stroke-width="0.250" >**</text>
<line x1="411.40" y1="320.60" x2="422.00" y2="320.60" stroke="#1a1a1a" stroke-width="1.3" />
<text transform="translate(416.70,321.30)" font-size="8.0" text-anchor="middle" font-weight="bold" fill="#111" stroke="#111" stroke-width="0.250" >***</text>
<line x1="477.00" y1="285.20" x2="504.00" y2="285.20" stroke="#1a1a1a" stroke-width="1.3" />
<text transform="translate(490.50,285.90)" font-size="8.0" text-anchor="middle" font-weight="bold" fill="#111" stroke="#111" stroke-width="0.250" >***</text>
<line x1="477.00" y1="291.00" x2="494.20" y2="291.00" stroke="#1a1a1a" stroke-width="1.3" />
<text transform="translate(485.60,291.70)" font-size="8.0" text-anchor="middle" font-weight="bold" fill="#111" stroke="#111" stroke-width="0.250" >***</text>
<line x1="477.00" y1="296.60" x2="486.00" y2="296.60" stroke="#1a1a1a" stroke-width="1.3" />
<text transform="translate(481.50,297.30)" font-size="8.0" text-anchor="middle" font-weight="bold" fill="#111" stroke="#111" stroke-width="0.250" >***</text>
<line x1="486.40" y1="319.40" x2="504.00" y2="319.40" stroke="#1a1a1a" stroke-width="1.3" />
<text transform="translate(495.20,320.10)" font-size="8.0" text-anchor="middle" font-weight="bold" fill="#111" stroke="#111" stroke-width="0.250" >***</text>
<line x1="486.40" y1="326.00" x2="495.00" y2="326.00" stroke="#1a1a1a" stroke-width="1.3" />
<text transform="translate(490.70,326.70)" font-size="8.0" text-anchor="middle" font-weight="bold" fill="#111" stroke="#111" stroke-width="0.250" >***</text>
<line x1="494.40" y1="331.00" x2="504.00" y2="331.00" stroke="#1a1a1a" stroke-width="1.3" />
<text transform="translate(499.20,331.70)" font-size="8.0" text-anchor="middle" font-weight="bold" fill="#111" stroke="#111" stroke-width="0.250" >***</text>
<text transform="translate(8.10,392.50)" font-size="12.0" text-anchor="start" font-weight="bold" fill="#111" stroke="#111" stroke-width="0.300" >F</text>
<text transform="translate(49.20,393.00)" font-size="8.8" text-anchor="middle" font-weight="normal" fill="#111" stroke="#111" stroke-width="0.246" >Total CD34<tspan font-size="6.16" dx="0.35" dy="-3.17">+</tspan></text>
<line x1="18.60" y1="396.40" x2="79.20" y2="396.40" stroke="#1c1c1c" stroke-width="1.45" />
<text transform="translate(122.30,393.00)" font-size="8.8" text-anchor="middle" font-weight="normal" fill="#111" stroke="#111" stroke-width="0.246" >CD45RA<tspan font-size="6.16" dx="0.35" dy="-3.17">-</tspan><tspan dy="3.17">123</tspan><tspan font-size="6.16" dx="0.35" dy="-3.17">+/-</tspan></text>
<line x1="91.00" y1="396.40" x2="152.00" y2="396.40" stroke="#1c1c1c" stroke-width="1.45" />
<text transform="translate(193.20,393.00)" font-size="8.8" text-anchor="middle" font-weight="normal" fill="#111" stroke="#111" stroke-width="0.246" >CD45RA<tspan font-size="6.16" dx="0.35" dy="-3.17">+</tspan><tspan dy="3.17">123</tspan><tspan font-size="6.16" dx="0.35" dy="-3.17">+/-</tspan></text>
<line x1="163.00" y1="396.40" x2="222.60" y2="396.40" stroke="#1c1c1c" stroke-width="1.45" />
<text transform="translate(265.00,393.00)" font-size="8.8" text-anchor="middle" font-weight="normal" fill="#111" stroke="#111" stroke-width="0.246" >CD45RA<tspan font-size="6.16" dx="0.35" dy="-3.17">+</tspan><tspan dy="3.17">123</tspan><tspan font-size="6.16" dx="0.35" dy="-3.17">++</tspan></text>
<line x1="234.00" y1="396.40" x2="295.60" y2="396.40" stroke="#1c1c1c" stroke-width="1.45" />
<line x1="42.40" y1="401.00" x2="42.40" y2="457.80" stroke="#1a1a1a" stroke-width="1.5" />
<line x1="41.70" y1="457.00" x2="79.00" y2="457.00" stroke="#1a1a1a" stroke-width="1.5" />
<line x1="39.20" y1="457.00" x2="42.40" y2="457.00" stroke="#1a1a1a" stroke-width="1.0" />
<text transform="translate(37.40,459.20)" font-size="5.9" text-anchor="end" font-weight="normal" fill="#111" stroke="#111" stroke-width="0.165" >0</text>
<line x1="39.20" y1="439.47" x2="42.40" y2="439.47" stroke="#1a1a1a" stroke-width="1.0" />
<text transform="translate(37.40,441.67)" font-size="5.9" text-anchor="end" font-weight="normal" fill="#111" stroke="#111" stroke-width="0.165" >5</text>
<line x1="39.20" y1="421.93" x2="42.40" y2="421.93" stroke="#1a1a1a" stroke-width="1.0" />
<text transform="translate(37.40,424.13)" font-size="5.9" text-anchor="end" font-weight="normal" fill="#111" stroke="#111" stroke-width="0.165" >10</text>
<line x1="39.20" y1="404.40" x2="42.40" y2="404.40" stroke="#1a1a1a" stroke-width="1.0" />
<text transform="translate(37.40,406.60)" font-size="5.9" text-anchor="end" font-weight="normal" fill="#111" stroke="#111" stroke-width="0.165" >15</text>
<line x1="52.30" y1="457.00" x2="52.30" y2="460.00" stroke="#1a1a1a" stroke-width="1.0" />
<line x1="52.30" y1="448.93" x2="52.30" y2="443.67" stroke="#111" stroke-width="1.2" />
<line x1="48.61" y1="448.93" x2="55.99" y2="448.93" stroke="#111" stroke-width="1.3" />
<line x1="48.61" y1="443.67" x2="55.99" y2="443.67" stroke="#111" stroke-width="1.3" />
<rect x="46.15" y="445.60" width="12.30" height="2.81" fill="#bb1232" stroke="#1a1a1a" stroke-width="0.25" />
<line x1="46.15" y1="447.01" x2="58.45" y2="447.01" stroke="#151515" stroke-width="1.2" />
<text transform="translate(57.70,467.00) rotate(-45)" font-size="8.2" text-anchor="end" font-weight="normal" fill="#111" stroke="#111" stroke-width="0.230" >plerixafor</text>
<line x1="69.80" y1="457.00" x2="69.80" y2="460.00" stroke="#1a1a1a" stroke-width="1.0" />
<line x1="69.80" y1="449.99" x2="69.80" y2="417.02" stroke="#111" stroke-width="1.2" />
<line x1="66.11" y1="449.99" x2="73.49" y2="449.99" stroke="#111" stroke-width="1.3" />
<line x1="66.11" y1="417.02" x2="73.49" y2="417.02" stroke="#111" stroke-width="1.3" />
<rect x="63.65" y="420.88" width="12.30" height="17.53" fill="#27437f" stroke="#1a1a1a" stroke-width="0.25" />
<line x1="63.65" y1="434.91" x2="75.95" y2="434.91" stroke="#151515" stroke-width="1.2" />
<text transform="translate(75.20,467.00) rotate(-45)" font-size="8.2" text-anchor="end" font-weight="normal" fill="#111" stroke="#111" stroke-width="0.230" >G-CSF</text>
<text transform="translate(26.50,428.50) rotate(-90)" font-size="8.3" text-anchor="middle" font-weight="normal" fill="#111" stroke="#111" stroke-width="0.232" >No. cells (x10<tspan font-size="5.81" dx="0.33" dy="-2.99">6</tspan><tspan dy="2.99">)</tspan></text>
<line x1="115.40" y1="401.00" x2="115.40" y2="457.80" stroke="#1a1a1a" stroke-width="1.5" />
<line x1="114.70" y1="457.00" x2="152.00" y2="457.00" stroke="#1a1a1a" stroke-width="1.5" />
<line x1="112.20" y1="457.00" x2="115.40" y2="457.00" stroke="#1a1a1a" stroke-width="1.0" />
<text transform="translate(110.40,459.20)" font-size="5.9" text-anchor="end" font-weight="normal" fill="#111" stroke="#111" stroke-width="0.165" >0</text>
<line x1="112.20" y1="446.48" x2="115.40" y2="446.48" stroke="#1a1a1a" stroke-width="1.0" />
<text transform="translate(110.40,448.68)" font-size="5.9" text-anchor="end" font-weight="normal" fill="#111" stroke="#111" stroke-width="0.165" >2</text>
<line x1="112.20" y1="435.96" x2="115.40" y2="435.96" stroke="#1a1a1a" stroke-width="1.0" />
<text transform="translate(110.40,438.16)" font-size="5.9" text-anchor="end" font-weight="normal" fill="#111" stroke="#111" stroke-width="0.165" >4</text>
<line x1="112.20" y1="425.44" x2="115.40" y2="425.44" stroke="#1a1a1a" stroke-width="1.0" />
<text transform="translate(110.40,427.64)" font-size="5.9" text-anchor="end" font-weight="normal" fill="#111" stroke="#111" stroke-width="0.165" >6</text>
<line x1="112.20" y1="414.92" x2="115.40" y2="414.92" stroke="#1a1a1a" stroke-width="1.0" />
<text transform="translate(110.40,417.12)" font-size="5.9" text-anchor="end" font-weight="normal" fill="#111" stroke="#111" stroke-width="0.165" >8</text>
<line x1="112.20" y1="404.40" x2="115.40" y2="404.40" stroke="#1a1a1a" stroke-width="1.0" />
<text transform="translate(110.40,406.60)" font-size="5.9" text-anchor="end" font-weight="normal" fill="#111" stroke="#111" stroke-width="0.165" >10</text>
<line x1="124.80" y1="457.00" x2="124.80" y2="460.00" stroke="#1a1a1a" stroke-width="1.0" />
<line x1="124.80" y1="451.58" x2="124.80" y2="445.01" stroke="#111" stroke-width="1.2" />
<line x1="121.11" y1="451.58" x2="128.49" y2="451.58" stroke="#111" stroke-width="1.3" />
<line x1="121.11" y1="445.01" x2="128.49" y2="445.01" stroke="#111" stroke-width="1.3" />
<rect x="118.65" y="447.43" width="12.30" height="2.58" fill="#bb1232" stroke="#1a1a1a" stroke-width="0.25" />
<line x1="118.65" y1="448.58" x2="130.95" y2="448.58" stroke="#151515" stroke-width="1.2" />
<text transform="translate(130.20,467.00) rotate(-45)" font-size="8.2" text-anchor="end" font-weight="normal" fill="#111" stroke="#111" stroke-width="0.230" >plerixafor</text>
<line x1="142.80" y1="457.00" x2="142.80" y2="460.00" stroke="#1a1a1a" stroke-width="1.0" />
<line x1="142.80" y1="448.58" x2="142.80" y2="407.56" stroke="#111" stroke-width="1.2" />
<line x1="139.11" y1="448.58" x2="146.49" y2="448.58" stroke="#111" stroke-width="1.3" />
<line x1="139.11" y1="407.56" x2="146.49" y2="407.56" stroke="#111" stroke-width="1.3" />
<rect x="136.65" y="415.97" width="12.30" height="18.04" fill="#27437f" stroke="#1a1a1a" stroke-width="0.25" />
<line x1="136.65" y1="427.39" x2="148.95" y2="427.39" stroke="#151515" stroke-width="1.2" />
<text transform="translate(148.20,467.00) rotate(-45)" font-size="8.2" text-anchor="end" font-weight="normal" fill="#111" stroke="#111" stroke-width="0.230" >G-CSF</text>
<text transform="translate(99.10,428.50) rotate(-90)" font-size="8.3" text-anchor="middle" font-weight="normal" fill="#111" stroke="#111" stroke-width="0.232" >No. cells (x10<tspan font-size="5.81" dx="0.33" dy="-2.99">6</tspan><tspan dy="2.99">)</tspan></text>
<line x1="186.00" y1="401.00" x2="186.00" y2="457.80" stroke="#1a1a1a" stroke-width="1.5" />
<line x1="185.30" y1="457.00" x2="222.60" y2="457.00" stroke="#1a1a1a" stroke-width="1.5" />
<line x1="182.80" y1="457.00" x2="186.00" y2="457.00" stroke="#1a1a1a" stroke-width="1.0" />
<text transform="translate(181.00,459.20)" font-size="5.9" text-anchor="end" font-weight="normal" fill="#111" stroke="#111" stroke-width="0.165" >0</text>
<line x1="182.80" y1="443.85" x2="186.00" y2="443.85" stroke="#1a1a1a" stroke-width="1.0" />
<text transform="translate(181.00,446.05)" font-size="5.9" text-anchor="end" font-weight="normal" fill="#111" stroke="#111" stroke-width="0.165" >1</text>
<line x1="182.80" y1="430.70" x2="186.00" y2="430.70" stroke="#1a1a1a" stroke-width="1.0" />
<text transform="translate(181.00,432.90)" font-size="5.9" text-anchor="end" font-weight="normal" fill="#111" stroke="#111" stroke-width="0.165" >2</text>
<line x1="182.80" y1="417.55" x2="186.00" y2="417.55" stroke="#1a1a1a" stroke-width="1.0" />
<text transform="translate(181.00,419.75)" font-size="5.9" text-anchor="end" font-weight="normal" fill="#111" stroke="#111" stroke-width="0.165" >3</text>
<line x1="182.80" y1="404.40" x2="186.00" y2="404.40" stroke="#1a1a1a" stroke-width="1.0" />
<text transform="translate(181.00,406.60)" font-size="5.9" text-anchor="end" font-weight="normal" fill="#111" stroke="#111" stroke-width="0.165" >4</text>
<line x1="194.80" y1="457.00" x2="194.80" y2="460.00" stroke="#1a1a1a" stroke-width="1.0" />
<line x1="194.80" y1="452.00" x2="194.80" y2="445.43" stroke="#111" stroke-width="1.2" />
<line x1="191.11" y1="452.00" x2="198.49" y2="452.00" stroke="#111" stroke-width="1.3" />
<line x1="191.11" y1="445.43" x2="198.49" y2="445.43" stroke="#111" stroke-width="1.3" />
<rect x="188.65" y="447.40" width="12.30" height="3.55" fill="#bb1232" stroke="#1a1a1a" stroke-width="0.25" />
<line x1="188.65" y1="448.98" x2="200.95" y2="448.98" stroke="#151515" stroke-width="1.2" />
<text transform="translate(200.20,467.00) rotate(-45)" font-size="8.2" text-anchor="end" font-weight="normal" fill="#111" stroke="#111" stroke-width="0.230" >plerixafor</text>
<line x1="212.80" y1="457.00" x2="212.80" y2="460.00" stroke="#1a1a1a" stroke-width="1.0" />
<line x1="212.80" y1="453.06" x2="212.80" y2="415.58" stroke="#111" stroke-width="1.2" />
<line x1="209.11" y1="453.06" x2="216.49" y2="453.06" stroke="#111" stroke-width="1.3" />
<line x1="209.11" y1="415.58" x2="216.49" y2="415.58" stroke="#111" stroke-width="1.3" />
<rect x="206.65" y="432.01" width="12.30" height="18.41" fill="#27437f" stroke="#1a1a1a" stroke-width="0.25" />
<line x1="206.65" y1="447.01" x2="218.95" y2="447.01" stroke="#151515" stroke-width="1.2" />
<text transform="translate(218.20,467.00) rotate(-45)" font-size="8.2" text-anchor="end" font-weight="normal" fill="#111" stroke="#111" stroke-width="0.230" >G-CSF</text>
<text transform="translate(172.50,428.50) rotate(-90)" font-size="8.3" text-anchor="middle" font-weight="normal" fill="#111" stroke="#111" stroke-width="0.232" >No. cells (x10<tspan font-size="5.81" dx="0.33" dy="-2.99">6</tspan><tspan dy="2.99">)</tspan></text>
<line x1="260.00" y1="401.00" x2="260.00" y2="457.80" stroke="#1a1a1a" stroke-width="1.5" />
<line x1="259.30" y1="457.00" x2="296.60" y2="457.00" stroke="#1a1a1a" stroke-width="1.5" />
<line x1="256.80" y1="457.00" x2="260.00" y2="457.00" stroke="#1a1a1a" stroke-width="1.0" />
<text transform="translate(255.00,459.20)" font-size="5.9" text-anchor="end" font-weight="normal" fill="#111" stroke="#111" stroke-width="0.165" >0.0</text>
<line x1="256.80" y1="439.47" x2="260.00" y2="439.47" stroke="#1a1a1a" stroke-width="1.0" />
<text transform="translate(255.00,441.67)" font-size="5.9" text-anchor="end" font-weight="normal" fill="#111" stroke="#111" stroke-width="0.165" >0.5</text>
<line x1="256.80" y1="421.93" x2="260.00" y2="421.93" stroke="#1a1a1a" stroke-width="1.0" />
<text transform="translate(255.00,424.13)" font-size="5.9" text-anchor="end" font-weight="normal" fill="#111" stroke="#111" stroke-width="0.165" >1.0</text>
<line x1="256.80" y1="404.40" x2="260.00" y2="404.40" stroke="#1a1a1a" stroke-width="1.0" />
<text transform="translate(255.00,406.60)" font-size="5.9" text-anchor="end" font-weight="normal" fill="#111" stroke="#111" stroke-width="0.165" >1.5</text>
<line x1="270.20" y1="457.00" x2="270.20" y2="460.00" stroke="#1a1a1a" stroke-width="1.0" />
<line x1="270.20" y1="448.93" x2="270.20" y2="406.85" stroke="#111" stroke-width="1.2" />
<line x1="266.51" y1="448.93" x2="273.89" y2="448.93" stroke="#111" stroke-width="1.3" />
<line x1="266.51" y1="406.85" x2="273.89" y2="406.85" stroke="#111" stroke-width="1.3" />
<rect x="264.05" y="427.37" width="12.30" height="17.71" fill="#bb1232" stroke="#1a1a1a" stroke-width="0.25" />
<line x1="264.05" y1="439.47" x2="276.35" y2="439.47" stroke="#151515" stroke-width="1.2" />
<text transform="translate(275.60,467.00) rotate(-45)" font-size="8.2" text-anchor="end" font-weight="normal" fill="#111" stroke="#111" stroke-width="0.230" >plerixafor</text>
<line x1="287.60" y1="457.00" x2="287.60" y2="460.00" stroke="#1a1a1a" stroke-width="1.0" />
<line x1="287.60" y1="457.00" x2="287.60" y2="447.01" stroke="#111" stroke-width="1.2" />
<line x1="283.91" y1="457.00" x2="291.29" y2="457.00" stroke="#111" stroke-width="1.3" />
<line x1="283.91" y1="447.01" x2="291.29" y2="447.01" stroke="#111" stroke-width="1.3" />
<rect x="281.45" y="453.60" width="12.30" height="3.40" fill="#15233c" stroke="#1a1a1a" stroke-width="0.25" />
<line x1="281.45" y1="455.60" x2="293.75" y2="455.60" stroke="#151515" stroke-width="1.2" />
<text transform="translate(293.00,467.00) rotate(-45)" font-size="8.2" text-anchor="end" font-weight="normal" fill="#111" stroke="#111" stroke-width="0.230" >G-CSF</text>
<text transform="translate(242.10,428.50) rotate(-90)" font-size="8.3" text-anchor="middle" font-weight="normal" fill="#111" stroke="#111" stroke-width="0.232" >No. cells (x10<tspan font-size="5.81" dx="0.33" dy="-2.99">5</tspan><tspan dy="2.99">)</tspan></text>
<line x1="52.30" y1="413.90" x2="70.30" y2="413.90" stroke="#1a1a1a" stroke-width="1.35" />
<text transform="translate(61.30,414.60)" font-size="8.2" text-anchor="middle" font-weight="bold" fill="#111" stroke="#111" stroke-width="0.250" >***</text>
<line x1="125.00" y1="403.60" x2="143.40" y2="403.60" stroke="#1a1a1a" stroke-width="1.35" />
<text transform="translate(134.20,404.30)" font-size="8.2" text-anchor="middle" font-weight="bold" fill="#111" stroke="#111" stroke-width="0.250" >***</text>
<line x1="270.40" y1="404.00" x2="288.00" y2="404.00" stroke="#1a1a1a" stroke-width="1.35" />
<text transform="translate(279.20,404.70)" font-size="8.2" text-anchor="middle" font-weight="bold" fill="#111" stroke="#111" stroke-width="0.250" >***</text>
<rect x="0.50" y="0.50" width="519.00" height="498.00" fill="none" stroke="#000" stroke-width="1.0" />
</svg>
</body></html>
